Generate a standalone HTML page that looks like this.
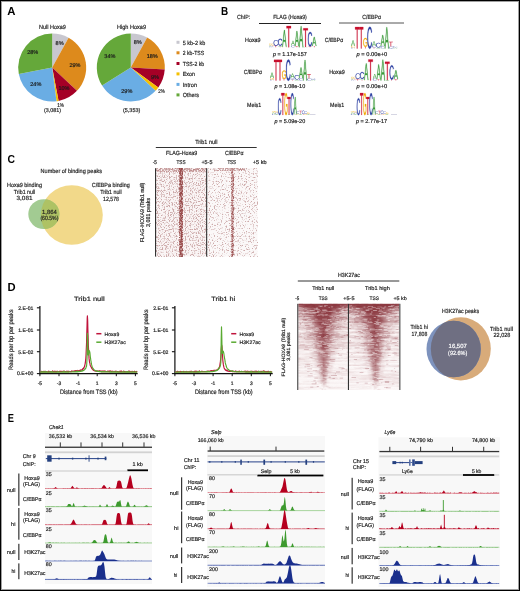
<!DOCTYPE html>
<html><head><meta charset="utf-8"><style>
html,body{margin:0;padding:0;background:#fff;}
#f{position:relative;width:520px;height:591px;overflow:hidden;background:#fff;}
#f svg{position:absolute;left:0;top:0;opacity:0.999;}
#bd{position:absolute;left:0;top:0;width:518px;height:589px;border:1px solid #000;box-shadow:inset 0 0 0 1px #a0a0a0;}
text{font-family:"Liberation Sans", sans-serif;text-rendering:geometricPrecision;}
</style></head><body><div id="f">
<svg width="520" height="591" viewBox="0 0 520 591" font-family="Liberation Sans, sans-serif" fill="#222">
<text x="7.20" y="14.60" font-size="11.6" font-weight="bold" fill="#000" textLength="8.20" lengthAdjust="spacingAndGlyphs">A</text>
<text x="221.00" y="15.00" font-size="11.6" font-weight="bold" fill="#000" textLength="7.20" lengthAdjust="spacingAndGlyphs">B</text>
<text x="7.40" y="162.80" font-size="11.6" font-weight="bold" fill="#000" textLength="7.50" lengthAdjust="spacingAndGlyphs">C</text>
<text x="7.40" y="291.40" font-size="11.6" font-weight="bold" fill="#000" textLength="8.10" lengthAdjust="spacingAndGlyphs">D</text>
<text x="7.70" y="422.00" font-size="11.6" font-weight="bold" fill="#000" textLength="6.20" lengthAdjust="spacingAndGlyphs">E</text>
<path d="M52.20,67.60 L52.20,33.60 A34,34 0 0 1 68.58,37.81 Z" fill="#c8c7cf"/>
<path d="M52.20,67.60 L68.58,37.81 A34,34 0 0 1 76.98,90.87 Z" fill="#dd8a1c"/>
<path d="M52.20,67.60 L76.98,90.87 A34,34 0 0 1 58.57,101.00 Z" fill="#a50026"/>
<path d="M52.20,67.60 L58.57,101.00 A34,34 0 0 1 56.46,101.33 Z" fill="#f5c000"/>
<path d="M52.20,67.60 L56.46,101.33 A34,34 0 0 1 18.80,73.97 Z" fill="#6aade4"/>
<path d="M52.20,67.60 L18.80,73.97 A34,34 0 0 1 52.20,33.60 Z" fill="#65a83a"/>
<path d="M130.80,67.40 L130.80,33.40 A34,34 0 0 1 147.18,37.61 Z" fill="#c8c7cf"/>
<path d="M130.80,67.40 L147.18,37.61 A34,34 0 0 1 164.73,69.53 Z" fill="#dd8a1c"/>
<path d="M130.80,67.40 L164.73,69.53 A34,34 0 0 1 158.31,87.38 Z" fill="#a50026"/>
<path d="M130.80,67.40 L158.31,87.38 A34,34 0 0 1 155.58,90.67 Z" fill="#f5c000"/>
<path d="M130.80,67.40 L155.58,90.67 A34,34 0 0 1 102.09,85.62 Z" fill="#6aade4"/>
<path d="M130.80,67.40 L102.09,85.62 A34,34 0 0 1 130.80,33.40 Z" fill="#65a83a"/>
<text x="39.00" y="29.00" font-size="5.94" textLength="26.80" lengthAdjust="spacingAndGlyphs" stroke="#222" stroke-width="0.18">Null Hoxa9</text>
<text x="117.00" y="29.00" font-size="5.94" textLength="29.00" lengthAdjust="spacingAndGlyphs" stroke="#222" stroke-width="0.18">High Hoxa9</text>
<text x="44.00" y="112.00" font-size="5.54" textLength="17.00" lengthAdjust="spacingAndGlyphs" stroke="#222" stroke-width="0.18">(3,081)</text>
<text x="123.00" y="112.00" font-size="5.54" textLength="17.30" lengthAdjust="spacingAndGlyphs" stroke="#222" stroke-width="0.18">(5,353)</text>
<text x="57.30" y="106.50" font-size="5.54" textLength="6.70" lengthAdjust="spacingAndGlyphs" stroke="#222" stroke-width="0.18">1%</text>
<text x="158.30" y="93.20" font-size="5.54" textLength="6.50" lengthAdjust="spacingAndGlyphs" stroke="#222" stroke-width="0.18">2%</text>
<text x="59.60" y="44.60" font-size="5.54" text-anchor="middle" fill="#1a1a1a" textLength="8.01" lengthAdjust="spacingAndGlyphs" stroke="#1a1a1a" stroke-width="0.18">8%</text>
<text x="75.00" y="67.40" font-size="5.54" text-anchor="middle" fill="#1a1a1a" textLength="11.10" lengthAdjust="spacingAndGlyphs" stroke="#1a1a1a" stroke-width="0.18">29%</text>
<text x="64.00" y="90.00" font-size="5.54" text-anchor="middle" fill="#1a1a1a" textLength="11.10" lengthAdjust="spacingAndGlyphs" stroke="#1a1a1a" stroke-width="0.18">10%</text>
<text x="35.80" y="86.00" font-size="5.54" text-anchor="middle" fill="#1a1a1a" textLength="11.10" lengthAdjust="spacingAndGlyphs" stroke="#1a1a1a" stroke-width="0.18">24%</text>
<text x="32.70" y="54.30" font-size="5.54" text-anchor="middle" fill="#1a1a1a" textLength="11.10" lengthAdjust="spacingAndGlyphs" stroke="#1a1a1a" stroke-width="0.18">28%</text>
<text x="137.80" y="43.70" font-size="5.54" text-anchor="middle" fill="#1a1a1a" textLength="8.01" lengthAdjust="spacingAndGlyphs" stroke="#1a1a1a" stroke-width="0.18">8%</text>
<text x="152.20" y="58.00" font-size="5.54" text-anchor="middle" fill="#1a1a1a" textLength="11.10" lengthAdjust="spacingAndGlyphs" stroke="#1a1a1a" stroke-width="0.18">18%</text>
<text x="155.00" y="78.80" font-size="5.54" text-anchor="middle" fill="#1a1a1a" textLength="8.01" lengthAdjust="spacingAndGlyphs" stroke="#1a1a1a" stroke-width="0.18">9%</text>
<text x="126.80" y="93.00" font-size="5.54" text-anchor="middle" fill="#1a1a1a" textLength="11.10" lengthAdjust="spacingAndGlyphs" stroke="#1a1a1a" stroke-width="0.18">29%</text>
<text x="109.90" y="58.00" font-size="5.54" text-anchor="middle" fill="#1a1a1a" textLength="11.10" lengthAdjust="spacingAndGlyphs" stroke="#1a1a1a" stroke-width="0.18">34%</text>
<rect x="176.50" y="40.80" width="3.00" height="3.00" fill="#c8c7cf"/>
<text x="182.80" y="44.50" font-size="5.94" textLength="22.40" lengthAdjust="spacingAndGlyphs" stroke="#222" stroke-width="0.18">5 kb-2 kb</text>
<rect x="176.50" y="51.30" width="3.00" height="3.00" fill="#dd8a1c"/>
<text x="182.80" y="55.00" font-size="5.94" textLength="21.30" lengthAdjust="spacingAndGlyphs" stroke="#222" stroke-width="0.18">2 kb-TSS</text>
<rect x="176.50" y="62.00" width="3.00" height="3.00" fill="#a50026"/>
<text x="182.80" y="65.70" font-size="5.94" textLength="21.30" lengthAdjust="spacingAndGlyphs" stroke="#222" stroke-width="0.18">TSS-2 kb</text>
<rect x="176.50" y="72.40" width="3.00" height="3.00" fill="#f5c000"/>
<text x="182.80" y="76.10" font-size="5.94" textLength="12.10" lengthAdjust="spacingAndGlyphs" stroke="#222" stroke-width="0.18">Exon</text>
<rect x="176.50" y="82.90" width="3.00" height="3.00" fill="#6aade4"/>
<text x="182.80" y="86.60" font-size="5.94" textLength="14.20" lengthAdjust="spacingAndGlyphs" stroke="#222" stroke-width="0.18">Intron</text>
<rect x="176.50" y="93.40" width="3.00" height="3.00" fill="#65a83a"/>
<text x="182.80" y="97.10" font-size="5.94" textLength="16.20" lengthAdjust="spacingAndGlyphs" stroke="#222" stroke-width="0.18">Others</text>
<text x="237.00" y="18.70" font-size="5.94" textLength="13.30" lengthAdjust="spacingAndGlyphs" stroke="#222" stroke-width="0.18">ChIP:</text>
<text x="273.20" y="18.70" font-size="5.94" textLength="33.60" lengthAdjust="spacingAndGlyphs" stroke="#222" stroke-width="0.18">FLAG (Hoxa9)</text>
<text x="362.30" y="18.70" font-size="5.94" textLength="18.70" lengthAdjust="spacingAndGlyphs" stroke="#222" stroke-width="0.18">C/EBPα</text>
<line x1="259.00" y1="23.50" x2="321.00" y2="23.50" stroke="#222" stroke-width="1"/>
<line x1="339.00" y1="23.00" x2="404.00" y2="23.00" stroke="#555" stroke-width="1"/>
<text x="245.00" y="41.80" font-size="5.94" textLength="15.60" lengthAdjust="spacingAndGlyphs" stroke="#222" stroke-width="0.18">Hoxa9</text>
<text x="243.70" y="74.40" font-size="5.94" textLength="18.30" lengthAdjust="spacingAndGlyphs" stroke="#222" stroke-width="0.18">C/EBPα</text>
<text x="247.00" y="106.90" font-size="5.94" textLength="14.20" lengthAdjust="spacingAndGlyphs" stroke="#222" stroke-width="0.18">Meis1</text>
<text x="324.80" y="41.50" font-size="5.94" textLength="18.40" lengthAdjust="spacingAndGlyphs" stroke="#222" stroke-width="0.18">C/EBPα</text>
<text x="329.20" y="74.10" font-size="5.94" textLength="15.60" lengthAdjust="spacingAndGlyphs" stroke="#222" stroke-width="0.18">Hoxa9</text>
<text x="330.00" y="106.90" font-size="5.94" textLength="14.20" lengthAdjust="spacingAndGlyphs" stroke="#222" stroke-width="0.18">Meis1</text>
<text x="273.00" y="55.90" font-size="5.54" textLength="33.70" lengthAdjust="spacingAndGlyphs" stroke="#222" stroke-width="0.18"><tspan font-style="italic">p</tspan> = 1.17e-157</text>
<text x="274.40" y="88.00" font-size="5.54" textLength="30.80" lengthAdjust="spacingAndGlyphs" stroke="#222" stroke-width="0.18"><tspan font-style="italic">p</tspan> = 1.08e-10</text>
<text x="274.40" y="122.90" font-size="5.54" textLength="30.80" lengthAdjust="spacingAndGlyphs" stroke="#222" stroke-width="0.18"><tspan font-style="italic">p</tspan> = 5.09e-20</text>
<text x="356.50" y="55.90" font-size="5.54" textLength="30.80" lengthAdjust="spacingAndGlyphs" stroke="#222" stroke-width="0.18"><tspan font-style="italic">p</tspan> = 0.00e+0</text>
<text x="356.50" y="88.00" font-size="5.54" textLength="30.80" lengthAdjust="spacingAndGlyphs" stroke="#222" stroke-width="0.18"><tspan font-style="italic">p</tspan> = 0.00e+0</text>
<text x="356.00" y="122.90" font-size="5.54" textLength="31.00" lengthAdjust="spacingAndGlyphs" stroke="#222" stroke-width="0.18"><tspan font-style="italic">p</tspan> = 2.77e-17</text>
<defs><path id="gA" d="M1167 0 1006 -412H364L202 0H4L579 -1409H796L1362 0ZM685 -1265 676 -1237Q651 -1154 602 -1024L422 -561H949L768 -1026Q740 -1095 712 -1182Z" vector-effect="non-scaling-stroke"/><path id="gC" d="M792 -1274Q558 -1274 428 -1124Q298 -973 298 -711Q298 -452 434 -294Q569 -137 800 -137Q1096 -137 1245 -430L1401 -352Q1314 -170 1156 -75Q999 20 791 20Q578 20 422 -68Q267 -157 186 -322Q104 -486 104 -711Q104 -1048 286 -1239Q468 -1430 790 -1430Q1015 -1430 1166 -1342Q1317 -1254 1388 -1081L1207 -1021Q1158 -1144 1050 -1209Q941 -1274 792 -1274Z" vector-effect="non-scaling-stroke"/><path id="gG" d="M103 -711Q103 -1054 287 -1242Q471 -1430 804 -1430Q1038 -1430 1184 -1351Q1330 -1272 1409 -1098L1227 -1044Q1167 -1164 1062 -1219Q956 -1274 799 -1274Q555 -1274 426 -1126Q297 -979 297 -711Q297 -444 434 -290Q571 -135 813 -135Q951 -135 1070 -177Q1190 -219 1264 -291V-545H843V-705H1440V-219Q1328 -105 1166 -42Q1003 20 813 20Q592 20 432 -68Q272 -156 188 -322Q103 -487 103 -711Z" vector-effect="non-scaling-stroke"/><path id="gT" d="M720 -1253V0H530V-1253H46V-1409H1204V-1253Z" vector-effect="non-scaling-stroke"/></defs>
<use href="#gC" transform="translate(268.82,47.30) scale(0.00173,0.00071)" fill="#2a3ea0" opacity="0.8"/>
<use href="#gA" transform="translate(268.99,46.30) scale(0.00166,0.00071)" fill="#3b9b3b" opacity="0.8"/>
<use href="#gG" transform="translate(268.83,45.30) scale(0.00168,0.00121)" fill="#f0a800" opacity="0.8"/>
<use href="#gC" transform="translate(271.07,47.30) scale(0.00173,0.00071)" fill="#2a3ea0" opacity="0.8"/>
<use href="#gT" transform="translate(271.16,46.30) scale(0.00194,0.00057)" fill="#c8102e" opacity="0.8"/>
<use href="#gG" transform="translate(271.08,45.50) scale(0.00168,0.00135)" fill="#f0a800" opacity="0.8"/>
<use href="#gT" transform="translate(273.32,47.30) scale(0.00389,0.00106)" fill="#c8102e" opacity="0.8"/>
<use href="#gC" transform="translate(273.14,45.80) scale(0.00347,0.00412)" fill="#2a3ea0"/>
<use href="#gT" transform="translate(277.83,47.30) scale(0.00367,0.00043)" fill="#c8102e" opacity="0.8"/>
<use href="#gA" transform="translate(277.99,46.70) scale(0.00313,0.00071)" fill="#3b9b3b" opacity="0.8"/>
<use href="#gC" transform="translate(277.66,45.70) scale(0.00328,0.00490)" fill="#2a3ea0" stroke="#2a3ea0" stroke-width="0.22"/>
<use href="#gG" transform="translate(281.92,47.30) scale(0.00318,0.00043)" fill="#f0a800" opacity="0.8"/>
<use href="#gA" transform="translate(282.24,46.70) scale(0.00313,0.01185)" fill="#3b9b3b" stroke="#3b9b3b" stroke-width="0.22"/>
<use href="#gT" transform="translate(286.32,47.30) scale(0.00389,0.01512)" fill="#c8102e" stroke="#c8102e" stroke-width="0.22"/>
<use href="#gC" transform="translate(290.69,47.30) scale(0.00297,0.00135)" fill="#2a3ea0" opacity="0.8"/>
<use href="#gA" transform="translate(290.99,45.40) scale(0.00284,0.00334)" fill="#3b9b3b"/>
<use href="#gT" transform="translate(294.69,47.30) scale(0.00350,0.00085)" fill="#c8102e" opacity="0.8"/>
<use href="#gA" transform="translate(294.84,46.10) scale(0.00298,0.01072)" fill="#3b9b3b" stroke="#3b9b3b" stroke-width="0.22"/>
<use href="#gA" transform="translate(298.89,47.30) scale(0.00324,0.01498)" fill="#3b9b3b" stroke="#3b9b3b" stroke-width="0.22"/>
<use href="#gA" transform="translate(303.29,47.30) scale(0.00339,0.00028)" fill="#3b9b3b" opacity="0.8"/>
<use href="#gT" transform="translate(303.12,46.90) scale(0.00397,0.01320)" fill="#c8102e" stroke="#c8102e" stroke-width="0.22"/>
<use href="#gT" transform="translate(307.73,47.30) scale(0.00363,0.00071)" fill="#c8102e" opacity="0.8"/>
<use href="#gC" transform="translate(307.56,46.30) scale(0.00324,0.01008)" fill="#2a3ea0" stroke="#2a3ea0" stroke-width="0.22"/>
<use href="#gT" transform="translate(311.93,47.30) scale(0.00371,0.00099)" fill="#c8102e" opacity="0.8"/>
<use href="#gA" transform="translate(312.09,45.90) scale(0.00317,0.00639)" fill="#3b9b3b" stroke="#3b9b3b" stroke-width="0.22"/>
<use href="#gC" transform="translate(269.68,80.50) scale(0.00308,0.00071)" fill="#2a3ea0" opacity="0.8"/>
<use href="#gG" transform="translate(269.69,79.50) scale(0.00299,0.00106)" fill="#f0a800" opacity="0.8"/>
<use href="#gA" transform="translate(269.99,78.00) scale(0.00295,0.00390)" fill="#3b9b3b"/>
<use href="#gT" transform="translate(273.84,80.50) scale(0.00345,0.01469)" fill="#c8102e" stroke="#c8102e" stroke-width="0.22"/>
<use href="#gT" transform="translate(277.84,80.50) scale(0.00345,0.01469)" fill="#c8102e" stroke="#c8102e" stroke-width="0.22"/>
<use href="#gT" transform="translate(281.84,80.50) scale(0.00345,0.00128)" fill="#c8102e" opacity="0.8"/>
<use href="#gG" transform="translate(281.69,78.70) scale(0.00299,0.00582)" fill="#f0a800" stroke="#f0a800" stroke-width="0.22"/>
<use href="#gC" transform="translate(285.64,80.50) scale(0.00347,0.01469)" fill="#2a3ea0" stroke="#2a3ea0" stroke-width="0.22"/>
<use href="#gT" transform="translate(290.34,80.50) scale(0.00345,0.00071)" fill="#c8102e" opacity="0.8"/>
<use href="#gC" transform="translate(290.18,79.50) scale(0.00308,0.00106)" fill="#2a3ea0" opacity="0.8"/>
<use href="#gA" transform="translate(290.49,78.00) scale(0.00295,0.00319)" fill="#3b9b3b"/>
<use href="#gA" transform="translate(294.49,80.50) scale(0.00331,0.00071)" fill="#3b9b3b" opacity="0.8"/>
<use href="#gC" transform="translate(294.14,79.50) scale(0.00347,0.00319)" fill="#2a3ea0"/>
<use href="#gC" transform="translate(298.68,80.50) scale(0.00308,0.00177)" fill="#2a3ea0" opacity="0.8"/>
<use href="#gA" transform="translate(298.99,78.00) scale(0.00295,0.00745)" fill="#3b9b3b" stroke="#3b9b3b" stroke-width="0.22"/>
<use href="#gA" transform="translate(302.99,80.50) scale(0.00295,0.01455)" fill="#3b9b3b" stroke="#3b9b3b" stroke-width="0.22"/>
<use href="#gC" transform="translate(306.68,80.50) scale(0.00308,0.00142)" fill="#2a3ea0" opacity="0.8"/>
<use href="#gT" transform="translate(306.84,78.50) scale(0.00345,0.00319)" fill="#c8102e"/>
<use href="#gA" transform="translate(310.99,80.50) scale(0.00331,0.00057)" fill="#3b9b3b" opacity="0.8"/>
<use href="#gC" transform="translate(310.64,79.70) scale(0.00347,0.00085)" fill="#2a3ea0" opacity="0.8"/>
<use href="#gC" transform="translate(271.76,115.00) scale(0.00231,0.00071)" fill="#2a3ea0" opacity="0.8"/>
<use href="#gA" transform="translate(271.99,114.00) scale(0.00221,0.00099)" fill="#3b9b3b" opacity="0.8"/>
<use href="#gG" transform="translate(271.77,112.60) scale(0.00224,0.00114)" fill="#f0a800" opacity="0.8"/>
<use href="#gA" transform="translate(274.99,115.00) scale(0.00221,0.00071)" fill="#3b9b3b" opacity="0.8"/>
<use href="#gC" transform="translate(274.76,114.00) scale(0.00231,0.00085)" fill="#2a3ea0" opacity="0.8"/>
<use href="#gG" transform="translate(274.77,112.80) scale(0.00224,0.00128)" fill="#f0a800" opacity="0.8"/>
<use href="#gC" transform="translate(277.74,115.00) scale(0.00251,0.01178)" fill="#2a3ea0" stroke="#2a3ea0" stroke-width="0.22"/>
<use href="#gT" transform="translate(281.12,115.00) scale(0.00281,0.01561)" fill="#c8102e" stroke="#c8102e" stroke-width="0.22"/>
<use href="#gG" transform="translate(284.28,115.00) scale(0.00217,0.01547)" fill="#f0a800" stroke="#f0a800" stroke-width="0.22"/>
<use href="#gA" transform="translate(287.39,115.00) scale(0.00239,0.00028)" fill="#3b9b3b" opacity="0.8"/>
<use href="#gT" transform="translate(287.27,114.60) scale(0.00281,0.01249)" fill="#c8102e" stroke="#c8102e" stroke-width="0.22"/>
<use href="#gC" transform="translate(290.40,115.00) scale(0.00239,0.01540)" fill="#2a3ea0" stroke="#2a3ea0" stroke-width="0.22"/>
<use href="#gT" transform="translate(293.63,115.00) scale(0.00250,0.00043)" fill="#c8102e" opacity="0.8"/>
<use href="#gA" transform="translate(293.74,114.40) scale(0.00214,0.01235)" fill="#3b9b3b" stroke="#3b9b3b" stroke-width="0.22"/>
<use href="#gG" transform="translate(296.45,115.00) scale(0.00194,0.00085)" fill="#f0a800" opacity="0.8"/>
<use href="#gC" transform="translate(296.44,113.80) scale(0.00200,0.00199)" fill="#2a3ea0" opacity="0.8"/>
<use href="#gA" transform="translate(299.24,115.00) scale(0.00191,0.00085)" fill="#3b9b3b" opacity="0.8"/>
<use href="#gT" transform="translate(299.15,113.80) scale(0.00225,0.00213)" fill="#c8102e" opacity="0.8"/>
<use href="#gT" transform="translate(301.75,115.00) scale(0.00225,0.00071)" fill="#c8102e" opacity="0.8"/>
<use href="#gC" transform="translate(301.64,114.00) scale(0.00200,0.00241)" fill="#2a3ea0"/>
<use href="#gG" transform="translate(304.25,115.00) scale(0.00194,0.00071)" fill="#f0a800" opacity="0.8"/>
<use href="#gC" transform="translate(304.24,114.00) scale(0.00200,0.00213)" fill="#2a3ea0" opacity="0.8"/>
<use href="#gA" transform="translate(307.04,115.00) scale(0.00191,0.00071)" fill="#3b9b3b" opacity="0.8"/>
<use href="#gG" transform="translate(306.85,114.00) scale(0.00194,0.00114)" fill="#f0a800" opacity="0.8"/>
<rect x="309.5" y="114" width="6" height="0.8" fill="#ccd"/>
<use href="#gC" transform="translate(350.67,48.50) scale(0.00315,0.00074)" fill="#2a3ea0" opacity="0.8"/>
<use href="#gG" transform="translate(350.68,47.46) scale(0.00306,0.00111)" fill="#f0a800" opacity="0.8"/>
<use href="#gA" transform="translate(350.99,45.90) scale(0.00301,0.00405)" fill="#3b9b3b"/>
<use href="#gT" transform="translate(354.93,48.50) scale(0.00353,0.01526)" fill="#c8102e" stroke="#c8102e" stroke-width="0.22"/>
<use href="#gT" transform="translate(359.02,48.50) scale(0.00353,0.01526)" fill="#c8102e" stroke="#c8102e" stroke-width="0.22"/>
<use href="#gT" transform="translate(363.10,48.50) scale(0.00353,0.00133)" fill="#c8102e" opacity="0.8"/>
<use href="#gG" transform="translate(362.95,46.63) scale(0.00306,0.00604)" fill="#f0a800" stroke="#f0a800" stroke-width="0.22"/>
<use href="#gC" transform="translate(366.99,48.50) scale(0.00355,0.01526)" fill="#2a3ea0" stroke="#2a3ea0" stroke-width="0.22"/>
<use href="#gT" transform="translate(371.79,48.50) scale(0.00353,0.00074)" fill="#c8102e" opacity="0.8"/>
<use href="#gC" transform="translate(371.63,47.46) scale(0.00315,0.00111)" fill="#2a3ea0" opacity="0.8"/>
<use href="#gA" transform="translate(371.94,45.90) scale(0.00301,0.00332)" fill="#3b9b3b"/>
<use href="#gA" transform="translate(376.03,48.50) scale(0.00339,0.00074)" fill="#3b9b3b" opacity="0.8"/>
<use href="#gC" transform="translate(375.68,47.46) scale(0.00355,0.00332)" fill="#2a3ea0"/>
<use href="#gC" transform="translate(380.32,48.50) scale(0.00315,0.00184)" fill="#2a3ea0" opacity="0.8"/>
<use href="#gA" transform="translate(380.63,45.90) scale(0.00301,0.00774)" fill="#3b9b3b" stroke="#3b9b3b" stroke-width="0.22"/>
<use href="#gA" transform="translate(384.72,48.50) scale(0.00301,0.01511)" fill="#3b9b3b" stroke="#3b9b3b" stroke-width="0.22"/>
<use href="#gC" transform="translate(388.49,48.50) scale(0.00315,0.00147)" fill="#2a3ea0" opacity="0.8"/>
<use href="#gT" transform="translate(388.66,46.42) scale(0.00353,0.00332)" fill="#c8102e"/>
<use href="#gA" transform="translate(392.90,48.50) scale(0.00339,0.00059)" fill="#3b9b3b" opacity="0.8"/>
<use href="#gC" transform="translate(392.54,47.67) scale(0.00355,0.00088)" fill="#2a3ea0" opacity="0.8"/>
<use href="#gC" transform="translate(350.82,80.50) scale(0.00172,0.00070)" fill="#2a3ea0" opacity="0.8"/>
<use href="#gA" transform="translate(350.99,79.51) scale(0.00164,0.00070)" fill="#3b9b3b" opacity="0.8"/>
<use href="#gG" transform="translate(350.83,78.53) scale(0.00167,0.00119)" fill="#f0a800" opacity="0.8"/>
<use href="#gC" transform="translate(353.05,80.50) scale(0.00172,0.00070)" fill="#2a3ea0" opacity="0.8"/>
<use href="#gT" transform="translate(353.14,79.51) scale(0.00193,0.00056)" fill="#c8102e" opacity="0.8"/>
<use href="#gG" transform="translate(353.06,78.73) scale(0.00167,0.00133)" fill="#f0a800" opacity="0.8"/>
<use href="#gT" transform="translate(355.28,80.50) scale(0.00385,0.00105)" fill="#c8102e" opacity="0.8"/>
<use href="#gC" transform="translate(355.10,79.02) scale(0.00344,0.00406)" fill="#2a3ea0"/>
<use href="#gT" transform="translate(359.76,80.50) scale(0.00364,0.00042)" fill="#c8102e" opacity="0.8"/>
<use href="#gA" transform="translate(359.91,79.91) scale(0.00310,0.00070)" fill="#3b9b3b" opacity="0.8"/>
<use href="#gC" transform="translate(359.59,78.92) scale(0.00325,0.00483)" fill="#2a3ea0" stroke="#2a3ea0" stroke-width="0.22"/>
<use href="#gG" transform="translate(363.81,80.50) scale(0.00315,0.00042)" fill="#f0a800" opacity="0.8"/>
<use href="#gA" transform="translate(364.13,79.91) scale(0.00310,0.01169)" fill="#3b9b3b" stroke="#3b9b3b" stroke-width="0.22"/>
<use href="#gT" transform="translate(368.18,80.50) scale(0.00385,0.01490)" fill="#c8102e" stroke="#c8102e" stroke-width="0.22"/>
<use href="#gC" transform="translate(372.51,80.50) scale(0.00294,0.00133)" fill="#2a3ea0" opacity="0.8"/>
<use href="#gA" transform="translate(372.80,78.63) scale(0.00281,0.00329)" fill="#3b9b3b"/>
<use href="#gT" transform="translate(376.47,80.50) scale(0.00347,0.00084)" fill="#c8102e" opacity="0.8"/>
<use href="#gA" transform="translate(376.62,79.32) scale(0.00296,0.01057)" fill="#3b9b3b" stroke="#3b9b3b" stroke-width="0.22"/>
<use href="#gA" transform="translate(380.63,80.50) scale(0.00321,0.01476)" fill="#3b9b3b" stroke="#3b9b3b" stroke-width="0.22"/>
<use href="#gA" transform="translate(385.00,80.50) scale(0.00336,0.00028)" fill="#3b9b3b" opacity="0.8"/>
<use href="#gT" transform="translate(384.83,80.11) scale(0.00394,0.01301)" fill="#c8102e" stroke="#c8102e" stroke-width="0.22"/>
<use href="#gT" transform="translate(389.41,80.50) scale(0.00360,0.00070)" fill="#c8102e" opacity="0.8"/>
<use href="#gC" transform="translate(389.24,79.51) scale(0.00321,0.00994)" fill="#2a3ea0" stroke="#2a3ea0" stroke-width="0.22"/>
<use href="#gT" transform="translate(393.57,80.50) scale(0.00368,0.00098)" fill="#c8102e" opacity="0.8"/>
<use href="#gA" transform="translate(393.72,79.12) scale(0.00314,0.00630)" fill="#3b9b3b" stroke="#3b9b3b" stroke-width="0.22"/>
<use href="#gC" transform="translate(350.56,115.00) scale(0.00231,0.00071)" fill="#2a3ea0" opacity="0.8"/>
<use href="#gA" transform="translate(350.79,114.00) scale(0.00221,0.00099)" fill="#3b9b3b" opacity="0.8"/>
<use href="#gG" transform="translate(350.57,112.60) scale(0.00224,0.00114)" fill="#f0a800" opacity="0.8"/>
<use href="#gA" transform="translate(353.79,115.00) scale(0.00221,0.00071)" fill="#3b9b3b" opacity="0.8"/>
<use href="#gC" transform="translate(353.56,114.00) scale(0.00231,0.00085)" fill="#2a3ea0" opacity="0.8"/>
<use href="#gG" transform="translate(353.57,112.80) scale(0.00224,0.00128)" fill="#f0a800" opacity="0.8"/>
<use href="#gC" transform="translate(356.54,115.00) scale(0.00251,0.01178)" fill="#2a3ea0" stroke="#2a3ea0" stroke-width="0.22"/>
<use href="#gT" transform="translate(359.92,115.00) scale(0.00281,0.01561)" fill="#c8102e" stroke="#c8102e" stroke-width="0.22"/>
<use href="#gG" transform="translate(363.08,115.00) scale(0.00217,0.01547)" fill="#f0a800" stroke="#f0a800" stroke-width="0.22"/>
<use href="#gA" transform="translate(366.19,115.00) scale(0.00239,0.00028)" fill="#3b9b3b" opacity="0.8"/>
<use href="#gT" transform="translate(366.07,114.60) scale(0.00281,0.01249)" fill="#c8102e" stroke="#c8102e" stroke-width="0.22"/>
<use href="#gC" transform="translate(369.20,115.00) scale(0.00239,0.01540)" fill="#2a3ea0" stroke="#2a3ea0" stroke-width="0.22"/>
<use href="#gT" transform="translate(372.43,115.00) scale(0.00250,0.00043)" fill="#c8102e" opacity="0.8"/>
<use href="#gA" transform="translate(372.54,114.40) scale(0.00214,0.01235)" fill="#3b9b3b" stroke="#3b9b3b" stroke-width="0.22"/>
<use href="#gG" transform="translate(375.25,115.00) scale(0.00194,0.00085)" fill="#f0a800" opacity="0.8"/>
<use href="#gC" transform="translate(375.24,113.80) scale(0.00200,0.00199)" fill="#2a3ea0" opacity="0.8"/>
<use href="#gA" transform="translate(378.04,115.00) scale(0.00191,0.00085)" fill="#3b9b3b" opacity="0.8"/>
<use href="#gT" transform="translate(377.95,113.80) scale(0.00225,0.00213)" fill="#c8102e" opacity="0.8"/>
<use href="#gT" transform="translate(380.55,115.00) scale(0.00225,0.00071)" fill="#c8102e" opacity="0.8"/>
<use href="#gC" transform="translate(380.44,114.00) scale(0.00200,0.00241)" fill="#2a3ea0"/>
<use href="#gG" transform="translate(383.05,115.00) scale(0.00194,0.00071)" fill="#f0a800" opacity="0.8"/>
<use href="#gC" transform="translate(383.04,114.00) scale(0.00200,0.00213)" fill="#2a3ea0" opacity="0.8"/>
<use href="#gA" transform="translate(385.84,115.00) scale(0.00191,0.00071)" fill="#3b9b3b" opacity="0.8"/>
<use href="#gG" transform="translate(385.65,114.00) scale(0.00194,0.00114)" fill="#f0a800" opacity="0.8"/>
<rect x="391" y="114" width="6" height="0.8" fill="#ccd"/>
<text x="40.60" y="173.00" font-size="5.94" textLength="61.40" lengthAdjust="spacingAndGlyphs" stroke="#222" stroke-width="0.18">Number of binding peaks</text>
<text x="24.50" y="187.20" font-size="5.94" text-anchor="middle" textLength="34.90" lengthAdjust="spacingAndGlyphs" stroke="#222" stroke-width="0.18">Hoxa9 binding</text>
<text x="24.50" y="194.00" font-size="5.94" text-anchor="middle" textLength="21.50" lengthAdjust="spacingAndGlyphs" stroke="#222" stroke-width="0.18">Trib1 null</text>
<text x="24.50" y="200.40" font-size="5.94" text-anchor="middle" textLength="16.00" lengthAdjust="spacingAndGlyphs" stroke="#222" stroke-width="0.18">3,081</text>
<text x="110.80" y="187.20" font-size="5.94" text-anchor="middle" textLength="38.00" lengthAdjust="spacingAndGlyphs" stroke="#222" stroke-width="0.18">C/EBPa binding</text>
<text x="110.95" y="194.00" font-size="5.94" text-anchor="middle" textLength="21.50" lengthAdjust="spacingAndGlyphs" stroke="#222" stroke-width="0.18">Trib1 null</text>
<text x="111.00" y="200.70" font-size="5.94" text-anchor="middle" textLength="16.00" lengthAdjust="spacingAndGlyphs" stroke="#222" stroke-width="0.18">12,578</text>
<ellipse cx="71.8" cy="215" rx="31" ry="29.7" fill="#f2d98a"/>
<ellipse cx="43.85" cy="214.1" rx="15.55" ry="14.95" fill="#a2cb92"/>
<clipPath id="cv"><ellipse cx="71.8" cy="215" rx="31" ry="29.7"/></clipPath>
<ellipse cx="43.85" cy="214.1" rx="15.55" ry="14.95" fill="#aec264" clip-path="url(#cv)"/>
<text x="49.40" y="214.40" font-size="5.94" text-anchor="middle" textLength="14.86" lengthAdjust="spacingAndGlyphs" stroke="#222" stroke-width="0.18">1,864</text>
<text x="49.40" y="220.30" font-size="5.94" text-anchor="middle" textLength="18.00" lengthAdjust="spacingAndGlyphs" stroke="#222" stroke-width="0.18">(60.5%)</text>
<text x="195.20" y="143.50" font-size="5.94" textLength="22.20" lengthAdjust="spacingAndGlyphs" stroke="#222" stroke-width="0.18">Trib1 null</text>
<line x1="155.80" y1="147.50" x2="256.70" y2="147.50" stroke="#333" stroke-width="1"/>
<text x="166.00" y="155.30" font-size="5.94" textLength="31.20" lengthAdjust="spacingAndGlyphs" stroke="#222" stroke-width="0.18">FLAG-Hoxa9</text>
<text x="224.90" y="155.30" font-size="5.94" textLength="18.60" lengthAdjust="spacingAndGlyphs" stroke="#222" stroke-width="0.18">C/EBPα</text>
<text x="152.80" y="164.30" font-size="5.54" textLength="4.20" lengthAdjust="spacingAndGlyphs" stroke="#222" stroke-width="0.18">-5</text>
<text x="176.50" y="164.30" font-size="5.54" textLength="9.00" lengthAdjust="spacingAndGlyphs" stroke="#222" stroke-width="0.18">TSS</text>
<text x="201.40" y="164.30" font-size="5.54" textLength="11.10" lengthAdjust="spacingAndGlyphs" stroke="#222" stroke-width="0.18">+5-5</text>
<text x="227.40" y="164.30" font-size="5.54" textLength="8.70" lengthAdjust="spacingAndGlyphs" stroke="#222" stroke-width="0.18">TSS</text>
<text x="252.80" y="164.30" font-size="5.54" textLength="13.80" lengthAdjust="spacingAndGlyphs" stroke="#222" stroke-width="0.18">+5 kb</text>
<text transform="translate(144.10,212.50) rotate(-90)" font-size="5.6" text-anchor="middle" textLength="59.70" lengthAdjust="spacingAndGlyphs" stroke="#222" stroke-width="0.18">FLAG-HOXA9 (Trib1 null)</text>
<text transform="translate(149.60,212.40) rotate(-90)" font-size="5.6" text-anchor="middle" textLength="29.20" lengthAdjust="spacingAndGlyphs" stroke="#222" stroke-width="0.18">3,081 peaks</text>
<line x1="39.90" y1="306.00" x2="39.90" y2="374.20" stroke="#111" stroke-width="1.2"/>
<line x1="39.30" y1="373.60" x2="137.70" y2="373.60" stroke="#111" stroke-width="1.2"/>
<line x1="36.90" y1="307.80" x2="39.90" y2="307.80" stroke="#111" stroke-width="1.1"/>
<text x="33.40" y="309.60" font-size="5.15" text-anchor="end" textLength="15.17" lengthAdjust="spacingAndGlyphs" stroke="#222" stroke-width="0.18">2.E-01</text>
<line x1="36.90" y1="330.00" x2="39.90" y2="330.00" stroke="#111" stroke-width="1.1"/>
<text x="33.40" y="331.80" font-size="5.15" text-anchor="end" textLength="15.17" lengthAdjust="spacingAndGlyphs" stroke="#222" stroke-width="0.18">1.E-01</text>
<line x1="36.90" y1="351.70" x2="39.90" y2="351.70" stroke="#111" stroke-width="1.1"/>
<text x="33.40" y="353.50" font-size="5.15" text-anchor="end" textLength="15.17" lengthAdjust="spacingAndGlyphs" stroke="#222" stroke-width="0.18">5.E-02</text>
<line x1="36.90" y1="373.60" x2="39.90" y2="373.60" stroke="#111" stroke-width="1.1"/>
<text x="33.40" y="375.40" font-size="5.15" text-anchor="end" textLength="16.46" lengthAdjust="spacingAndGlyphs" stroke="#222" stroke-width="0.18">0.E+00</text>
<line x1="39.90" y1="373.60" x2="39.90" y2="376.20" stroke="#111" stroke-width="1.0"/>
<text x="39.90" y="385.00" font-size="4.95" text-anchor="middle" textLength="4.40" lengthAdjust="spacingAndGlyphs" stroke="#222" stroke-width="0.18">-5</text>
<line x1="59.00" y1="373.60" x2="59.00" y2="376.20" stroke="#111" stroke-width="1.0"/>
<text x="59.00" y="385.00" font-size="4.95" text-anchor="middle" textLength="4.40" lengthAdjust="spacingAndGlyphs" stroke="#222" stroke-width="0.18">-3</text>
<line x1="78.10" y1="373.60" x2="78.10" y2="376.20" stroke="#111" stroke-width="1.0"/>
<text x="78.10" y="385.00" font-size="4.95" text-anchor="middle" textLength="4.40" lengthAdjust="spacingAndGlyphs" stroke="#222" stroke-width="0.18">-1</text>
<line x1="97.20" y1="373.60" x2="97.20" y2="376.20" stroke="#111" stroke-width="1.0"/>
<text x="97.20" y="385.00" font-size="4.95" text-anchor="middle" textLength="2.75" lengthAdjust="spacingAndGlyphs" stroke="#222" stroke-width="0.18">1</text>
<line x1="116.30" y1="373.60" x2="116.30" y2="376.20" stroke="#111" stroke-width="1.0"/>
<text x="116.30" y="385.00" font-size="4.95" text-anchor="middle" textLength="2.75" lengthAdjust="spacingAndGlyphs" stroke="#222" stroke-width="0.18">3</text>
<line x1="135.40" y1="373.60" x2="135.40" y2="376.20" stroke="#111" stroke-width="1.0"/>
<text x="135.40" y="385.00" font-size="4.95" text-anchor="middle" textLength="2.75" lengthAdjust="spacingAndGlyphs" stroke="#222" stroke-width="0.18">5</text>
<text x="74.00" y="300.90" font-size="6.34" textLength="30.60" lengthAdjust="spacingAndGlyphs" stroke="#222" stroke-width="0.18">Trib1 null</text>
<text x="60.00" y="394.30" font-size="6.43" textLength="57.70" lengthAdjust="spacingAndGlyphs" stroke="#222" stroke-width="0.18">Distance from TSS (kb)</text>
<text transform="translate(12.50,339.60) rotate(-90)" font-size="6.3" text-anchor="middle" textLength="60.60" lengthAdjust="spacingAndGlyphs" stroke="#222" stroke-width="0.18">Reads per bp per peaks</text>
<line x1="96.30" y1="333.70" x2="101.40" y2="333.70" stroke="#c0143c" stroke-width="1.5"/>
<line x1="96.30" y1="342.20" x2="101.40" y2="342.20" stroke="#5aaa32" stroke-width="1.5"/>
<text x="104.60" y="335.60" font-size="4.95" textLength="14.60" lengthAdjust="spacingAndGlyphs" stroke="#222" stroke-width="0.18">Hoxa9</text>
<text x="104.60" y="344.10" font-size="4.95" textLength="21.20" lengthAdjust="spacingAndGlyphs" stroke="#222" stroke-width="0.18">H3K27ac</text>
<path d="M40.4,371.6 40.6,371.8 40.9,371.8 41.1,371.8 41.4,371.8 41.6,371.3 41.8,371.8 42.1,371.8 42.3,371.8 42.6,371.8 42.8,371.5 43.1,371.8 43.3,371.8 43.5,371.8 43.8,371.8 44.0,371.2 44.3,371.8 44.5,371.8 44.7,371.8 45.0,371.8 45.2,371.2 45.5,371.8 45.7,371.8 45.9,371.8 46.2,371.8 46.4,371.7 46.7,371.8 46.9,371.8 47.2,371.8 47.4,371.8 47.6,371.8 47.9,371.8 48.1,371.8 48.4,371.8 48.6,371.8 48.8,371.0 49.1,371.8 49.3,371.8 49.6,371.8 49.8,371.8 50.0,371.5 50.3,371.8 50.5,371.8 50.8,371.8 51.0,371.8 51.3,371.6 51.5,371.8 51.7,371.8 52.0,371.8 52.2,371.8 52.5,370.9 52.7,371.8 52.9,371.8 53.2,371.8 53.4,371.8 53.7,371.3 53.9,371.8 54.2,371.8 54.4,371.8 54.6,371.8 54.9,371.0 55.1,371.8 55.4,371.8 55.6,371.8 55.8,371.8 56.1,371.3 56.3,371.8 56.6,371.8 56.8,371.8 57.0,371.8 57.3,371.2 57.5,371.7 57.8,371.7 58.0,371.7 58.3,371.7 58.5,371.6 58.7,371.7 59.0,371.7 59.2,371.7 59.5,371.7 59.7,371.2 59.9,371.7 60.2,371.7 60.4,371.7 60.7,371.7 60.9,371.0 61.1,371.7 61.4,371.7 61.6,371.7 61.9,371.7 62.1,371.3 62.4,371.7 62.6,371.7 62.8,371.7 63.1,371.7 63.3,371.1 63.6,371.7 63.8,371.7 64.0,371.7 64.3,371.7 64.5,371.1 64.8,371.7 65.0,371.7 65.2,371.7 65.5,371.7 65.7,371.6 66.0,371.7 66.2,371.7 66.5,371.7 66.7,371.7 66.9,371.0 67.2,371.7 67.4,371.7 67.7,371.7 67.9,371.7 68.1,371.1 68.4,371.7 68.6,371.7 68.9,371.6 69.1,371.6 69.3,371.4 69.6,371.6 69.8,371.6 70.1,371.6 70.3,371.6 70.6,371.6 70.8,371.6 71.0,371.6 71.3,371.6 71.5,371.6 71.8,370.8 72.0,371.5 72.2,371.5 72.5,371.5 72.7,371.5 73.0,371.1 73.2,371.5 73.5,371.5 73.7,371.5 73.9,371.4 74.2,370.8 74.4,371.4 74.7,371.4 74.9,371.4 75.1,371.3 75.4,370.6 75.6,371.3 75.9,371.3 76.1,371.3 76.3,371.2 76.6,370.6 76.8,371.2 77.1,371.2 77.3,371.1 77.6,371.1 77.8,370.3 78.0,371.0 78.3,371.0 78.5,370.9 78.8,370.9 79.0,370.5 79.2,370.8 79.5,370.8 79.7,370.7 80.0,370.7 80.2,369.9 80.4,370.5 80.7,370.5 80.9,370.4 81.2,370.3 81.4,369.8 81.7,370.1 81.9,370.0 82.1,369.8 82.4,369.7 82.6,368.7 82.9,369.3 83.1,369.1 83.3,368.8 83.6,368.5 83.8,367.3 84.1,367.6 84.3,367.1 84.5,366.4 84.8,365.5 85.0,364.3 85.3,363.0 85.5,361.1 85.8,358.6 86.0,355.3 86.2,350.5 86.5,344.3 86.7,336.1 87.0,326.6 87.2,318.4 87.4,315.8 87.7,320.9 87.9,329.9 88.2,339.0 88.4,346.5 88.7,351.2 88.9,356.0 89.1,358.9 89.4,361.1 89.6,362.6 89.9,363.4 90.1,364.7 90.3,365.5 90.6,366.1 90.8,366.6 91.1,366.6 91.3,367.5 91.5,367.9 91.8,368.3 92.0,368.7 92.3,368.8 92.5,369.3 92.8,369.6 93.0,369.9 93.2,370.1 93.5,369.8 93.7,370.4 94.0,370.6 94.2,370.7 94.4,370.8 94.7,370.5 94.9,370.9 95.2,371.0 95.4,371.0 95.6,371.1 95.9,370.8 96.1,371.2 96.4,371.2 96.6,371.2 96.9,371.3 97.1,370.8 97.3,371.3 97.6,371.3 97.8,371.4 98.1,371.4 98.3,370.9 98.5,371.4 98.8,371.4 99.0,371.5 99.3,371.5 99.5,370.7 99.7,371.5 100.0,371.5 100.2,371.5 100.5,371.5 100.7,370.9 101.0,371.6 101.2,371.6 101.4,371.6 101.7,371.6 101.9,370.8 102.2,371.6 102.4,371.6 102.6,371.6 102.9,371.6 103.1,370.9 103.4,371.6 103.6,371.6 103.8,371.6 104.1,371.6 104.3,370.8 104.6,371.6 104.8,371.7 105.1,371.7 105.3,371.7 105.5,371.1 105.8,371.7 106.0,371.7 106.3,371.7 106.5,371.7 106.7,371.5 107.0,371.7 107.2,371.7 107.5,371.7 107.7,371.7 107.9,370.9 108.2,371.7 108.4,371.7 108.7,371.7 108.9,371.7 109.2,370.9 109.4,371.7 109.6,371.7 109.9,371.7 110.1,371.7 110.4,370.9 110.6,371.7 110.8,371.7 111.1,371.7 111.3,371.7 111.6,371.2 111.8,371.7 112.1,371.7 112.3,371.7 112.5,371.7 112.8,371.1 113.0,371.7 113.3,371.7 113.5,371.7 113.7,371.7 114.0,371.6 114.2,371.7 114.5,371.7 114.7,371.7 114.9,371.7 115.2,371.0 115.4,371.7 115.7,371.7 115.9,371.7 116.2,371.7 116.4,371.2 116.6,371.7 116.9,371.7 117.1,371.7 117.4,371.7 117.6,371.5 117.8,371.8 118.1,371.8 118.3,371.8 118.6,371.8 118.8,371.7 119.0,371.8 119.3,371.8 119.5,371.8 119.8,371.8 120.0,371.0 120.3,371.8 120.5,371.8 120.7,371.8 121.0,371.8 121.2,370.9 121.5,371.8 121.7,371.8 121.9,371.8 122.2,371.8 122.4,371.7 122.7,371.8 122.9,371.8 123.1,371.8 123.4,371.8 123.6,371.1 123.9,371.8 124.1,371.8 124.4,371.8 124.6,371.8 124.8,371.4 125.1,371.8 125.3,371.8 125.6,371.8 125.8,371.8 126.0,371.6 126.3,371.8 126.5,371.8 126.8,371.8 127.0,371.8 127.2,371.5 127.5,371.8 127.7,371.8 128.0,371.8 128.2,371.8 128.5,371.1 128.7,371.8 128.9,371.8 129.2,371.8 129.4,371.8 129.7,371.0 129.9,371.8 130.1,371.8 130.4,371.8 130.6,371.8 130.9,371.7 131.1,371.8 131.4,371.8 131.6,371.8 131.8,371.8 132.1,371.2 132.3,371.8 132.6,371.8 132.8,371.8 133.0,371.8 133.3,371.7 133.5,371.8 133.8,371.8 134.0,371.8 134.2,371.8 134.5,371.2 134.7,371.8 135.0,371.8 135.2,371.8 135.5,371.8 135.7,371.5 135.9,371.8 136.2,371.8 136.4,371.8 136.7,371.8 136.9,371.0" fill="none" stroke="#c0143c" stroke-width="1.15" stroke-linejoin="round"/>
<path d="M40.4,371.7 40.6,372.2 40.9,372.2 41.1,372.2 41.4,372.2 41.6,371.6 41.8,372.2 42.1,372.2 42.3,372.2 42.6,372.2 42.8,371.6 43.1,372.2 43.3,372.2 43.5,372.2 43.8,372.2 44.0,371.5 44.3,372.2 44.5,372.2 44.7,372.2 45.0,372.2 45.2,371.6 45.5,372.2 45.7,372.2 45.9,372.2 46.2,372.2 46.4,371.5 46.7,372.2 46.9,372.2 47.2,372.2 47.4,372.2 47.6,372.1 47.9,372.2 48.1,372.2 48.4,372.2 48.6,372.2 48.8,371.8 49.1,372.2 49.3,372.2 49.6,372.2 49.8,372.2 50.0,371.5 50.3,372.2 50.5,372.2 50.8,372.2 51.0,372.2 51.3,371.7 51.5,372.2 51.7,372.2 52.0,372.2 52.2,372.2 52.5,371.5 52.7,372.2 52.9,372.2 53.2,372.2 53.4,372.2 53.7,372.1 53.9,372.2 54.2,372.1 54.4,372.1 54.6,372.1 54.9,371.8 55.1,372.1 55.4,372.1 55.6,372.1 55.8,372.1 56.1,372.0 56.3,372.1 56.6,372.1 56.8,372.1 57.0,372.1 57.3,371.7 57.5,372.1 57.8,372.1 58.0,372.1 58.3,372.1 58.5,371.7 58.7,372.1 59.0,372.1 59.2,372.1 59.5,372.1 59.7,372.1 59.9,372.1 60.2,372.1 60.4,372.1 60.7,372.1 60.9,372.0 61.1,372.1 61.4,372.1 61.6,372.1 61.9,372.1 62.1,371.9 62.4,372.1 62.6,372.1 62.8,372.1 63.1,372.1 63.3,371.4 63.6,372.1 63.8,372.1 64.0,372.1 64.3,372.1 64.5,371.5 64.8,372.1 65.0,372.1 65.2,372.1 65.5,372.1 65.7,372.0 66.0,372.1 66.2,372.1 66.5,372.1 66.7,372.1 66.9,371.5 67.2,372.1 67.4,372.1 67.7,372.1 67.9,372.1 68.1,372.0 68.4,372.1 68.6,372.1 68.9,372.1 69.1,372.0 69.3,371.6 69.6,372.0 69.8,372.0 70.1,372.0 70.3,372.0 70.6,371.9 70.8,372.0 71.0,372.0 71.3,372.0 71.5,372.0 71.8,372.0 72.0,372.0 72.2,372.0 72.5,372.0 72.7,372.0 73.0,371.3 73.2,372.0 73.5,372.0 73.7,371.9 73.9,371.9 74.2,371.8 74.4,371.9 74.7,371.9 74.9,371.9 75.1,371.9 75.4,371.7 75.6,371.9 75.9,371.9 76.1,371.8 76.3,371.8 76.6,371.1 76.8,371.8 77.1,371.8 77.3,371.8 77.6,371.8 77.8,371.1 78.0,371.7 78.3,371.7 78.5,371.7 78.8,371.7 79.0,371.4 79.2,371.6 79.5,371.6 79.7,371.5 80.0,371.5 80.2,370.8 80.4,371.4 80.7,371.4 80.9,371.3 81.2,371.3 81.4,370.8 81.7,371.2 81.9,371.1 82.1,371.1 82.4,371.0 82.6,370.4 82.9,370.8 83.1,370.7 83.3,370.6 83.6,370.5 83.8,370.2 84.1,370.1 84.3,370.0 84.5,369.8 84.8,369.5 85.0,368.6 85.3,368.9 85.5,368.6 85.8,368.2 86.0,367.7 86.2,366.6 86.5,366.4 86.7,364.7 87.0,359.0 87.2,345.9 87.4,333.2 87.7,336.9 87.9,348.6 88.2,354.9 88.4,355.0 88.7,352.8 88.9,351.9 89.1,350.9 89.4,350.7 89.6,351.4 89.9,352.6 90.1,354.6 90.3,356.5 90.6,358.5 90.8,360.3 91.1,361.6 91.3,363.2 91.5,364.4 91.8,365.4 92.0,366.2 92.3,366.8 92.5,367.5 92.8,368.0 93.0,368.4 93.2,368.8 93.5,369.0 93.7,369.4 94.0,369.7 94.2,369.9 94.4,370.1 94.7,370.2 94.9,370.4 95.2,370.5 95.4,370.7 95.6,370.8 95.9,370.6 96.1,370.9 96.4,371.0 96.6,371.1 96.9,371.2 97.1,370.8 97.3,371.3 97.6,371.3 97.8,371.4 98.1,371.4 98.3,371.5 98.5,371.5 98.8,371.5 99.0,371.6 99.3,371.6 99.5,371.1 99.7,371.6 100.0,371.7 100.2,371.7 100.5,371.7 100.7,371.5 101.0,371.8 101.2,371.8 101.4,371.8 101.7,371.8 101.9,371.6 102.2,371.8 102.4,371.8 102.6,371.9 102.9,371.9 103.1,371.3 103.4,371.9 103.6,371.9 103.8,371.9 104.1,371.9 104.3,371.6 104.6,371.9 104.8,371.9 105.1,372.0 105.3,372.0 105.5,371.7 105.8,372.0 106.0,372.0 106.3,372.0 106.5,372.0 106.7,371.6 107.0,372.0 107.2,372.0 107.5,372.0 107.7,372.0 107.9,371.5 108.2,372.0 108.4,372.0 108.7,372.0 108.9,372.0 109.2,372.0 109.4,372.0 109.6,372.1 109.9,372.1 110.1,372.1 110.4,371.3 110.6,372.1 110.8,372.1 111.1,372.1 111.3,372.1 111.6,372.1 111.8,372.1 112.1,372.1 112.3,372.1 112.5,372.1 112.8,371.5 113.0,372.1 113.3,372.1 113.5,372.1 113.7,372.1 114.0,371.5 114.2,372.1 114.5,372.1 114.7,372.1 114.9,372.1 115.2,372.1 115.4,372.1 115.7,372.1 115.9,372.1 116.2,372.1 116.4,371.5 116.6,372.1 116.9,372.1 117.1,372.1 117.4,372.1 117.6,371.8 117.8,372.1 118.1,372.1 118.3,372.1 118.6,372.1 118.8,371.7 119.0,372.1 119.3,372.1 119.5,372.1 119.8,372.1 120.0,372.1 120.3,372.1 120.5,372.1 120.7,372.1 121.0,372.1 121.2,372.1 121.5,372.1 121.7,372.1 121.9,372.1 122.2,372.1 122.4,372.0 122.7,372.1 122.9,372.1 123.1,372.1 123.4,372.1 123.6,371.4 123.9,372.1 124.1,372.1 124.4,372.1 124.6,372.2 124.8,372.0 125.1,372.2 125.3,372.2 125.6,372.2 125.8,372.2 126.0,371.6 126.3,372.2 126.5,372.2 126.8,372.2 127.0,372.2 127.2,371.5 127.5,372.2 127.7,372.2 128.0,372.2 128.2,372.2 128.5,371.5 128.7,372.2 128.9,372.2 129.2,372.2 129.4,372.2 129.7,371.9 129.9,372.2 130.1,372.2 130.4,372.2 130.6,372.2 130.9,371.9 131.1,372.2 131.4,372.2 131.6,372.2 131.8,372.2 132.1,371.8 132.3,372.2 132.6,372.2 132.8,372.2 133.0,372.2 133.3,371.6 133.5,372.2 133.8,372.2 134.0,372.2 134.2,372.2 134.5,372.1 134.7,372.2 135.0,372.2 135.2,372.2 135.5,372.2 135.7,371.6 135.9,372.2 136.2,372.2 136.4,372.2 136.7,372.2 136.9,371.6" fill="none" stroke="#5aaa32" stroke-width="1.15" stroke-linejoin="round"/>
<line x1="174.90" y1="306.00" x2="174.90" y2="374.20" stroke="#111" stroke-width="1.2"/>
<line x1="174.30" y1="373.60" x2="272.70" y2="373.60" stroke="#111" stroke-width="1.2"/>
<line x1="171.90" y1="307.80" x2="174.90" y2="307.80" stroke="#111" stroke-width="1.1"/>
<text x="168.40" y="309.60" font-size="5.15" text-anchor="end" textLength="15.17" lengthAdjust="spacingAndGlyphs" stroke="#222" stroke-width="0.18">2.E-01</text>
<line x1="171.90" y1="330.00" x2="174.90" y2="330.00" stroke="#111" stroke-width="1.1"/>
<text x="168.40" y="331.80" font-size="5.15" text-anchor="end" textLength="15.17" lengthAdjust="spacingAndGlyphs" stroke="#222" stroke-width="0.18">1.E-01</text>
<line x1="171.90" y1="351.70" x2="174.90" y2="351.70" stroke="#111" stroke-width="1.1"/>
<text x="168.40" y="353.50" font-size="5.15" text-anchor="end" textLength="15.17" lengthAdjust="spacingAndGlyphs" stroke="#222" stroke-width="0.18">5.E-02</text>
<line x1="171.90" y1="373.60" x2="174.90" y2="373.60" stroke="#111" stroke-width="1.1"/>
<text x="168.40" y="375.40" font-size="5.15" text-anchor="end" textLength="16.46" lengthAdjust="spacingAndGlyphs" stroke="#222" stroke-width="0.18">0.E+00</text>
<line x1="174.90" y1="373.60" x2="174.90" y2="376.20" stroke="#111" stroke-width="1.0"/>
<text x="174.90" y="385.00" font-size="4.95" text-anchor="middle" textLength="4.40" lengthAdjust="spacingAndGlyphs" stroke="#222" stroke-width="0.18">-5</text>
<line x1="194.00" y1="373.60" x2="194.00" y2="376.20" stroke="#111" stroke-width="1.0"/>
<text x="194.00" y="385.00" font-size="4.95" text-anchor="middle" textLength="4.40" lengthAdjust="spacingAndGlyphs" stroke="#222" stroke-width="0.18">-3</text>
<line x1="213.10" y1="373.60" x2="213.10" y2="376.20" stroke="#111" stroke-width="1.0"/>
<text x="213.10" y="385.00" font-size="4.95" text-anchor="middle" textLength="4.40" lengthAdjust="spacingAndGlyphs" stroke="#222" stroke-width="0.18">-1</text>
<line x1="232.20" y1="373.60" x2="232.20" y2="376.20" stroke="#111" stroke-width="1.0"/>
<text x="232.20" y="385.00" font-size="4.95" text-anchor="middle" textLength="2.75" lengthAdjust="spacingAndGlyphs" stroke="#222" stroke-width="0.18">1</text>
<line x1="251.30" y1="373.60" x2="251.30" y2="376.20" stroke="#111" stroke-width="1.0"/>
<text x="251.30" y="385.00" font-size="4.95" text-anchor="middle" textLength="2.75" lengthAdjust="spacingAndGlyphs" stroke="#222" stroke-width="0.18">3</text>
<line x1="270.40" y1="373.60" x2="270.40" y2="376.20" stroke="#111" stroke-width="1.0"/>
<text x="270.40" y="385.00" font-size="4.95" text-anchor="middle" textLength="2.75" lengthAdjust="spacingAndGlyphs" stroke="#222" stroke-width="0.18">5</text>
<text x="211.30" y="300.90" font-size="6.34" textLength="24.00" lengthAdjust="spacingAndGlyphs" stroke="#222" stroke-width="0.18">Trib1 hi</text>
<text x="195.00" y="394.30" font-size="6.43" textLength="57.70" lengthAdjust="spacingAndGlyphs" stroke="#222" stroke-width="0.18">Distance from TSS (kb)</text>
<text transform="translate(147.50,339.60) rotate(-90)" font-size="6.3" text-anchor="middle" textLength="60.60" lengthAdjust="spacingAndGlyphs" stroke="#222" stroke-width="0.18">Reads per bp per peaks</text>
<line x1="231.20" y1="333.70" x2="236.30" y2="333.70" stroke="#c0143c" stroke-width="1.5"/>
<line x1="231.20" y1="342.20" x2="236.30" y2="342.20" stroke="#5aaa32" stroke-width="1.5"/>
<text x="239.50" y="335.60" font-size="4.95" textLength="14.60" lengthAdjust="spacingAndGlyphs" stroke="#222" stroke-width="0.18">Hoxa9</text>
<text x="239.50" y="344.10" font-size="4.95" textLength="21.20" lengthAdjust="spacingAndGlyphs" stroke="#222" stroke-width="0.18">H3K27ac</text>
<path d="M175.4,371.5 175.6,371.8 175.9,371.8 176.1,371.8 176.4,371.8 176.6,371.7 176.8,371.8 177.1,371.8 177.3,371.8 177.6,371.8 177.8,371.2 178.1,371.8 178.3,371.8 178.5,371.8 178.8,371.8 179.0,371.7 179.3,371.8 179.5,371.8 179.7,371.8 180.0,371.8 180.2,371.3 180.5,371.8 180.7,371.8 180.9,371.8 181.2,371.8 181.4,371.5 181.7,371.8 181.9,371.8 182.2,371.8 182.4,371.8 182.6,371.7 182.9,371.8 183.1,371.8 183.4,371.8 183.6,371.8 183.8,371.3 184.1,371.8 184.3,371.8 184.6,371.8 184.8,371.8 185.1,371.7 185.3,371.8 185.5,371.8 185.8,371.8 186.0,371.8 186.3,371.4 186.5,371.8 186.7,371.8 187.0,371.8 187.2,371.8 187.5,371.7 187.7,371.8 187.9,371.8 188.2,371.8 188.4,371.8 188.7,371.7 188.9,371.8 189.2,371.8 189.4,371.8 189.6,371.8 189.9,371.4 190.1,371.8 190.4,371.8 190.6,371.8 190.8,371.8 191.1,371.0 191.3,371.8 191.6,371.8 191.8,371.8 192.0,371.8 192.3,371.7 192.5,371.8 192.8,371.8 193.0,371.8 193.3,371.8 193.5,371.6 193.7,371.8 194.0,371.8 194.2,371.8 194.5,371.8 194.7,371.2 194.9,371.8 195.2,371.8 195.4,371.8 195.7,371.8 195.9,370.9 196.1,371.8 196.4,371.8 196.6,371.8 196.9,371.8 197.1,371.3 197.4,371.8 197.6,371.8 197.8,371.8 198.1,371.8 198.3,371.4 198.6,371.8 198.8,371.7 199.0,371.7 199.3,371.7 199.5,370.9 199.8,371.7 200.0,371.7 200.2,371.7 200.5,371.7 200.7,371.7 201.0,371.7 201.2,371.7 201.5,371.7 201.7,371.7 201.9,371.0 202.2,371.7 202.4,371.7 202.7,371.7 202.9,371.7 203.1,371.5 203.4,371.7 203.6,371.7 203.9,371.7 204.1,371.7 204.3,371.6 204.6,371.7 204.8,371.7 205.1,371.7 205.3,371.7 205.6,371.6 205.8,371.7 206.0,371.6 206.3,371.6 206.5,371.6 206.8,371.3 207.0,371.6 207.2,371.6 207.5,371.6 207.7,371.5 208.0,370.8 208.2,371.5 208.5,371.5 208.7,371.5 208.9,371.4 209.2,371.2 209.4,371.4 209.7,371.3 209.9,371.3 210.1,371.3 210.4,370.7 210.6,371.2 210.9,371.2 211.1,371.1 211.3,371.1 211.6,370.5 211.8,371.0 212.1,371.0 212.3,370.9 212.6,370.9 212.8,370.5 213.0,370.8 213.3,370.7 213.5,370.7 213.8,370.7 214.0,370.1 214.2,370.6 214.5,370.5 214.7,370.5 215.0,370.4 215.2,370.3 215.4,370.3 215.7,370.3 215.9,370.2 216.2,370.2 216.4,370.1 216.7,370.0 216.9,369.9 217.1,369.9 217.4,369.7 217.6,369.4 217.9,369.4 218.1,369.3 218.3,369.0 218.6,368.7 218.8,367.8 219.1,367.9 219.3,367.4 219.5,366.6 219.8,365.6 220.0,364.0 220.3,362.7 220.5,360.4 220.8,357.5 221.0,353.8 221.2,349.4 221.5,346.3 221.7,345.1 222.0,346.8 222.2,350.4 222.4,354.0 222.7,358.2 222.9,361.1 223.2,363.3 223.4,364.9 223.6,365.8 223.9,367.1 224.1,367.9 224.4,368.5 224.6,369.0 224.9,369.1 225.1,369.6 225.3,369.9 225.6,370.1 225.8,370.3 226.1,369.8 226.3,370.6 226.5,370.7 226.8,370.8 227.0,370.9 227.3,370.3 227.5,371.0 227.8,371.1 228.0,371.1 228.2,371.2 228.5,371.0 228.7,371.3 229.0,371.3 229.2,371.3 229.4,371.4 229.7,370.9 229.9,371.4 230.2,371.4 230.4,371.5 230.6,371.5 230.9,371.0 231.1,371.5 231.4,371.5 231.6,371.5 231.9,371.5 232.1,370.8 232.3,371.6 232.6,371.6 232.8,371.6 233.1,371.6 233.3,371.0 233.5,371.6 233.8,371.6 234.0,371.6 234.3,371.6 234.5,371.4 234.7,371.6 235.0,371.7 235.2,371.7 235.5,371.7 235.7,370.8 236.0,371.7 236.2,371.7 236.4,371.7 236.7,371.7 236.9,371.6 237.2,371.7 237.4,371.7 237.6,371.7 237.9,371.7 238.1,371.3 238.4,371.7 238.6,371.7 238.8,371.7 239.1,371.7 239.3,371.1 239.6,371.7 239.8,371.7 240.1,371.7 240.3,371.7 240.5,371.6 240.8,371.7 241.0,371.7 241.3,371.7 241.5,371.7 241.7,371.3 242.0,371.7 242.2,371.7 242.5,371.7 242.7,371.7 242.9,371.7 243.2,371.7 243.4,371.7 243.7,371.7 243.9,371.7 244.2,371.2 244.4,371.7 244.6,371.7 244.9,371.8 245.1,371.8 245.4,371.1 245.6,371.8 245.8,371.8 246.1,371.8 246.3,371.8 246.6,371.3 246.8,371.8 247.1,371.8 247.3,371.8 247.5,371.8 247.8,371.0 248.0,371.8 248.3,371.8 248.5,371.8 248.7,371.8 249.0,371.5 249.2,371.8 249.5,371.8 249.7,371.8 249.9,371.8 250.2,371.2 250.4,371.8 250.7,371.8 250.9,371.8 251.2,371.8 251.4,371.2 251.6,371.8 251.9,371.8 252.1,371.8 252.4,371.8 252.6,371.3 252.8,371.8 253.1,371.8 253.3,371.8 253.6,371.8 253.8,371.4 254.0,371.8 254.3,371.8 254.5,371.8 254.8,371.8 255.0,371.0 255.3,371.8 255.5,371.8 255.7,371.8 256.0,371.8 256.2,371.0 256.5,371.8 256.7,371.8 256.9,371.8 257.2,371.8 257.4,371.4 257.7,371.8 257.9,371.8 258.1,371.8 258.4,371.8 258.6,371.2 258.9,371.8 259.1,371.8 259.4,371.8 259.6,371.8 259.8,371.7 260.1,371.8 260.3,371.8 260.6,371.8 260.8,371.8 261.0,371.2 261.3,371.8 261.5,371.8 261.8,371.8 262.0,371.8 262.2,371.2 262.5,371.8 262.7,371.8 263.0,371.8 263.2,371.8 263.5,370.9 263.7,371.8 263.9,371.8 264.2,371.8 264.4,371.8 264.7,371.1 264.9,371.8 265.1,371.8 265.4,371.8 265.6,371.8 265.9,371.5 266.1,371.8 266.4,371.8 266.6,371.8 266.8,371.8 267.1,371.4 267.3,371.8 267.6,371.8 267.8,371.8 268.0,371.8 268.3,371.2 268.5,371.8 268.8,371.8 269.0,371.8 269.2,371.8 269.5,371.8 269.7,371.8 270.0,371.8 270.2,371.8 270.5,371.8 270.7,371.4 270.9,371.8 271.2,371.8 271.4,371.8 271.7,371.8 271.9,371.6" fill="none" stroke="#c0143c" stroke-width="1.15" stroke-linejoin="round"/>
<path d="M175.4,371.8 175.6,372.2 175.9,372.2 176.1,372.2 176.4,372.2 176.6,371.9 176.8,372.2 177.1,372.2 177.3,372.2 177.6,372.2 177.8,372.1 178.1,372.2 178.3,372.2 178.5,372.2 178.8,372.2 179.0,371.5 179.3,372.2 179.5,372.2 179.7,372.2 180.0,372.2 180.2,372.2 180.5,372.2 180.7,372.2 180.9,372.2 181.2,372.2 181.4,371.8 181.7,372.2 181.9,372.2 182.2,372.2 182.4,372.2 182.6,371.5 182.9,372.2 183.1,372.2 183.4,372.2 183.6,372.2 183.8,372.1 184.1,372.2 184.3,372.1 184.6,372.1 184.8,372.1 185.1,371.7 185.3,372.1 185.5,372.1 185.8,372.1 186.0,372.1 186.3,371.7 186.5,372.1 186.7,372.1 187.0,372.1 187.2,372.1 187.5,372.1 187.7,372.1 187.9,372.1 188.2,372.1 188.4,372.1 188.7,371.9 188.9,372.1 189.2,372.1 189.4,372.1 189.6,372.1 189.9,371.6 190.1,372.1 190.4,372.1 190.6,372.1 190.8,372.1 191.1,371.8 191.3,372.1 191.6,372.1 191.8,372.1 192.0,372.1 192.3,371.6 192.5,372.1 192.8,372.1 193.0,372.1 193.3,372.1 193.5,372.0 193.7,372.1 194.0,372.1 194.2,372.1 194.5,372.1 194.7,371.9 194.9,372.1 195.2,372.1 195.4,372.1 195.7,372.1 195.9,372.0 196.1,372.1 196.4,372.1 196.6,372.1 196.9,372.1 197.1,371.7 197.4,372.1 197.6,372.1 197.8,372.1 198.1,372.1 198.3,371.4 198.6,372.1 198.8,372.1 199.0,372.1 199.3,372.1 199.5,371.6 199.8,372.1 200.0,372.1 200.2,372.1 200.5,372.1 200.7,371.5 201.0,372.0 201.2,372.0 201.5,372.0 201.7,372.0 201.9,371.7 202.2,372.0 202.4,372.0 202.7,372.0 202.9,372.0 203.1,371.5 203.4,372.0 203.6,372.0 203.9,372.0 204.1,372.0 204.3,371.9 204.6,372.0 204.8,372.0 205.1,372.0 205.3,372.0 205.6,371.7 205.8,372.0 206.0,371.9 206.3,371.9 206.5,371.9 206.8,371.4 207.0,371.9 207.2,371.9 207.5,371.9 207.7,371.9 208.0,371.3 208.2,371.9 208.5,371.9 208.7,371.8 208.9,371.8 209.2,371.5 209.4,371.8 209.7,371.8 209.9,371.8 210.1,371.8 210.4,371.7 210.6,371.7 210.9,371.7 211.1,371.7 211.3,371.7 211.6,371.5 211.8,371.6 212.1,371.6 212.3,371.6 212.6,371.6 212.8,371.4 213.0,371.5 213.3,371.5 213.5,371.4 213.8,371.4 214.0,371.1 214.2,371.3 214.5,371.2 214.7,371.2 215.0,371.1 215.2,370.5 215.4,371.0 215.7,370.9 215.9,370.9 216.2,370.8 216.4,370.5 216.7,370.6 216.9,370.5 217.1,370.3 217.4,370.2 217.6,369.4 217.9,369.8 218.1,369.6 218.3,369.4 218.6,369.2 218.8,368.2 219.1,368.5 219.3,368.2 219.5,367.7 219.8,367.2 220.0,366.6 220.3,366.0 220.5,365.0 220.8,362.7 221.0,354.9 221.2,338.6 221.5,326.8 221.7,333.1 222.0,347.0 222.2,353.5 222.4,353.5 222.7,352.6 222.9,351.6 223.2,351.2 223.4,351.5 223.6,352.3 223.9,353.7 224.1,355.3 224.4,357.0 224.6,358.7 224.9,359.9 225.1,361.7 225.3,362.9 225.6,364.0 225.8,365.0 226.1,365.1 226.3,366.5 226.5,367.1 226.8,367.6 227.0,368.0 227.3,368.4 227.5,368.8 227.8,369.1 228.0,369.3 228.2,369.6 228.5,369.3 228.7,370.0 229.0,370.1 229.2,370.3 229.4,370.4 229.7,370.4 229.9,370.6 230.2,370.7 230.4,370.8 230.6,370.9 230.9,370.6 231.1,371.1 231.4,371.1 231.6,371.2 231.9,371.2 232.1,370.6 232.3,371.3 232.6,371.4 232.8,371.4 233.1,371.4 233.3,371.3 233.5,371.5 233.8,371.5 234.0,371.6 234.3,371.6 234.5,371.6 234.7,371.6 235.0,371.7 235.2,371.7 235.5,371.7 235.7,371.7 236.0,371.7 236.2,371.8 236.4,371.8 236.7,371.8 236.9,371.4 237.2,371.8 237.4,371.8 237.6,371.8 237.9,371.9 238.1,371.9 238.4,371.9 238.6,371.9 238.8,371.9 239.1,371.9 239.3,371.8 239.6,371.9 239.8,371.9 240.1,371.9 240.3,371.9 240.5,371.6 240.8,372.0 241.0,372.0 241.3,372.0 241.5,372.0 241.7,371.3 242.0,372.0 242.2,372.0 242.5,372.0 242.7,372.0 242.9,371.7 243.2,372.0 243.4,372.0 243.7,372.0 243.9,372.0 244.2,371.7 244.4,372.0 244.6,372.0 244.9,372.0 245.1,372.0 245.4,371.6 245.6,372.1 245.8,372.1 246.1,372.1 246.3,372.1 246.6,372.0 246.8,372.1 247.1,372.1 247.3,372.1 247.5,372.1 247.8,371.6 248.0,372.1 248.3,372.1 248.5,372.1 248.7,372.1 249.0,372.0 249.2,372.1 249.5,372.1 249.7,372.1 249.9,372.1 250.2,371.6 250.4,372.1 250.7,372.1 250.9,372.1 251.2,372.1 251.4,371.4 251.6,372.1 251.9,372.1 252.1,372.1 252.4,372.1 252.6,372.1 252.8,372.1 253.1,372.1 253.3,372.1 253.6,372.1 253.8,371.7 254.0,372.1 254.3,372.1 254.5,372.1 254.8,372.1 255.0,371.7 255.3,372.1 255.5,372.1 255.7,372.1 256.0,372.1 256.2,372.0 256.5,372.1 256.7,372.1 256.9,372.1 257.2,372.1 257.4,371.9 257.7,372.1 257.9,372.1 258.1,372.1 258.4,372.1 258.6,371.4 258.9,372.1 259.1,372.1 259.4,372.1 259.6,372.1 259.8,371.4 260.1,372.1 260.3,372.1 260.6,372.1 260.8,372.1 261.0,372.1 261.3,372.1 261.5,372.1 261.8,372.1 262.0,372.1 262.2,371.6 262.5,372.2 262.7,372.2 263.0,372.2 263.2,372.2 263.5,371.4 263.7,372.2 263.9,372.2 264.2,372.2 264.4,372.2 264.7,372.0 264.9,372.2 265.1,372.2 265.4,372.2 265.6,372.2 265.9,371.7 266.1,372.2 266.4,372.2 266.6,372.2 266.8,372.2 267.1,372.1 267.3,372.2 267.6,372.2 267.8,372.2 268.0,372.2 268.3,371.9 268.5,372.2 268.8,372.2 269.0,372.2 269.2,372.2 269.5,371.7 269.7,372.2 270.0,372.2 270.2,372.2 270.5,372.2 270.7,371.7 270.9,372.2 271.2,372.2 271.4,372.2 271.7,372.2 271.9,371.6" fill="none" stroke="#5aaa32" stroke-width="1.15" stroke-linejoin="round"/>
<text x="338.00" y="276.70" font-size="5.94" textLength="22.00" lengthAdjust="spacingAndGlyphs" stroke="#222" stroke-width="0.18">H3K27ac</text>
<line x1="297.80" y1="281.00" x2="399.30" y2="281.00" stroke="#333" stroke-width="1"/>
<text x="312.20" y="289.50" font-size="5.54" textLength="22.10" lengthAdjust="spacingAndGlyphs" stroke="#222" stroke-width="0.18">Trib1 null</text>
<text x="365.00" y="289.50" font-size="5.54" textLength="24.80" lengthAdjust="spacingAndGlyphs" stroke="#222" stroke-width="0.18">Trib1 high</text>
<text x="295.30" y="300.00" font-size="4.95" textLength="4.00" lengthAdjust="spacingAndGlyphs" stroke="#222" stroke-width="0.18">-5</text>
<text x="318.70" y="300.00" font-size="4.95" textLength="9.00" lengthAdjust="spacingAndGlyphs" stroke="#222" stroke-width="0.18">TSS</text>
<text x="343.20" y="300.00" font-size="4.95" textLength="11.30" lengthAdjust="spacingAndGlyphs" stroke="#222" stroke-width="0.18">+5-5</text>
<text x="369.50" y="300.00" font-size="4.95" textLength="9.50" lengthAdjust="spacingAndGlyphs" stroke="#222" stroke-width="0.18">TSS</text>
<text x="393.40" y="300.00" font-size="4.95" textLength="13.40" lengthAdjust="spacingAndGlyphs" stroke="#222" stroke-width="0.18">+5 kb</text>
<text transform="translate(285.30,347.20) rotate(-90)" font-size="4.8" text-anchor="middle" textLength="58.60" lengthAdjust="spacingAndGlyphs" stroke="#222" stroke-width="0.18">FLAG-HOXA9 (Trib1 null)</text>
<text transform="translate(290.40,346.50) rotate(-90)" font-size="4.8" text-anchor="middle" textLength="28.40" lengthAdjust="spacingAndGlyphs" stroke="#222" stroke-width="0.18">3,081 peaks</text>
<text x="442.00" y="312.70" font-size="5.94" textLength="37.00" lengthAdjust="spacingAndGlyphs" stroke="#222" stroke-width="0.18">H3K27ac peaks</text>
<ellipse cx="460.8" cy="348.85" rx="30" ry="31.55" fill="#d8ab7a"/>
<ellipse cx="453.65" cy="349.05" rx="27.15" ry="28.25" fill="#7d92bd"/>
<clipPath id="cv2"><ellipse cx="460.8" cy="348.85" rx="30" ry="31.55"/></clipPath>
<ellipse cx="453.65" cy="349.05" rx="27.15" ry="28.25" fill="#6f6f82" clip-path="url(#cv2)"/>
<text x="457.70" y="347.90" font-size="5.94" text-anchor="middle" fill="#fff" textLength="18.17" lengthAdjust="spacingAndGlyphs" stroke="#fff" stroke-width="0.18">16,507</text>
<text x="457.70" y="354.60" font-size="5.94" text-anchor="middle" fill="#fff" textLength="19.20" lengthAdjust="spacingAndGlyphs" stroke="#fff" stroke-width="0.18">(92.6%)</text>
<text x="410.50" y="328.90" font-size="5.94" textLength="17.40" lengthAdjust="spacingAndGlyphs" stroke="#222" stroke-width="0.18">Trib1 hi</text>
<text x="411.50" y="335.80" font-size="5.94" textLength="15.80" lengthAdjust="spacingAndGlyphs" stroke="#222" stroke-width="0.18">17,808</text>
<text x="490.00" y="331.20" font-size="5.94" textLength="23.00" lengthAdjust="spacingAndGlyphs" stroke="#222" stroke-width="0.18">Trib1 null</text>
<text x="493.50" y="337.40" font-size="5.94" textLength="16.90" lengthAdjust="spacingAndGlyphs" stroke="#222" stroke-width="0.18">22,028</text>
<defs><filter id="nzC1" x="0" y="0" width="1" height="1" color-interpolation-filters="sRGB"><feTurbulence type="fractalNoise" baseFrequency="0.75" numOctaves="2" seed="4" result="t"/><feColorMatrix in="t" type="matrix" values="0 0 0 0 0.690  0 0 0 0 0.478  0 0 0 0 0.478  5 0 0 0 -2.450"/><feComponentTransfer><feFuncA type="linear" slope="0.62"/></feComponentTransfer><feGaussianBlur stdDeviation="0.4"/></filter><filter id="nzC2" x="0" y="0" width="1" height="1" color-interpolation-filters="sRGB"><feTurbulence type="fractalNoise" baseFrequency="0.75" numOctaves="2" seed="9" result="t"/><feColorMatrix in="t" type="matrix" values="0 0 0 0 0.690  0 0 0 0 0.478  0 0 0 0 0.478  5 0 0 0 -2.700"/><feComponentTransfer><feFuncA type="linear" slope="0.62"/></feComponentTransfer><feGaussianBlur stdDeviation="0.4"/></filter><filter id="nzC3" x="0" y="0" width="1" height="1" color-interpolation-filters="sRGB"><feTurbulence type="fractalNoise" baseFrequency="0.75" numOctaves="2" seed="13" result="t"/><feColorMatrix in="t" type="matrix" values="0 0 0 0 0.541  0 0 0 0 0.204  0 0 0 0 0.204  4 0 0 0 -1.280"/><feComponentTransfer><feFuncA type="linear" slope="0.8"/></feComponentTransfer><feGaussianBlur stdDeviation="0.3"/></filter><filter id="nzC4" x="0" y="0" width="1" height="1" color-interpolation-filters="sRGB"><feTurbulence type="fractalNoise" baseFrequency="0.75" numOctaves="2" seed="17" result="t"/><feColorMatrix in="t" type="matrix" values="0 0 0 0 0.557  0 0 0 0 0.227  0 0 0 0 0.227  4 0 0 0 -1.520"/><feComponentTransfer><feFuncA type="linear" slope="0.75"/></feComponentTransfer><feGaussianBlur stdDeviation="0.3"/></filter><filter id="nzC5" x="0" y="0" width="1" height="1" color-interpolation-filters="sRGB"><feTurbulence type="fractalNoise" baseFrequency="0.75" numOctaves="2" seed="21" result="t"/><feColorMatrix in="t" type="matrix" values="0 0 0 0 0.690  0 0 0 0 0.455  0 0 0 0 0.455  5 0 0 0 -2.000"/><feComponentTransfer><feFuncA type="linear" slope="0.7"/></feComponentTransfer><feGaussianBlur stdDeviation="0.3"/></filter></defs>
<rect x="156" y="168.2" width="50.5" height="88.3" fill="#faf5f5"/>
<rect x="207" y="168.2" width="50.5" height="88.3" fill="#fbf8f8"/>
<rect x="156" y="168.2" width="50.5" height="88.3" filter="url(#nzC1)"/>
<rect x="207" y="168.2" width="50.5" height="88.3" filter="url(#nzC2)"/>
<rect x="156" y="168.2" width="50.5" height="3" filter="url(#nzC5)"/>
<rect x="213" y="168.2" width="32" height="2" filter="url(#nzC5)"/>
<rect x="180.3" y="168.2" width="1.9" height="88.3" fill="#a04848" opacity="0.45"/>
<rect x="179.7" y="168.2" width="3.1" height="88.3" filter="url(#nzC3)"/>
<rect x="231.9" y="168.2" width="1.3" height="88.3" fill="#a04848" opacity="0.35"/>
<rect x="231.4" y="168.2" width="2.3" height="88.3" filter="url(#nzC4)"/>
<rect x="155" y="168.2" width="1.1" height="88.4" fill="#333"/>
<rect x="206.1" y="168.2" width="1.1" height="88.4" fill="#333"/>
<defs><linearGradient id="r0"><stop offset="0.000" stop-color="#80262e"/><stop offset="0.162" stop-color="#80262e"/><stop offset="0.364" stop-color="#80262e"/><stop offset="0.508" stop-color="#80262e"/><stop offset="0.652" stop-color="#80262e"/><stop offset="0.854" stop-color="#80262e"/><stop offset="1.000" stop-color="#8b3840"/></linearGradient><linearGradient id="r1"><stop offset="0.000" stop-color="#9b545a"/><stop offset="0.166" stop-color="#80262e"/><stop offset="0.366" stop-color="#80262e"/><stop offset="0.508" stop-color="#80262e"/><stop offset="0.651" stop-color="#80262e"/><stop offset="0.850" stop-color="#852f37"/><stop offset="1.000" stop-color="#a05c62"/></linearGradient><linearGradient id="r2"><stop offset="0.000" stop-color="#9e585e"/><stop offset="0.170" stop-color="#80262e"/><stop offset="0.367" stop-color="#80262e"/><stop offset="0.508" stop-color="#80262e"/><stop offset="0.649" stop-color="#80262e"/><stop offset="0.847" stop-color="#842d35"/><stop offset="1.000" stop-color="#9e585e"/></linearGradient><linearGradient id="r3"><stop offset="0.000" stop-color="#ad7277"/><stop offset="0.174" stop-color="#914249"/><stop offset="0.369" stop-color="#80262e"/><stop offset="0.508" stop-color="#80262e"/><stop offset="0.648" stop-color="#80262e"/><stop offset="0.843" stop-color="#8a383f"/><stop offset="1.000" stop-color="#9e595f"/></linearGradient><linearGradient id="r4"><stop offset="0.000" stop-color="#ba888c"/><stop offset="0.178" stop-color="#ae7479"/><stop offset="0.371" stop-color="#80262e"/><stop offset="0.508" stop-color="#80262e"/><stop offset="0.646" stop-color="#80262e"/><stop offset="0.839" stop-color="#a46369"/><stop offset="1.000" stop-color="#c19498"/></linearGradient><linearGradient id="r5"><stop offset="0.000" stop-color="#be8f93"/><stop offset="0.182" stop-color="#91434a"/><stop offset="0.373" stop-color="#80262e"/><stop offset="0.508" stop-color="#80262e"/><stop offset="0.644" stop-color="#80262e"/><stop offset="0.835" stop-color="#af767b"/><stop offset="1.000" stop-color="#be8f93"/></linearGradient><linearGradient id="r6"><stop offset="0.000" stop-color="#ac7176"/><stop offset="0.186" stop-color="#9b545a"/><stop offset="0.374" stop-color="#80262e"/><stop offset="0.509" stop-color="#80262e"/><stop offset="0.643" stop-color="#80262e"/><stop offset="0.831" stop-color="#a5646a"/><stop offset="1.000" stop-color="#ae7479"/></linearGradient><linearGradient id="r7"><stop offset="0.000" stop-color="#c59a9e"/><stop offset="0.190" stop-color="#aa6c72"/><stop offset="0.376" stop-color="#80262e"/><stop offset="0.509" stop-color="#80262e"/><stop offset="0.641" stop-color="#80262e"/><stop offset="0.827" stop-color="#b78488"/><stop offset="1.000" stop-color="#e1cacc"/></linearGradient><linearGradient id="r8"><stop offset="0.000" stop-color="#d2b1b4"/><stop offset="0.194" stop-color="#cba4a8"/><stop offset="0.378" stop-color="#8b3940"/><stop offset="0.509" stop-color="#80262e"/><stop offset="0.640" stop-color="#80262e"/><stop offset="0.823" stop-color="#c8a1a4"/><stop offset="1.000" stop-color="#d6b8ba"/></linearGradient><linearGradient id="r9"><stop offset="0.000" stop-color="#c59b9f"/><stop offset="0.198" stop-color="#c09296"/><stop offset="0.379" stop-color="#80262e"/><stop offset="0.509" stop-color="#80262e"/><stop offset="0.638" stop-color="#80262e"/><stop offset="0.819" stop-color="#b68186"/><stop offset="1.000" stop-color="#c69c9f"/></linearGradient><linearGradient id="r10"><stop offset="0.000" stop-color="#b58085"/><stop offset="0.202" stop-color="#a46469"/><stop offset="0.381" stop-color="#80262e"/><stop offset="0.509" stop-color="#80262e"/><stop offset="0.636" stop-color="#80262e"/><stop offset="0.815" stop-color="#94484f"/><stop offset="1.000" stop-color="#c8a0a3"/></linearGradient><linearGradient id="r11"><stop offset="0.000" stop-color="#d5b6b8"/><stop offset="0.206" stop-color="#c2969a"/><stop offset="0.383" stop-color="#9b5359"/><stop offset="0.509" stop-color="#80262e"/><stop offset="0.635" stop-color="#9f5a60"/><stop offset="0.811" stop-color="#d2b1b4"/><stop offset="1.000" stop-color="#dec5c7"/></linearGradient><linearGradient id="r12"><stop offset="0.000" stop-color="#d8babc"/><stop offset="0.210" stop-color="#b0777c"/><stop offset="0.385" stop-color="#822931"/><stop offset="0.509" stop-color="#80262e"/><stop offset="0.633" stop-color="#92454c"/><stop offset="0.807" stop-color="#bd8c90"/><stop offset="1.000" stop-color="#d6b7ba"/></linearGradient><linearGradient id="r13"><stop offset="0.000" stop-color="#cfabae"/><stop offset="0.214" stop-color="#c4999d"/><stop offset="0.386" stop-color="#88333b"/><stop offset="0.509" stop-color="#80262e"/><stop offset="0.632" stop-color="#873239"/><stop offset="0.804" stop-color="#ac7075"/><stop offset="1.000" stop-color="#e4cfd0"/></linearGradient><linearGradient id="r14"><stop offset="0.000" stop-color="#e1cbcc"/><stop offset="0.218" stop-color="#c29599"/><stop offset="0.388" stop-color="#80262e"/><stop offset="0.509" stop-color="#842e35"/><stop offset="0.630" stop-color="#8f3f46"/><stop offset="0.800" stop-color="#bc8b8f"/><stop offset="1.000" stop-color="#d6b8ba"/></linearGradient><linearGradient id="r15"><stop offset="0.000" stop-color="#ddc4c6"/><stop offset="0.222" stop-color="#b27a7f"/><stop offset="0.390" stop-color="#8d3c44"/><stop offset="0.509" stop-color="#80262e"/><stop offset="0.629" stop-color="#80262e"/><stop offset="0.796" stop-color="#b68186"/><stop offset="1.000" stop-color="#d6b7ba"/></linearGradient><linearGradient id="r16"><stop offset="0.000" stop-color="#e1cbcc"/><stop offset="0.226" stop-color="#caa2a6"/><stop offset="0.391" stop-color="#964c52"/><stop offset="0.509" stop-color="#88333b"/><stop offset="0.627" stop-color="#a96b70"/><stop offset="0.792" stop-color="#be8f93"/><stop offset="1.000" stop-color="#dec5c6"/></linearGradient><linearGradient id="r17"><stop offset="0.000" stop-color="#f7efef"/><stop offset="0.230" stop-color="#d9bdbf"/><stop offset="0.393" stop-color="#a26066"/><stop offset="0.509" stop-color="#9b545b"/><stop offset="0.626" stop-color="#93464c"/><stop offset="0.788" stop-color="#cfacaf"/><stop offset="1.000" stop-color="#ecdcdd"/></linearGradient><linearGradient id="r18"><stop offset="0.000" stop-color="#dcc2c4"/><stop offset="0.005" stop-color="#d5b6b9"/><stop offset="0.234" stop-color="#c79ea1"/><stop offset="0.395" stop-color="#89363d"/><stop offset="0.509" stop-color="#80262e"/><stop offset="0.624" stop-color="#974c53"/><stop offset="0.785" stop-color="#cca7aa"/><stop offset="1.000" stop-color="#e6d2d3"/></linearGradient><linearGradient id="r19"><stop offset="0.000" stop-color="#e8d6d7"/><stop offset="0.012" stop-color="#e1cbcc"/><stop offset="0.238" stop-color="#c9a1a4"/><stop offset="0.396" stop-color="#93464d"/><stop offset="0.509" stop-color="#8c3a42"/><stop offset="0.622" stop-color="#8e3e45"/><stop offset="0.781" stop-color="#ceaaad"/><stop offset="1.000" stop-color="#e2ccce"/></linearGradient><linearGradient id="r20"><stop offset="0.000" stop-color="#f7eff0"/><stop offset="0.019" stop-color="#e3ced0"/><stop offset="0.242" stop-color="#dfc7c8"/><stop offset="0.398" stop-color="#93454c"/><stop offset="0.510" stop-color="#863139"/><stop offset="0.621" stop-color="#8f3f46"/><stop offset="0.777" stop-color="#caa4a7"/><stop offset="1.000" stop-color="#e0c8ca"/><stop offset="1.000" stop-color="#dabec0"/></linearGradient><linearGradient id="r21"><stop offset="0.000" stop-color="#d7b8bb"/><stop offset="0.026" stop-color="#e5d0d2"/><stop offset="0.246" stop-color="#cba6a9"/><stop offset="0.400" stop-color="#a05c62"/><stop offset="0.510" stop-color="#80272f"/><stop offset="0.619" stop-color="#94484f"/><stop offset="0.773" stop-color="#d2b1b3"/><stop offset="0.993" stop-color="#eee1e2"/><stop offset="1.000" stop-color="#e4cfd0"/></linearGradient><linearGradient id="r22"><stop offset="0.000" stop-color="#e1cacc"/><stop offset="0.033" stop-color="#e8d6d7"/><stop offset="0.250" stop-color="#d0adb0"/><stop offset="0.401" stop-color="#995056"/><stop offset="0.510" stop-color="#984e55"/><stop offset="0.618" stop-color="#9b545b"/><stop offset="0.769" stop-color="#bd8e92"/><stop offset="0.986" stop-color="#eadadb"/><stop offset="1.000" stop-color="#e2cbcd"/></linearGradient><linearGradient id="r23"><stop offset="0.000" stop-color="#ceaaad"/><stop offset="0.040" stop-color="#cca7aa"/><stop offset="0.254" stop-color="#c09295"/><stop offset="0.403" stop-color="#974c53"/><stop offset="0.510" stop-color="#80262e"/><stop offset="0.616" stop-color="#89353c"/><stop offset="0.766" stop-color="#bc8c90"/><stop offset="0.979" stop-color="#c69ca0"/><stop offset="1.000" stop-color="#cda9ac"/></linearGradient><linearGradient id="r24"><stop offset="0.000" stop-color="#e9d8d9"/><stop offset="0.047" stop-color="#e1c9cb"/><stop offset="0.258" stop-color="#cba5a8"/><stop offset="0.405" stop-color="#9d575d"/><stop offset="0.510" stop-color="#8a363e"/><stop offset="0.615" stop-color="#a05b61"/><stop offset="0.762" stop-color="#cba5a8"/><stop offset="0.972" stop-color="#e4d0d1"/><stop offset="1.000" stop-color="#dcc2c4"/></linearGradient><linearGradient id="r25"><stop offset="0.000" stop-color="#d9bcbf"/><stop offset="0.054" stop-color="#dbc0c2"/><stop offset="0.261" stop-color="#b8858a"/><stop offset="0.406" stop-color="#8e3d44"/><stop offset="0.510" stop-color="#8b3940"/><stop offset="0.613" stop-color="#995157"/><stop offset="0.758" stop-color="#c4999d"/><stop offset="0.965" stop-color="#e3cdce"/><stop offset="1.000" stop-color="#d5b6b8"/></linearGradient><linearGradient id="r26"><stop offset="0.000" stop-color="#fbf6f6"/><stop offset="0.061" stop-color="#e9d8d9"/><stop offset="0.265" stop-color="#d8babc"/><stop offset="0.408" stop-color="#b88489"/><stop offset="0.510" stop-color="#954950"/><stop offset="0.612" stop-color="#9f5a60"/><stop offset="0.755" stop-color="#e6d3d4"/><stop offset="0.958" stop-color="#fbf6f6"/><stop offset="1.000" stop-color="#fbf6f6"/></linearGradient><linearGradient id="r27"><stop offset="0.000" stop-color="#fbf6f6"/><stop offset="0.068" stop-color="#f7efef"/><stop offset="0.269" stop-color="#ead9da"/><stop offset="0.410" stop-color="#ab6e73"/><stop offset="0.510" stop-color="#832c34"/><stop offset="0.610" stop-color="#b47e83"/><stop offset="0.751" stop-color="#d5b7b9"/><stop offset="0.952" stop-color="#e8d7d8"/><stop offset="1.000" stop-color="#fbf6f6"/></linearGradient><linearGradient id="r28"><stop offset="0.000" stop-color="#ebdbdc"/><stop offset="0.075" stop-color="#eddedf"/><stop offset="0.273" stop-color="#ceaaad"/><stop offset="0.411" stop-color="#a7686d"/><stop offset="0.510" stop-color="#8c3a41"/><stop offset="0.609" stop-color="#a6676c"/><stop offset="0.747" stop-color="#d6b8ba"/><stop offset="0.945" stop-color="#f1e5e5"/><stop offset="1.000" stop-color="#d7b9bc"/></linearGradient><linearGradient id="r29"><stop offset="0.000" stop-color="#f4eaea"/><stop offset="0.082" stop-color="#d9bcbe"/><stop offset="0.277" stop-color="#c79ea1"/><stop offset="0.413" stop-color="#a46469"/><stop offset="0.510" stop-color="#94484f"/><stop offset="0.607" stop-color="#a96b71"/><stop offset="0.744" stop-color="#caa3a6"/><stop offset="0.938" stop-color="#ecddde"/><stop offset="1.000" stop-color="#f0e4e4"/></linearGradient><linearGradient id="r30"><stop offset="0.000" stop-color="#e5d1d3"/><stop offset="0.089" stop-color="#e3cdcf"/><stop offset="0.280" stop-color="#bd8d91"/><stop offset="0.414" stop-color="#954950"/><stop offset="0.510" stop-color="#80262e"/><stop offset="0.606" stop-color="#994f56"/><stop offset="0.740" stop-color="#c3969a"/><stop offset="0.931" stop-color="#e4cfd0"/><stop offset="1.000" stop-color="#dbbfc2"/></linearGradient><linearGradient id="r31"><stop offset="0.000" stop-color="#e3ced0"/><stop offset="0.096" stop-color="#eadadb"/><stop offset="0.284" stop-color="#c69ca0"/><stop offset="0.416" stop-color="#9a5259"/><stop offset="0.510" stop-color="#80262e"/><stop offset="0.604" stop-color="#9e595f"/><stop offset="0.736" stop-color="#c69ca0"/><stop offset="0.925" stop-color="#d7b9bb"/><stop offset="1.000" stop-color="#cca6a9"/></linearGradient><linearGradient id="r32"><stop offset="0.000" stop-color="#d6b8ba"/><stop offset="0.103" stop-color="#cda8ab"/><stop offset="0.288" stop-color="#caa3a6"/><stop offset="0.418" stop-color="#89363d"/><stop offset="0.510" stop-color="#80262e"/><stop offset="0.603" stop-color="#88343b"/><stop offset="0.733" stop-color="#c19598"/><stop offset="0.918" stop-color="#dbc0c2"/><stop offset="1.000" stop-color="#e0c8ca"/></linearGradient><linearGradient id="r33"><stop offset="0.000" stop-color="#dcc2c4"/><stop offset="0.110" stop-color="#d6b7b9"/><stop offset="0.292" stop-color="#c3979b"/><stop offset="0.419" stop-color="#a86a6f"/><stop offset="0.510" stop-color="#80262e"/><stop offset="0.602" stop-color="#9a5258"/><stop offset="0.729" stop-color="#c4999c"/><stop offset="0.911" stop-color="#d8babd"/><stop offset="1.000" stop-color="#ecdcdd"/></linearGradient><linearGradient id="r34"><stop offset="0.000" stop-color="#eadadb"/><stop offset="0.116" stop-color="#e6d2d3"/><stop offset="0.296" stop-color="#cca7aa"/><stop offset="0.421" stop-color="#aa6d72"/><stop offset="0.510" stop-color="#92454c"/><stop offset="0.600" stop-color="#9f5a60"/><stop offset="0.725" stop-color="#e4cfd1"/><stop offset="0.905" stop-color="#d9bdbf"/><stop offset="1.000" stop-color="#f2e6e7"/></linearGradient><linearGradient id="r35"><stop offset="0.000" stop-color="#e0c9cb"/><stop offset="0.123" stop-color="#d1afb1"/><stop offset="0.299" stop-color="#c4999c"/><stop offset="0.423" stop-color="#9d575d"/><stop offset="0.511" stop-color="#974e54"/><stop offset="0.599" stop-color="#9b545b"/><stop offset="0.722" stop-color="#caa3a6"/><stop offset="0.898" stop-color="#dcc2c4"/><stop offset="1.000" stop-color="#ecddde"/></linearGradient><linearGradient id="r36"><stop offset="0.000" stop-color="#f6eeee"/><stop offset="0.130" stop-color="#ecddde"/><stop offset="0.303" stop-color="#e2cccd"/><stop offset="0.424" stop-color="#ac7075"/><stop offset="0.511" stop-color="#8f4047"/><stop offset="0.597" stop-color="#ae7479"/><stop offset="0.718" stop-color="#cfacaf"/><stop offset="0.891" stop-color="#ecddde"/><stop offset="1.000" stop-color="#f2e6e7"/></linearGradient><linearGradient id="r37"><stop offset="0.000" stop-color="#e2cbcd"/><stop offset="0.137" stop-color="#e8d5d7"/><stop offset="0.307" stop-color="#d6b8ba"/><stop offset="0.426" stop-color="#a25f65"/><stop offset="0.511" stop-color="#8b3940"/><stop offset="0.596" stop-color="#984e55"/><stop offset="0.715" stop-color="#cfabae"/><stop offset="0.885" stop-color="#ebdadb"/><stop offset="1.000" stop-color="#f1e6e6"/></linearGradient><linearGradient id="r38"><stop offset="0.000" stop-color="#e6d3d4"/><stop offset="0.143" stop-color="#dfc7c9"/><stop offset="0.310" stop-color="#d9bdbf"/><stop offset="0.427" stop-color="#b1787d"/><stop offset="0.511" stop-color="#8b3940"/><stop offset="0.594" stop-color="#a7686d"/><stop offset="0.711" stop-color="#dfc7c9"/><stop offset="0.878" stop-color="#dbbfc1"/><stop offset="1.000" stop-color="#e2cbcd"/></linearGradient><linearGradient id="r39"><stop offset="0.000" stop-color="#ead9da"/><stop offset="0.150" stop-color="#f2e7e7"/><stop offset="0.314" stop-color="#cfacaf"/><stop offset="0.429" stop-color="#ac7176"/><stop offset="0.511" stop-color="#995157"/><stop offset="0.593" stop-color="#ab6f74"/><stop offset="0.708" stop-color="#e1cbcc"/><stop offset="0.872" stop-color="#e3cdce"/><stop offset="1.000" stop-color="#dec5c7"/></linearGradient><linearGradient id="r40"><stop offset="0.000" stop-color="#faf4f4"/><stop offset="0.157" stop-color="#eadadb"/><stop offset="0.318" stop-color="#d9bdbf"/><stop offset="0.430" stop-color="#a26065"/><stop offset="0.511" stop-color="#a56469"/><stop offset="0.591" stop-color="#b88489"/><stop offset="0.704" stop-color="#d8bbbd"/><stop offset="0.865" stop-color="#dfc7c9"/><stop offset="1.000" stop-color="#ead9da"/></linearGradient><linearGradient id="r41"><stop offset="0.000" stop-color="#e5d1d2"/><stop offset="0.163" stop-color="#ddc3c5"/><stop offset="0.321" stop-color="#cba4a7"/><stop offset="0.432" stop-color="#a26066"/><stop offset="0.511" stop-color="#80262e"/><stop offset="0.590" stop-color="#a6676c"/><stop offset="0.701" stop-color="#d2b1b4"/><stop offset="0.859" stop-color="#e0c9ca"/><stop offset="1.000" stop-color="#e2cbcd"/></linearGradient><linearGradient id="r42"><stop offset="0.000" stop-color="#e7d4d5"/><stop offset="0.170" stop-color="#ddc4c6"/><stop offset="0.325" stop-color="#d2b1b4"/><stop offset="0.433" stop-color="#954a50"/><stop offset="0.511" stop-color="#8d3d44"/><stop offset="0.589" stop-color="#9e585e"/><stop offset="0.697" stop-color="#dcc2c4"/><stop offset="0.852" stop-color="#dcc1c3"/><stop offset="1.000" stop-color="#e8d6d7"/></linearGradient><linearGradient id="r43"><stop offset="0.000" stop-color="#e1cbcc"/><stop offset="0.176" stop-color="#e0c9cb"/><stop offset="0.328" stop-color="#c8a0a3"/><stop offset="0.435" stop-color="#a15d63"/><stop offset="0.511" stop-color="#995056"/><stop offset="0.587" stop-color="#a26066"/><stop offset="0.694" stop-color="#d0aeb0"/><stop offset="0.846" stop-color="#efe2e3"/><stop offset="1.000" stop-color="#e0c9cb"/></linearGradient><linearGradient id="r44"><stop offset="0.000" stop-color="#e1cacc"/><stop offset="0.183" stop-color="#e2cbcd"/><stop offset="0.332" stop-color="#cba5a8"/><stop offset="0.437" stop-color="#984f56"/><stop offset="0.511" stop-color="#94474e"/><stop offset="0.586" stop-color="#9a5158"/><stop offset="0.690" stop-color="#d6b7b9"/><stop offset="0.840" stop-color="#dec5c7"/><stop offset="1.000" stop-color="#dfc6c8"/></linearGradient><linearGradient id="r45"><stop offset="0.000" stop-color="#efe1e2"/><stop offset="0.189" stop-color="#f2e7e7"/><stop offset="0.336" stop-color="#efe2e2"/><stop offset="0.438" stop-color="#b78488"/><stop offset="0.511" stop-color="#a6676c"/><stop offset="0.584" stop-color="#bb8a8e"/><stop offset="0.687" stop-color="#ddc3c5"/><stop offset="0.833" stop-color="#fbf5f5"/><stop offset="1.000" stop-color="#f4eaeb"/></linearGradient><linearGradient id="r46"><stop offset="0.000" stop-color="#fbf5f5"/><stop offset="0.196" stop-color="#e8d6d7"/><stop offset="0.339" stop-color="#e1cacc"/><stop offset="0.440" stop-color="#c59b9e"/><stop offset="0.511" stop-color="#ae7378"/><stop offset="0.583" stop-color="#b9878b"/><stop offset="0.684" stop-color="#f3e8e8"/><stop offset="0.827" stop-color="#efe2e3"/><stop offset="1.000" stop-color="#f9f2f2"/></linearGradient><linearGradient id="r47"><stop offset="0.000" stop-color="#f3e8e9"/><stop offset="0.202" stop-color="#f9f2f2"/><stop offset="0.343" stop-color="#ead9da"/><stop offset="0.441" stop-color="#ceaaad"/><stop offset="0.511" stop-color="#af757a"/><stop offset="0.582" stop-color="#b1797e"/><stop offset="0.680" stop-color="#dabec0"/><stop offset="0.821" stop-color="#f4ebeb"/><stop offset="1.000" stop-color="#fbf6f6"/></linearGradient><linearGradient id="r48"><stop offset="0.000" stop-color="#f3e9ea"/><stop offset="0.208" stop-color="#fbf6f6"/><stop offset="0.346" stop-color="#d5b5b8"/><stop offset="0.443" stop-color="#be8e92"/><stop offset="0.511" stop-color="#a26065"/><stop offset="0.580" stop-color="#bd8e92"/><stop offset="0.677" stop-color="#d9bcbe"/><stop offset="0.815" stop-color="#fbf6f6"/><stop offset="1.000" stop-color="#fbf6f6"/></linearGradient><linearGradient id="r49"><stop offset="0.000" stop-color="#f6eeee"/><stop offset="0.215" stop-color="#efe2e3"/><stop offset="0.350" stop-color="#d3b3b6"/><stop offset="0.444" stop-color="#a96c71"/><stop offset="0.512" stop-color="#a96c71"/><stop offset="0.579" stop-color="#a7686d"/><stop offset="0.673" stop-color="#dbbfc1"/><stop offset="0.808" stop-color="#e0c9ca"/><stop offset="1.000" stop-color="#faf4f5"/></linearGradient><linearGradient id="r50"><stop offset="0.000" stop-color="#e8d5d7"/><stop offset="0.221" stop-color="#eee0e0"/><stop offset="0.353" stop-color="#dcc1c3"/><stop offset="0.446" stop-color="#a96c71"/><stop offset="0.512" stop-color="#a15d63"/><stop offset="0.578" stop-color="#b0767b"/><stop offset="0.670" stop-color="#dfc6c8"/><stop offset="0.802" stop-color="#e9d8d9"/><stop offset="1.000" stop-color="#e5d2d3"/></linearGradient><linearGradient id="r51"><stop offset="0.000" stop-color="#f9f2f2"/><stop offset="0.227" stop-color="#f6edee"/><stop offset="0.357" stop-color="#d9bdbf"/><stop offset="0.447" stop-color="#c19498"/><stop offset="0.512" stop-color="#9f5a60"/><stop offset="0.576" stop-color="#bf9094"/><stop offset="0.667" stop-color="#e2cccd"/><stop offset="0.796" stop-color="#f7eeef"/><stop offset="1.000" stop-color="#f7efef"/></linearGradient><linearGradient id="r52"><stop offset="0.000" stop-color="#fbf6f6"/><stop offset="0.234" stop-color="#e9d7d8"/><stop offset="0.360" stop-color="#d7b9bb"/><stop offset="0.449" stop-color="#b9878b"/><stop offset="0.512" stop-color="#a86a70"/><stop offset="0.575" stop-color="#ba898d"/><stop offset="0.663" stop-color="#efe1e2"/><stop offset="0.790" stop-color="#fbf6f6"/><stop offset="1.000" stop-color="#f3e8e8"/></linearGradient><linearGradient id="r53"><stop offset="0.000" stop-color="#f0e3e4"/><stop offset="0.240" stop-color="#f5eded"/><stop offset="0.363" stop-color="#e5d0d2"/><stop offset="0.450" stop-color="#b68286"/><stop offset="0.512" stop-color="#9a5258"/><stop offset="0.574" stop-color="#b1787d"/><stop offset="0.660" stop-color="#e8d5d7"/><stop offset="0.784" stop-color="#f7f0f0"/><stop offset="1.000" stop-color="#ebdbdd"/></linearGradient><linearGradient id="r54"><stop offset="0.000" stop-color="#e1c9cb"/><stop offset="0.246" stop-color="#e3cdcf"/><stop offset="0.367" stop-color="#dcc1c3"/><stop offset="0.451" stop-color="#b9868b"/><stop offset="0.512" stop-color="#a05c62"/><stop offset="0.572" stop-color="#bd8d91"/><stop offset="0.657" stop-color="#e3cecf"/><stop offset="0.778" stop-color="#e6d3d5"/><stop offset="1.000" stop-color="#eadadb"/></linearGradient><linearGradient id="r55"><stop offset="0.000" stop-color="#e0c8c9"/><stop offset="0.252" stop-color="#f0e3e4"/><stop offset="0.370" stop-color="#d4b4b6"/><stop offset="0.453" stop-color="#b0787d"/><stop offset="0.512" stop-color="#9d575e"/><stop offset="0.571" stop-color="#af757a"/><stop offset="0.654" stop-color="#d6b8ba"/><stop offset="0.772" stop-color="#f8f1f1"/><stop offset="1.000" stop-color="#f9f2f2"/></linearGradient><linearGradient id="r56"><stop offset="0.000" stop-color="#eddedf"/><stop offset="0.258" stop-color="#f4ebeb"/><stop offset="0.374" stop-color="#e0c8c9"/><stop offset="0.454" stop-color="#c19498"/><stop offset="0.512" stop-color="#9c565c"/><stop offset="0.570" stop-color="#b17a7e"/><stop offset="0.651" stop-color="#d2b0b3"/><stop offset="0.766" stop-color="#f4eaea"/><stop offset="1.000" stop-color="#f2e6e7"/></linearGradient><linearGradient id="r57"><stop offset="0.000" stop-color="#e6d3d5"/><stop offset="0.264" stop-color="#eddedf"/><stop offset="0.377" stop-color="#ddc3c5"/><stop offset="0.456" stop-color="#c59b9f"/><stop offset="0.512" stop-color="#ae7479"/><stop offset="0.568" stop-color="#c4999c"/><stop offset="0.647" stop-color="#e2cbcd"/><stop offset="0.760" stop-color="#eadadb"/><stop offset="1.000" stop-color="#f2e6e7"/></linearGradient><linearGradient id="r58"><stop offset="0.000" stop-color="#e6d3d4"/><stop offset="0.270" stop-color="#fbf6f6"/><stop offset="0.380" stop-color="#dabfc1"/><stop offset="0.457" stop-color="#b47d82"/><stop offset="0.512" stop-color="#ab6e73"/><stop offset="0.567" stop-color="#b27a7f"/><stop offset="0.644" stop-color="#efe2e3"/><stop offset="0.754" stop-color="#fbf6f6"/><stop offset="1.000" stop-color="#faf5f5"/></linearGradient><linearGradient id="r59"><stop offset="0.000" stop-color="#f5ebeb"/><stop offset="0.276" stop-color="#e4cfd0"/><stop offset="0.383" stop-color="#e5d0d2"/><stop offset="0.459" stop-color="#bb8a8e"/><stop offset="0.512" stop-color="#b37d81"/><stop offset="0.566" stop-color="#b58085"/><stop offset="0.641" stop-color="#dbbfc1"/><stop offset="0.748" stop-color="#f9f2f2"/><stop offset="1.000" stop-color="#fbf6f6"/></linearGradient><linearGradient id="r60"><stop offset="0.000" stop-color="#f0e4e5"/><stop offset="0.282" stop-color="#f3e8e9"/><stop offset="0.387" stop-color="#e7d3d5"/><stop offset="0.460" stop-color="#bb898e"/><stop offset="0.512" stop-color="#ad7277"/><stop offset="0.565" stop-color="#bd8e92"/><stop offset="0.638" stop-color="#f7efef"/><stop offset="0.743" stop-color="#f5eced"/><stop offset="1.000" stop-color="#f4ebeb"/></linearGradient><linearGradient id="r61"><stop offset="0.000" stop-color="#e8d6d7"/><stop offset="0.288" stop-color="#f6eded"/><stop offset="0.390" stop-color="#ddc3c5"/><stop offset="0.461" stop-color="#c4999d"/><stop offset="0.512" stop-color="#9c555b"/><stop offset="0.563" stop-color="#c4999c"/><stop offset="0.635" stop-color="#d9bdbf"/><stop offset="0.737" stop-color="#f7efef"/><stop offset="1.000" stop-color="#f7f0f0"/></linearGradient><linearGradient id="r62"><stop offset="0.000" stop-color="#faf4f4"/><stop offset="0.294" stop-color="#f3e9ea"/><stop offset="0.393" stop-color="#ddc3c5"/><stop offset="0.463" stop-color="#c29699"/><stop offset="0.512" stop-color="#a86a70"/><stop offset="0.562" stop-color="#b88589"/><stop offset="0.632" stop-color="#d5b5b8"/><stop offset="0.731" stop-color="#fbf6f6"/><stop offset="1.000" stop-color="#f5ebec"/></linearGradient><linearGradient id="r63"><stop offset="0.000" stop-color="#f1e5e5"/><stop offset="0.300" stop-color="#ecddde"/><stop offset="0.396" stop-color="#e7d4d5"/><stop offset="0.464" stop-color="#be8f93"/><stop offset="0.513" stop-color="#b1787d"/><stop offset="0.561" stop-color="#c09397"/><stop offset="0.629" stop-color="#e9d7d9"/><stop offset="0.725" stop-color="#f2e7e8"/><stop offset="1.000" stop-color="#fbf6f6"/></linearGradient><linearGradient id="r64"><stop offset="0.000" stop-color="#f1e6e6"/><stop offset="0.305" stop-color="#fbf6f6"/><stop offset="0.400" stop-color="#efe1e2"/><stop offset="0.465" stop-color="#c3989c"/><stop offset="0.513" stop-color="#ba888c"/><stop offset="0.560" stop-color="#c9a1a4"/><stop offset="0.626" stop-color="#d6b7b9"/><stop offset="0.720" stop-color="#f3e8e9"/><stop offset="1.000" stop-color="#faf5f5"/></linearGradient><linearGradient id="r65"><stop offset="0.000" stop-color="#fbf6f6"/><stop offset="0.311" stop-color="#fbf6f6"/><stop offset="0.403" stop-color="#fbf6f6"/><stop offset="0.467" stop-color="#be8f93"/><stop offset="0.513" stop-color="#b88489"/><stop offset="0.559" stop-color="#bb8a8e"/><stop offset="0.623" stop-color="#e8d6d7"/><stop offset="0.714" stop-color="#fbf6f6"/><stop offset="1.000" stop-color="#e8d6d7"/></linearGradient><linearGradient id="r66"><stop offset="0.000" stop-color="#ecddde"/><stop offset="0.317" stop-color="#f8f1f1"/><stop offset="0.406" stop-color="#e8d7d8"/><stop offset="0.468" stop-color="#c09397"/><stop offset="0.513" stop-color="#a05d63"/><stop offset="0.557" stop-color="#caa2a6"/><stop offset="0.620" stop-color="#eddedf"/><stop offset="0.709" stop-color="#efe1e2"/><stop offset="1.000" stop-color="#fbf6f6"/></linearGradient><linearGradient id="r67"><stop offset="0.000" stop-color="#f8f2f2"/><stop offset="0.322" stop-color="#e4cfd0"/><stop offset="0.409" stop-color="#e0c8ca"/><stop offset="0.469" stop-color="#bd8e92"/><stop offset="0.513" stop-color="#b58085"/><stop offset="0.556" stop-color="#ae7479"/><stop offset="0.617" stop-color="#e1cacc"/><stop offset="0.703" stop-color="#f9f3f3"/><stop offset="1.000" stop-color="#e9d8d9"/></linearGradient><linearGradient id="r68"><stop offset="0.000" stop-color="#efe2e3"/><stop offset="0.328" stop-color="#f7efef"/><stop offset="0.412" stop-color="#e1cacc"/><stop offset="0.471" stop-color="#bd8c90"/><stop offset="0.513" stop-color="#b27a7f"/><stop offset="0.555" stop-color="#ceaaad"/><stop offset="0.614" stop-color="#e0c8ca"/><stop offset="0.698" stop-color="#e7d5d6"/><stop offset="1.000" stop-color="#f0e3e4"/></linearGradient><linearGradient id="r69"><stop offset="0.000" stop-color="#eadadb"/><stop offset="0.333" stop-color="#f3e9e9"/><stop offset="0.415" stop-color="#d9bcbe"/><stop offset="0.472" stop-color="#c19397"/><stop offset="0.513" stop-color="#b9868a"/><stop offset="0.554" stop-color="#c9a2a5"/><stop offset="0.611" stop-color="#d9bcbf"/><stop offset="0.693" stop-color="#ebdadb"/><stop offset="1.000" stop-color="#ecdcdd"/></linearGradient><linearGradient id="r70"><stop offset="0.000" stop-color="#fbf6f6"/><stop offset="0.338" stop-color="#efe2e3"/><stop offset="0.418" stop-color="#e8d6d7"/><stop offset="0.473" stop-color="#caa3a6"/><stop offset="0.513" stop-color="#bc8b8f"/><stop offset="0.553" stop-color="#caa2a6"/><stop offset="0.608" stop-color="#f7eff0"/><stop offset="0.688" stop-color="#f0e4e5"/><stop offset="1.000" stop-color="#f0e4e5"/></linearGradient><linearGradient id="r71"><stop offset="0.000" stop-color="#f6eded"/><stop offset="0.344" stop-color="#fbf6f6"/><stop offset="0.421" stop-color="#efe2e3"/><stop offset="0.475" stop-color="#c49a9d"/><stop offset="0.513" stop-color="#a5656a"/><stop offset="0.552" stop-color="#ba888c"/><stop offset="0.605" stop-color="#e3ced0"/><stop offset="0.682" stop-color="#eee0e1"/><stop offset="1.000" stop-color="#ecdcdd"/></linearGradient><linearGradient id="r72"><stop offset="0.000" stop-color="#f2e8e8"/><stop offset="0.349" stop-color="#f2e7e8"/><stop offset="0.424" stop-color="#ebdbdc"/><stop offset="0.476" stop-color="#ceabad"/><stop offset="0.513" stop-color="#bc8b8f"/><stop offset="0.550" stop-color="#bb898e"/><stop offset="0.603" stop-color="#f3e9ea"/><stop offset="0.677" stop-color="#f8f0f1"/><stop offset="1.000" stop-color="#f8f1f1"/></linearGradient><linearGradient id="r73"><stop offset="0.000" stop-color="#f9f3f3"/><stop offset="0.354" stop-color="#eee0e1"/><stop offset="0.426" stop-color="#ead9da"/><stop offset="0.477" stop-color="#c69da0"/><stop offset="0.513" stop-color="#b37c81"/><stop offset="0.549" stop-color="#d2b1b4"/><stop offset="0.600" stop-color="#dec4c6"/><stop offset="0.672" stop-color="#ecdcdd"/><stop offset="1.000" stop-color="#fbf6f6"/></linearGradient><linearGradient id="r74"><stop offset="0.000" stop-color="#fbf6f6"/><stop offset="0.359" stop-color="#f9f2f2"/><stop offset="0.429" stop-color="#e1cbcc"/><stop offset="0.478" stop-color="#d8bbbd"/><stop offset="0.513" stop-color="#b47e82"/><stop offset="0.548" stop-color="#c49a9d"/><stop offset="0.597" stop-color="#e8d6d7"/><stop offset="0.667" stop-color="#e3cdce"/><stop offset="1.000" stop-color="#faf4f4"/></linearGradient><linearGradient id="r75"><stop offset="0.000" stop-color="#f7f0f0"/><stop offset="0.364" stop-color="#f9f3f3"/><stop offset="0.432" stop-color="#f3e8e8"/><stop offset="0.479" stop-color="#e0c9cb"/><stop offset="0.513" stop-color="#d2b0b3"/><stop offset="0.547" stop-color="#c09396"/><stop offset="0.595" stop-color="#faf4f5"/><stop offset="0.662" stop-color="#efe1e2"/><stop offset="1.000" stop-color="#f4eaea"/></linearGradient><linearGradient id="r76"><stop offset="0.000" stop-color="#fbf6f6"/><stop offset="0.369" stop-color="#f8f2f2"/><stop offset="0.435" stop-color="#e9d7d8"/><stop offset="0.481" stop-color="#cba5a8"/><stop offset="0.513" stop-color="#c09396"/><stop offset="0.546" stop-color="#d7b9bb"/><stop offset="0.592" stop-color="#f4ebeb"/><stop offset="0.658" stop-color="#fbf6f6"/><stop offset="1.000" stop-color="#faf4f4"/></linearGradient><linearGradient id="r77"><stop offset="0.000" stop-color="#fbf6f6"/><stop offset="0.374" stop-color="#e7d5d6"/><stop offset="0.437" stop-color="#e9d7d8"/><stop offset="0.482" stop-color="#cfacaf"/><stop offset="0.514" stop-color="#d1aeb1"/><stop offset="0.545" stop-color="#e0c8ca"/><stop offset="0.590" stop-color="#f4ebeb"/><stop offset="0.653" stop-color="#fbf6f6"/><stop offset="1.000" stop-color="#fbf6f6"/></linearGradient><linearGradient id="r78"><stop offset="0.000" stop-color="#f7efef"/><stop offset="0.379" stop-color="#f9f3f3"/><stop offset="0.440" stop-color="#ecddde"/><stop offset="0.483" stop-color="#dec5c7"/><stop offset="0.514" stop-color="#dcc2c4"/><stop offset="0.544" stop-color="#cda9ac"/><stop offset="0.587" stop-color="#ebdbdc"/><stop offset="0.649" stop-color="#f7eff0"/><stop offset="1.000" stop-color="#f5ebec"/></linearGradient><linearGradient id="r79"><stop offset="0.000" stop-color="#f2e8e8"/><stop offset="0.383" stop-color="#fbf6f6"/><stop offset="0.443" stop-color="#e9d7d8"/><stop offset="0.484" stop-color="#d8bbbd"/><stop offset="0.514" stop-color="#d2b0b3"/><stop offset="0.543" stop-color="#ddc3c5"/><stop offset="0.585" stop-color="#f0e3e4"/><stop offset="0.644" stop-color="#f6eeef"/><stop offset="1.000" stop-color="#f3e8e8"/></linearGradient><linearGradient id="r80"><stop offset="0.000" stop-color="#f2e7e7"/><stop offset="0.388" stop-color="#f1e6e6"/><stop offset="0.445" stop-color="#fbf6f6"/><stop offset="0.485" stop-color="#f3e8e8"/><stop offset="0.514" stop-color="#dcc1c3"/><stop offset="0.542" stop-color="#e7d4d5"/><stop offset="0.583" stop-color="#f9f2f2"/><stop offset="0.640" stop-color="#fbf6f6"/><stop offset="1.000" stop-color="#fbf6f6"/></linearGradient><linearGradient id="r81"><stop offset="0.000" stop-color="#fbf6f6"/><stop offset="0.392" stop-color="#fbf6f6"/><stop offset="0.447" stop-color="#fbf6f6"/><stop offset="0.486" stop-color="#eddedf"/><stop offset="0.514" stop-color="#dabfc1"/><stop offset="0.541" stop-color="#e1cacc"/><stop offset="0.580" stop-color="#f8f1f1"/><stop offset="0.636" stop-color="#f8f0f1"/><stop offset="1.000" stop-color="#fbf6f6"/></linearGradient><linearGradient id="r82"><stop offset="0.000" stop-color="#fbf6f6"/><stop offset="0.396" stop-color="#f8f0f1"/><stop offset="0.450" stop-color="#fbf6f6"/><stop offset="0.487" stop-color="#f3e8e9"/><stop offset="0.514" stop-color="#ebdbdc"/><stop offset="0.541" stop-color="#eddfe0"/><stop offset="0.578" stop-color="#e3cecf"/><stop offset="0.632" stop-color="#fbf6f6"/><stop offset="1.000" stop-color="#fbf6f6"/></linearGradient><linearGradient id="r83"><stop offset="0.000" stop-color="#f0e4e5"/><stop offset="0.400" stop-color="#efe2e3"/><stop offset="0.452" stop-color="#f4eaeb"/><stop offset="0.488" stop-color="#fbf5f5"/><stop offset="0.514" stop-color="#efe1e2"/><stop offset="0.540" stop-color="#f9f2f2"/><stop offset="0.576" stop-color="#f3e9ea"/><stop offset="0.628" stop-color="#e6d3d4"/><stop offset="1.000" stop-color="#f8f1f1"/></linearGradient><linearGradient id="r84"><stop offset="0.000" stop-color="#ecddde"/><stop offset="0.403" stop-color="#fbf6f6"/><stop offset="0.454" stop-color="#eee0e1"/><stop offset="0.489" stop-color="#f5ebec"/><stop offset="0.514" stop-color="#f7efef"/><stop offset="0.539" stop-color="#f5ecec"/><stop offset="0.574" stop-color="#fbf6f6"/><stop offset="0.625" stop-color="#eee1e2"/><stop offset="1.000" stop-color="#f5ecec"/></linearGradient><linearGradient id="r85"><stop offset="0.000" stop-color="#f3e9e9"/><stop offset="0.407" stop-color="#fbf6f6"/><stop offset="0.455" stop-color="#fbf6f6"/><stop offset="0.490" stop-color="#ebdbdc"/><stop offset="0.514" stop-color="#fbf6f6"/><stop offset="0.539" stop-color="#f0e3e4"/><stop offset="0.573" stop-color="#fbf6f6"/><stop offset="0.622" stop-color="#fbf6f6"/><stop offset="1.000" stop-color="#fbf6f6"/></linearGradient><linearGradient id="r86"><stop offset="0.000" stop-color="#80262e"/><stop offset="0.156" stop-color="#80262e"/><stop offset="0.355" stop-color="#80262e"/><stop offset="0.497" stop-color="#80262e"/><stop offset="0.640" stop-color="#80262e"/><stop offset="0.839" stop-color="#80262e"/><stop offset="1.000" stop-color="#954950"/></linearGradient><linearGradient id="r87"><stop offset="0.000" stop-color="#8c3b42"/><stop offset="0.160" stop-color="#863037"/><stop offset="0.357" stop-color="#80262e"/><stop offset="0.498" stop-color="#80262e"/><stop offset="0.638" stop-color="#80262e"/><stop offset="0.835" stop-color="#80262e"/><stop offset="1.000" stop-color="#88333b"/></linearGradient><linearGradient id="r88"><stop offset="0.000" stop-color="#ad7378"/><stop offset="0.165" stop-color="#80262e"/><stop offset="0.359" stop-color="#80262e"/><stop offset="0.498" stop-color="#80262e"/><stop offset="0.637" stop-color="#80262e"/><stop offset="0.832" stop-color="#852f36"/><stop offset="1.000" stop-color="#aa6d72"/></linearGradient><linearGradient id="r89"><stop offset="0.000" stop-color="#9b535a"/><stop offset="0.169" stop-color="#8a373e"/><stop offset="0.361" stop-color="#80262e"/><stop offset="0.499" stop-color="#80262e"/><stop offset="0.636" stop-color="#80262e"/><stop offset="0.828" stop-color="#89363d"/><stop offset="1.000" stop-color="#984e55"/></linearGradient><linearGradient id="r90"><stop offset="0.000" stop-color="#bc8b8f"/><stop offset="0.173" stop-color="#b27a7f"/><stop offset="0.363" stop-color="#80262e"/><stop offset="0.499" stop-color="#80262e"/><stop offset="0.635" stop-color="#80262e"/><stop offset="0.825" stop-color="#9d575d"/><stop offset="1.000" stop-color="#aa6e73"/></linearGradient><linearGradient id="r91"><stop offset="0.000" stop-color="#b1787d"/><stop offset="0.178" stop-color="#a25f65"/><stop offset="0.366" stop-color="#80262e"/><stop offset="0.500" stop-color="#80262e"/><stop offset="0.634" stop-color="#80262e"/><stop offset="0.821" stop-color="#ae7479"/><stop offset="1.000" stop-color="#b9878b"/></linearGradient><linearGradient id="r92"><stop offset="0.000" stop-color="#be9094"/><stop offset="0.182" stop-color="#ab6f74"/><stop offset="0.368" stop-color="#80262e"/><stop offset="0.500" stop-color="#80262e"/><stop offset="0.632" stop-color="#8b383f"/><stop offset="0.818" stop-color="#b0787d"/><stop offset="1.000" stop-color="#c09296"/></linearGradient><linearGradient id="r93"><stop offset="0.000" stop-color="#c19498"/><stop offset="0.187" stop-color="#b58084"/><stop offset="0.370" stop-color="#80262e"/><stop offset="0.500" stop-color="#80262e"/><stop offset="0.631" stop-color="#80262e"/><stop offset="0.814" stop-color="#ae7378"/><stop offset="1.000" stop-color="#d6b8ba"/></linearGradient><linearGradient id="r94"><stop offset="0.000" stop-color="#c4989c"/><stop offset="0.191" stop-color="#ae7479"/><stop offset="0.372" stop-color="#80262e"/><stop offset="0.501" stop-color="#80262e"/><stop offset="0.630" stop-color="#80262e"/><stop offset="0.811" stop-color="#a6656b"/><stop offset="1.000" stop-color="#c09296"/></linearGradient><linearGradient id="r95"><stop offset="0.000" stop-color="#cca6a9"/><stop offset="0.195" stop-color="#b58084"/><stop offset="0.374" stop-color="#8a373e"/><stop offset="0.501" stop-color="#80262e"/><stop offset="0.629" stop-color="#95494f"/><stop offset="0.807" stop-color="#b68186"/><stop offset="1.000" stop-color="#d5b6b9"/></linearGradient><linearGradient id="r96"><stop offset="0.000" stop-color="#c9a2a5"/><stop offset="0.200" stop-color="#c09397"/><stop offset="0.376" stop-color="#92454c"/><stop offset="0.502" stop-color="#832b33"/><stop offset="0.628" stop-color="#842c34"/><stop offset="0.804" stop-color="#c59a9e"/><stop offset="1.000" stop-color="#e2cbcd"/></linearGradient><linearGradient id="r97"><stop offset="0.000" stop-color="#e4d0d1"/><stop offset="0.204" stop-color="#d0adb0"/><stop offset="0.378" stop-color="#9c565c"/><stop offset="0.502" stop-color="#94484e"/><stop offset="0.627" stop-color="#b0787d"/><stop offset="0.801" stop-color="#cda8ab"/><stop offset="1.000" stop-color="#efe1e2"/></linearGradient><linearGradient id="r98"><stop offset="0.000" stop-color="#eadadb"/><stop offset="0.208" stop-color="#c19498"/><stop offset="0.380" stop-color="#832b33"/><stop offset="0.503" stop-color="#80262e"/><stop offset="0.625" stop-color="#80262e"/><stop offset="0.797" stop-color="#b78388"/><stop offset="1.000" stop-color="#cca6a9"/></linearGradient><linearGradient id="r99"><stop offset="0.000" stop-color="#d2b0b3"/><stop offset="0.213" stop-color="#c19397"/><stop offset="0.382" stop-color="#8c3a41"/><stop offset="0.503" stop-color="#80262e"/><stop offset="0.624" stop-color="#863038"/><stop offset="0.794" stop-color="#cca6a9"/><stop offset="1.000" stop-color="#ceaaad"/></linearGradient><linearGradient id="r100"><stop offset="0.000" stop-color="#dabfc1"/><stop offset="0.217" stop-color="#bc8c90"/><stop offset="0.384" stop-color="#92454c"/><stop offset="0.504" stop-color="#80262e"/><stop offset="0.623" stop-color="#8f3f46"/><stop offset="0.790" stop-color="#c8a0a3"/><stop offset="1.000" stop-color="#d5b5b8"/></linearGradient><linearGradient id="r101"><stop offset="0.000" stop-color="#d1aeb1"/><stop offset="0.221" stop-color="#c09296"/><stop offset="0.386" stop-color="#87333a"/><stop offset="0.504" stop-color="#80262e"/><stop offset="0.622" stop-color="#8f4047"/><stop offset="0.787" stop-color="#cba5a8"/><stop offset="1.000" stop-color="#dec5c7"/></linearGradient><linearGradient id="r102"><stop offset="0.000" stop-color="#e7d4d5"/><stop offset="0.226" stop-color="#bf9195"/><stop offset="0.388" stop-color="#94484e"/><stop offset="0.505" stop-color="#80262e"/><stop offset="0.621" stop-color="#8b383f"/><stop offset="0.784" stop-color="#c9a1a4"/><stop offset="1.000" stop-color="#c29699"/></linearGradient><linearGradient id="r103"><stop offset="0.000" stop-color="#d7b8bb"/><stop offset="0.001" stop-color="#cda8ab"/><stop offset="0.230" stop-color="#c09296"/><stop offset="0.390" stop-color="#8e3e45"/><stop offset="0.505" stop-color="#80262e"/><stop offset="0.620" stop-color="#8a383f"/><stop offset="0.780" stop-color="#b37d81"/><stop offset="1.000" stop-color="#ddc3c5"/></linearGradient><linearGradient id="r104"><stop offset="0.000" stop-color="#ceaaad"/><stop offset="0.008" stop-color="#d7b9bb"/><stop offset="0.234" stop-color="#b37c81"/><stop offset="0.393" stop-color="#80262e"/><stop offset="0.506" stop-color="#842c34"/><stop offset="0.619" stop-color="#92444b"/><stop offset="0.777" stop-color="#c8a0a3"/><stop offset="1.000" stop-color="#cca7aa"/></linearGradient><linearGradient id="r105"><stop offset="0.000" stop-color="#f5eced"/><stop offset="0.016" stop-color="#e9d7d8"/><stop offset="0.239" stop-color="#d0aeb0"/><stop offset="0.395" stop-color="#9b5359"/><stop offset="0.506" stop-color="#862f37"/><stop offset="0.618" stop-color="#995057"/><stop offset="0.774" stop-color="#d4b4b7"/><stop offset="0.997" stop-color="#e4cfd0"/><stop offset="1.000" stop-color="#e7d5d6"/></linearGradient><linearGradient id="r106"><stop offset="0.000" stop-color="#ead8da"/><stop offset="0.023" stop-color="#e0c8ca"/><stop offset="0.243" stop-color="#cfabae"/><stop offset="0.397" stop-color="#984e54"/><stop offset="0.506" stop-color="#8e3e45"/><stop offset="0.616" stop-color="#ac7075"/><stop offset="0.770" stop-color="#d2b2b4"/><stop offset="0.990" stop-color="#e0c8c9"/><stop offset="1.000" stop-color="#e7d5d6"/></linearGradient><linearGradient id="r107"><stop offset="0.000" stop-color="#f7f0f0"/><stop offset="0.030" stop-color="#e7d4d5"/><stop offset="0.247" stop-color="#dbbfc1"/><stop offset="0.399" stop-color="#ae7479"/><stop offset="0.507" stop-color="#88333b"/><stop offset="0.615" stop-color="#a05b61"/><stop offset="0.767" stop-color="#c9a2a5"/><stop offset="0.984" stop-color="#f4eaeb"/><stop offset="1.000" stop-color="#f6eded"/></linearGradient><linearGradient id="r108"><stop offset="0.000" stop-color="#d8bbbd"/><stop offset="0.038" stop-color="#e3ced0"/><stop offset="0.251" stop-color="#caa3a6"/><stop offset="0.401" stop-color="#a8696e"/><stop offset="0.507" stop-color="#852e35"/><stop offset="0.614" stop-color="#a96b70"/><stop offset="0.764" stop-color="#dfc6c8"/><stop offset="0.977" stop-color="#dfc7c8"/><stop offset="1.000" stop-color="#dcc1c3"/></linearGradient><linearGradient id="r109"><stop offset="0.000" stop-color="#ebdadb"/><stop offset="0.045" stop-color="#e7d4d5"/><stop offset="0.255" stop-color="#d8babd"/><stop offset="0.403" stop-color="#a26066"/><stop offset="0.508" stop-color="#8b3840"/><stop offset="0.613" stop-color="#aa6d72"/><stop offset="0.760" stop-color="#dfc7c9"/><stop offset="0.971" stop-color="#e8d5d7"/><stop offset="1.000" stop-color="#d8bbbd"/></linearGradient><linearGradient id="r110"><stop offset="0.000" stop-color="#efe2e3"/><stop offset="0.052" stop-color="#dbc0c2"/><stop offset="0.260" stop-color="#dbc0c2"/><stop offset="0.405" stop-color="#a96b71"/><stop offset="0.508" stop-color="#80262e"/><stop offset="0.612" stop-color="#9d575d"/><stop offset="0.757" stop-color="#cfacaf"/><stop offset="0.964" stop-color="#fbf6f6"/><stop offset="1.000" stop-color="#e1c9cb"/></linearGradient><linearGradient id="r111"><stop offset="0.000" stop-color="#e2ccce"/><stop offset="0.060" stop-color="#e6d2d3"/><stop offset="0.264" stop-color="#c59b9e"/><stop offset="0.407" stop-color="#9b545a"/><stop offset="0.509" stop-color="#80262e"/><stop offset="0.611" stop-color="#a8696e"/><stop offset="0.754" stop-color="#cba5a8"/><stop offset="0.958" stop-color="#e5d1d2"/><stop offset="1.000" stop-color="#efe2e2"/></linearGradient><linearGradient id="r112"><stop offset="0.000" stop-color="#f6eeee"/><stop offset="0.067" stop-color="#fbf6f6"/><stop offset="0.268" stop-color="#e2ccce"/><stop offset="0.409" stop-color="#b0777c"/><stop offset="0.509" stop-color="#9d575d"/><stop offset="0.610" stop-color="#ab6f74"/><stop offset="0.751" stop-color="#ddc3c5"/><stop offset="0.952" stop-color="#fbf6f6"/><stop offset="1.000" stop-color="#fbf6f6"/></linearGradient><linearGradient id="r113"><stop offset="0.000" stop-color="#efe1e2"/><stop offset="0.074" stop-color="#eee0e0"/><stop offset="0.272" stop-color="#dcc2c4"/><stop offset="0.411" stop-color="#b27b7f"/><stop offset="0.510" stop-color="#904148"/><stop offset="0.609" stop-color="#ab6f74"/><stop offset="0.747" stop-color="#d5b6b9"/><stop offset="0.945" stop-color="#ecddde"/><stop offset="1.000" stop-color="#eee0e0"/></linearGradient><linearGradient id="r114"><stop offset="0.000" stop-color="#e9d8da"/><stop offset="0.081" stop-color="#d8bbbd"/><stop offset="0.276" stop-color="#caa3a6"/><stop offset="0.413" stop-color="#842d34"/><stop offset="0.510" stop-color="#8e3e45"/><stop offset="0.608" stop-color="#a05d63"/><stop offset="0.744" stop-color="#c9a2a5"/><stop offset="0.939" stop-color="#dbc0c2"/><stop offset="1.000" stop-color="#e5d0d2"/></linearGradient><linearGradient id="r115"><stop offset="0.000" stop-color="#e0c9ca"/><stop offset="0.089" stop-color="#eddedf"/><stop offset="0.280" stop-color="#c9a1a5"/><stop offset="0.415" stop-color="#93454c"/><stop offset="0.511" stop-color="#822a32"/><stop offset="0.607" stop-color="#9b535a"/><stop offset="0.741" stop-color="#d3b3b5"/><stop offset="0.933" stop-color="#dabfc1"/><stop offset="1.000" stop-color="#d5b5b8"/></linearGradient><linearGradient id="r116"><stop offset="0.000" stop-color="#eddfe0"/><stop offset="0.096" stop-color="#fbf6f6"/><stop offset="0.285" stop-color="#dbc1c3"/><stop offset="0.417" stop-color="#c3979b"/><stop offset="0.511" stop-color="#995157"/><stop offset="0.606" stop-color="#a6676c"/><stop offset="0.738" stop-color="#ead9da"/><stop offset="0.926" stop-color="#fbf6f6"/><stop offset="1.000" stop-color="#f2e6e7"/></linearGradient><linearGradient id="r117"><stop offset="0.000" stop-color="#eddedf"/><stop offset="0.103" stop-color="#e3cdce"/><stop offset="0.289" stop-color="#e4cfd0"/><stop offset="0.419" stop-color="#a7676d"/><stop offset="0.512" stop-color="#a5656b"/><stop offset="0.604" stop-color="#c3979b"/><stop offset="0.734" stop-color="#e2ccce"/><stop offset="0.920" stop-color="#fbf6f6"/><stop offset="1.000" stop-color="#ebdbdc"/></linearGradient><linearGradient id="r118"><stop offset="0.000" stop-color="#e1cbcc"/><stop offset="0.110" stop-color="#f3e9e9"/><stop offset="0.293" stop-color="#d7b9bb"/><stop offset="0.421" stop-color="#ae7479"/><stop offset="0.512" stop-color="#8d3c43"/><stop offset="0.603" stop-color="#a86a6f"/><stop offset="0.731" stop-color="#c79ea1"/><stop offset="0.914" stop-color="#e1cbcc"/><stop offset="1.000" stop-color="#f1e4e5"/></linearGradient><linearGradient id="r119"><stop offset="0.000" stop-color="#ddc3c5"/><stop offset="0.117" stop-color="#d6b8bb"/><stop offset="0.297" stop-color="#c9a2a5"/><stop offset="0.423" stop-color="#8e3d44"/><stop offset="0.513" stop-color="#80262e"/><stop offset="0.602" stop-color="#92444b"/><stop offset="0.728" stop-color="#bd8e92"/><stop offset="0.908" stop-color="#d8bcbe"/><stop offset="1.000" stop-color="#dcc1c3"/></linearGradient><linearGradient id="r120"><stop offset="0.000" stop-color="#fbf6f6"/><stop offset="0.124" stop-color="#e2ccce"/><stop offset="0.301" stop-color="#d3b3b6"/><stop offset="0.425" stop-color="#b27a7f"/><stop offset="0.513" stop-color="#8d3c44"/><stop offset="0.601" stop-color="#a7686d"/><stop offset="0.725" stop-color="#d8bbbd"/><stop offset="0.902" stop-color="#ddc3c5"/><stop offset="1.000" stop-color="#e5d1d2"/></linearGradient><linearGradient id="r121"><stop offset="0.000" stop-color="#f6eeee"/><stop offset="0.131" stop-color="#eedfe0"/><stop offset="0.305" stop-color="#d8bbbe"/><stop offset="0.427" stop-color="#ad7278"/><stop offset="0.513" stop-color="#a25f65"/><stop offset="0.600" stop-color="#af757a"/><stop offset="0.722" stop-color="#f2e7e8"/><stop offset="0.895" stop-color="#ebdbdc"/><stop offset="1.000" stop-color="#f8f0f0"/></linearGradient><linearGradient id="r122"><stop offset="0.000" stop-color="#faf5f5"/><stop offset="0.138" stop-color="#f2e6e7"/><stop offset="0.309" stop-color="#e6d3d4"/><stop offset="0.429" stop-color="#b88489"/><stop offset="0.514" stop-color="#a46369"/><stop offset="0.599" stop-color="#a05c62"/><stop offset="0.719" stop-color="#e0c8ca"/><stop offset="0.889" stop-color="#efe1e2"/><stop offset="1.000" stop-color="#f1e5e6"/></linearGradient><linearGradient id="r123"><stop offset="0.000" stop-color="#eddedf"/><stop offset="0.145" stop-color="#f4ebeb"/><stop offset="0.313" stop-color="#e5d2d3"/><stop offset="0.431" stop-color="#b88589"/><stop offset="0.514" stop-color="#9f5b61"/><stop offset="0.598" stop-color="#b47d82"/><stop offset="0.716" stop-color="#d3b3b6"/><stop offset="0.883" stop-color="#fbf6f6"/><stop offset="1.000" stop-color="#ead9da"/></linearGradient><linearGradient id="r124"><stop offset="0.000" stop-color="#d7babc"/><stop offset="0.152" stop-color="#eadadb"/><stop offset="0.317" stop-color="#d7babc"/><stop offset="0.432" stop-color="#964b52"/><stop offset="0.515" stop-color="#88333b"/><stop offset="0.597" stop-color="#9e595f"/><stop offset="0.712" stop-color="#d8babd"/><stop offset="0.877" stop-color="#e7d4d5"/><stop offset="1.000" stop-color="#efe2e3"/></linearGradient><linearGradient id="r125"><stop offset="0.000" stop-color="#d6b8ba"/><stop offset="0.159" stop-color="#e2cdce"/><stop offset="0.321" stop-color="#c29599"/><stop offset="0.434" stop-color="#9b5359"/><stop offset="0.515" stop-color="#9a5259"/><stop offset="0.596" stop-color="#974d53"/><stop offset="0.709" stop-color="#d1b0b2"/><stop offset="0.871" stop-color="#dcc1c3"/><stop offset="1.000" stop-color="#e3ced0"/></linearGradient><linearGradient id="r126"><stop offset="0.000" stop-color="#f4eaea"/><stop offset="0.166" stop-color="#e7d4d6"/><stop offset="0.325" stop-color="#e7d4d5"/><stop offset="0.436" stop-color="#b68286"/><stop offset="0.516" stop-color="#a86a6f"/><stop offset="0.595" stop-color="#b37d81"/><stop offset="0.706" stop-color="#d5b6b8"/><stop offset="0.865" stop-color="#ead9da"/><stop offset="1.000" stop-color="#ecddde"/></linearGradient><linearGradient id="r127"><stop offset="0.000" stop-color="#dfc6c8"/><stop offset="0.173" stop-color="#dec5c7"/><stop offset="0.329" stop-color="#caa3a6"/><stop offset="0.438" stop-color="#b1787d"/><stop offset="0.516" stop-color="#9c555b"/><stop offset="0.594" stop-color="#a26066"/><stop offset="0.703" stop-color="#d1afb2"/><stop offset="0.859" stop-color="#f0e3e4"/><stop offset="1.000" stop-color="#eee0e0"/></linearGradient><linearGradient id="r128"><stop offset="0.000" stop-color="#e9d8d9"/><stop offset="0.180" stop-color="#eedfe0"/><stop offset="0.333" stop-color="#d1afb1"/><stop offset="0.440" stop-color="#aa6e73"/><stop offset="0.517" stop-color="#8e3d44"/><stop offset="0.593" stop-color="#a36268"/><stop offset="0.700" stop-color="#d6b8ba"/><stop offset="0.853" stop-color="#efe1e2"/><stop offset="1.000" stop-color="#dfc7c9"/></linearGradient><linearGradient id="r129"><stop offset="0.000" stop-color="#f2e7e7"/><stop offset="0.187" stop-color="#f5eded"/><stop offset="0.337" stop-color="#dfc6c8"/><stop offset="0.442" stop-color="#b47f83"/><stop offset="0.517" stop-color="#964b51"/><stop offset="0.592" stop-color="#b0777c"/><stop offset="0.697" stop-color="#e8d6d7"/><stop offset="0.847" stop-color="#fbf6f6"/><stop offset="1.000" stop-color="#eddedf"/></linearGradient><linearGradient id="r130"><stop offset="0.000" stop-color="#e7d5d6"/><stop offset="0.194" stop-color="#eddfe0"/><stop offset="0.341" stop-color="#d3b2b5"/><stop offset="0.444" stop-color="#bd8d91"/><stop offset="0.518" stop-color="#a15e64"/><stop offset="0.591" stop-color="#a6666c"/><stop offset="0.694" stop-color="#e9d8d9"/><stop offset="0.841" stop-color="#ebdbdc"/><stop offset="1.000" stop-color="#f3e8e8"/></linearGradient><linearGradient id="r131"><stop offset="0.000" stop-color="#eddedf"/><stop offset="0.200" stop-color="#f0e3e4"/><stop offset="0.345" stop-color="#cfacaf"/><stop offset="0.446" stop-color="#964b52"/><stop offset="0.518" stop-color="#a15d63"/><stop offset="0.590" stop-color="#a7676d"/><stop offset="0.691" stop-color="#ddc3c5"/><stop offset="0.836" stop-color="#e5d1d2"/><stop offset="1.000" stop-color="#e6d2d4"/></linearGradient><linearGradient id="r132"><stop offset="0.000" stop-color="#fbf6f6"/><stop offset="0.207" stop-color="#f2e6e7"/><stop offset="0.349" stop-color="#dfc7c9"/><stop offset="0.448" stop-color="#ab6e74"/><stop offset="0.519" stop-color="#a15d63"/><stop offset="0.589" stop-color="#a96c71"/><stop offset="0.688" stop-color="#ddc3c5"/><stop offset="0.830" stop-color="#e6d2d3"/><stop offset="1.000" stop-color="#ead9da"/></linearGradient><linearGradient id="r133"><stop offset="0.000" stop-color="#fbf6f6"/><stop offset="0.214" stop-color="#f5eced"/><stop offset="0.353" stop-color="#e8d6d8"/><stop offset="0.450" stop-color="#b78287"/><stop offset="0.519" stop-color="#995056"/><stop offset="0.588" stop-color="#c19498"/><stop offset="0.685" stop-color="#ecddde"/><stop offset="0.824" stop-color="#fbf6f6"/><stop offset="1.000" stop-color="#f0e4e5"/></linearGradient><linearGradient id="r134"><stop offset="0.000" stop-color="#eddedf"/><stop offset="0.221" stop-color="#d0aeb0"/><stop offset="0.356" stop-color="#dec5c7"/><stop offset="0.452" stop-color="#a56469"/><stop offset="0.519" stop-color="#92454c"/><stop offset="0.587" stop-color="#a36167"/><stop offset="0.682" stop-color="#d8bbbd"/><stop offset="0.818" stop-color="#eee1e2"/><stop offset="1.000" stop-color="#e7d4d5"/></linearGradient><linearGradient id="r135"><stop offset="0.000" stop-color="#e9d7d9"/><stop offset="0.227" stop-color="#e3cdcf"/><stop offset="0.360" stop-color="#d0adb0"/><stop offset="0.453" stop-color="#9b545a"/><stop offset="0.520" stop-color="#9f5b61"/><stop offset="0.586" stop-color="#9a5258"/><stop offset="0.680" stop-color="#c3979b"/><stop offset="0.813" stop-color="#f0e4e5"/><stop offset="1.000" stop-color="#ddc4c6"/></linearGradient><linearGradient id="r136"><stop offset="0.000" stop-color="#fbf6f6"/><stop offset="0.234" stop-color="#fbf6f6"/><stop offset="0.364" stop-color="#e6d3d4"/><stop offset="0.455" stop-color="#caa4a7"/><stop offset="0.520" stop-color="#af757a"/><stop offset="0.585" stop-color="#c8a0a4"/><stop offset="0.677" stop-color="#dec4c6"/><stop offset="0.807" stop-color="#fbf6f6"/><stop offset="1.000" stop-color="#f7efef"/></linearGradient><linearGradient id="r137"><stop offset="0.000" stop-color="#f2e7e7"/><stop offset="0.240" stop-color="#fbf6f6"/><stop offset="0.368" stop-color="#e4cfd0"/><stop offset="0.457" stop-color="#c59b9e"/><stop offset="0.521" stop-color="#af757a"/><stop offset="0.585" stop-color="#b58084"/><stop offset="0.674" stop-color="#dcc2c4"/><stop offset="0.801" stop-color="#fbf6f6"/><stop offset="1.000" stop-color="#fbf6f6"/></linearGradient><linearGradient id="r138"><stop offset="0.000" stop-color="#e7d4d5"/><stop offset="0.247" stop-color="#dfc6c8"/><stop offset="0.372" stop-color="#cca6aa"/><stop offset="0.459" stop-color="#a36267"/><stop offset="0.521" stop-color="#9a5158"/><stop offset="0.584" stop-color="#ab6f74"/><stop offset="0.671" stop-color="#cda9ac"/><stop offset="0.796" stop-color="#fbf6f6"/><stop offset="1.000" stop-color="#eee0e1"/></linearGradient><linearGradient id="r139"><stop offset="0.000" stop-color="#e8d5d6"/><stop offset="0.254" stop-color="#e6d3d5"/><stop offset="0.375" stop-color="#dec5c7"/><stop offset="0.461" stop-color="#b68286"/><stop offset="0.522" stop-color="#aa6d73"/><stop offset="0.583" stop-color="#ae7378"/><stop offset="0.668" stop-color="#dabec0"/><stop offset="0.790" stop-color="#ebdbdc"/><stop offset="1.000" stop-color="#fbf6f6"/></linearGradient><linearGradient id="r140"><stop offset="0.000" stop-color="#fbf6f6"/><stop offset="0.260" stop-color="#ead9da"/><stop offset="0.379" stop-color="#dabfc1"/><stop offset="0.463" stop-color="#b0787d"/><stop offset="0.522" stop-color="#a05d63"/><stop offset="0.582" stop-color="#ac7176"/><stop offset="0.665" stop-color="#dec5c7"/><stop offset="0.784" stop-color="#f9f3f3"/><stop offset="1.000" stop-color="#f1e6e6"/></linearGradient><linearGradient id="r141"><stop offset="0.000" stop-color="#efe2e3"/><stop offset="0.266" stop-color="#eddfe0"/><stop offset="0.383" stop-color="#dfc7c9"/><stop offset="0.464" stop-color="#b47e83"/><stop offset="0.523" stop-color="#a6666b"/><stop offset="0.581" stop-color="#b8858a"/><stop offset="0.662" stop-color="#e9d8d9"/><stop offset="0.779" stop-color="#f8f1f1"/><stop offset="1.000" stop-color="#f6eeee"/></linearGradient><linearGradient id="r142"><stop offset="0.000" stop-color="#ebdbdc"/><stop offset="0.273" stop-color="#f0e4e4"/><stop offset="0.387" stop-color="#d2b1b3"/><stop offset="0.466" stop-color="#a96c71"/><stop offset="0.523" stop-color="#9f5b61"/><stop offset="0.580" stop-color="#a5656b"/><stop offset="0.660" stop-color="#e0c8ca"/><stop offset="0.773" stop-color="#f2e7e8"/><stop offset="1.000" stop-color="#eedfe0"/></linearGradient><linearGradient id="r143"><stop offset="0.000" stop-color="#f4eaeb"/><stop offset="0.279" stop-color="#f2e6e7"/><stop offset="0.390" stop-color="#d8bbbd"/><stop offset="0.468" stop-color="#b78287"/><stop offset="0.524" stop-color="#a36167"/><stop offset="0.579" stop-color="#b9878b"/><stop offset="0.657" stop-color="#e9d8d9"/><stop offset="0.768" stop-color="#f2e7e7"/><stop offset="1.000" stop-color="#fbf6f6"/></linearGradient><linearGradient id="r144"><stop offset="0.000" stop-color="#f2e6e7"/><stop offset="0.285" stop-color="#f8f1f1"/><stop offset="0.394" stop-color="#dec6c8"/><stop offset="0.470" stop-color="#b47e83"/><stop offset="0.524" stop-color="#a96b71"/><stop offset="0.578" stop-color="#be8f93"/><stop offset="0.654" stop-color="#e0c9cb"/><stop offset="0.763" stop-color="#f3e9e9"/><stop offset="1.000" stop-color="#f4eaea"/></linearGradient><linearGradient id="r145"><stop offset="0.000" stop-color="#fbf6f6"/><stop offset="0.292" stop-color="#eddfe0"/><stop offset="0.398" stop-color="#e1cacc"/><stop offset="0.472" stop-color="#bd8e92"/><stop offset="0.525" stop-color="#b88589"/><stop offset="0.577" stop-color="#be8f93"/><stop offset="0.651" stop-color="#ead9da"/><stop offset="0.757" stop-color="#fbf6f6"/><stop offset="1.000" stop-color="#fbf6f6"/></linearGradient><linearGradient id="r146"><stop offset="0.000" stop-color="#fbf6f6"/><stop offset="0.298" stop-color="#eee0e1"/><stop offset="0.401" stop-color="#dec5c7"/><stop offset="0.473" stop-color="#bc8b8f"/><stop offset="0.525" stop-color="#ab6f74"/><stop offset="0.577" stop-color="#c59b9f"/><stop offset="0.649" stop-color="#e7d4d5"/><stop offset="0.752" stop-color="#fbf6f6"/><stop offset="1.000" stop-color="#fbf6f6"/></linearGradient><linearGradient id="r147"><stop offset="0.000" stop-color="#e0c9cb"/><stop offset="0.304" stop-color="#e3ced0"/><stop offset="0.405" stop-color="#e2cbcd"/><stop offset="0.475" stop-color="#bf9094"/><stop offset="0.525" stop-color="#995057"/><stop offset="0.576" stop-color="#c3979a"/><stop offset="0.646" stop-color="#e8d6d8"/><stop offset="0.747" stop-color="#efe2e3"/><stop offset="1.000" stop-color="#e3cdcf"/></linearGradient><linearGradient id="r148"><stop offset="0.000" stop-color="#fbf6f6"/><stop offset="0.310" stop-color="#fbf6f6"/><stop offset="0.408" stop-color="#e6d2d4"/><stop offset="0.477" stop-color="#ab6e73"/><stop offset="0.526" stop-color="#ad7277"/><stop offset="0.575" stop-color="#bb8a8e"/><stop offset="0.644" stop-color="#d2b0b3"/><stop offset="0.742" stop-color="#f5ebec"/><stop offset="1.000" stop-color="#dfc7c9"/></linearGradient><linearGradient id="r149"><stop offset="0.000" stop-color="#fbf6f6"/><stop offset="0.316" stop-color="#efe2e2"/><stop offset="0.412" stop-color="#f3e8e9"/><stop offset="0.479" stop-color="#c19598"/><stop offset="0.526" stop-color="#ad7176"/><stop offset="0.574" stop-color="#bd8d91"/><stop offset="0.641" stop-color="#e6d2d4"/><stop offset="0.736" stop-color="#f6eeee"/><stop offset="1.000" stop-color="#f5ebec"/></linearGradient><linearGradient id="r150"><stop offset="0.000" stop-color="#faf4f4"/><stop offset="0.322" stop-color="#e4cfd1"/><stop offset="0.415" stop-color="#efe1e2"/><stop offset="0.480" stop-color="#be9093"/><stop offset="0.527" stop-color="#b68286"/><stop offset="0.573" stop-color="#c29599"/><stop offset="0.638" stop-color="#dcc1c3"/><stop offset="0.731" stop-color="#fbf6f6"/><stop offset="1.000" stop-color="#fbf6f6"/></linearGradient><linearGradient id="r151"><stop offset="0.000" stop-color="#f3e8e8"/><stop offset="0.328" stop-color="#f2e6e7"/><stop offset="0.419" stop-color="#e4d0d1"/><stop offset="0.482" stop-color="#b9868b"/><stop offset="0.527" stop-color="#b27a7f"/><stop offset="0.573" stop-color="#b47e82"/><stop offset="0.636" stop-color="#e4cfd1"/><stop offset="0.726" stop-color="#fbf6f6"/><stop offset="1.000" stop-color="#fbf6f6"/></linearGradient><linearGradient id="r152"><stop offset="0.000" stop-color="#faf5f5"/><stop offset="0.334" stop-color="#fbf6f6"/><stop offset="0.422" stop-color="#dec6c8"/><stop offset="0.484" stop-color="#be8e92"/><stop offset="0.528" stop-color="#a7686d"/><stop offset="0.572" stop-color="#b1797e"/><stop offset="0.633" stop-color="#efe2e3"/><stop offset="0.721" stop-color="#eee0e1"/><stop offset="1.000" stop-color="#f9f3f3"/></linearGradient><linearGradient id="r153"><stop offset="0.000" stop-color="#f2e6e7"/><stop offset="0.340" stop-color="#f3e9ea"/><stop offset="0.426" stop-color="#e8d5d7"/><stop offset="0.485" stop-color="#c09396"/><stop offset="0.528" stop-color="#b0787d"/><stop offset="0.571" stop-color="#dcc2c4"/><stop offset="0.631" stop-color="#dec5c7"/><stop offset="0.716" stop-color="#efe1e2"/><stop offset="1.000" stop-color="#f2e7e8"/></linearGradient><linearGradient id="r154"><stop offset="0.000" stop-color="#e8d7d8"/><stop offset="0.346" stop-color="#f9f2f2"/><stop offset="0.429" stop-color="#e2cccd"/><stop offset="0.487" stop-color="#c9a2a5"/><stop offset="0.529" stop-color="#c59b9e"/><stop offset="0.570" stop-color="#c19497"/><stop offset="0.628" stop-color="#e3ced0"/><stop offset="0.711" stop-color="#fbf6f6"/><stop offset="1.000" stop-color="#ebdadc"/></linearGradient><linearGradient id="r155"><stop offset="0.000" stop-color="#f2e6e7"/><stop offset="0.352" stop-color="#fbf6f6"/><stop offset="0.432" stop-color="#efe3e3"/><stop offset="0.489" stop-color="#c3989b"/><stop offset="0.529" stop-color="#b27a7f"/><stop offset="0.569" stop-color="#c59a9d"/><stop offset="0.626" stop-color="#e5d1d3"/><stop offset="0.707" stop-color="#f0e4e4"/><stop offset="1.000" stop-color="#f2e7e7"/></linearGradient><linearGradient id="r156"><stop offset="0.000" stop-color="#f5ebec"/><stop offset="0.357" stop-color="#fbf6f6"/><stop offset="0.436" stop-color="#e1cbcc"/><stop offset="0.490" stop-color="#bf9094"/><stop offset="0.530" stop-color="#ab6f74"/><stop offset="0.569" stop-color="#be8f93"/><stop offset="0.623" stop-color="#efe1e2"/><stop offset="0.702" stop-color="#efe1e2"/><stop offset="1.000" stop-color="#e9d8d9"/></linearGradient><linearGradient id="r157"><stop offset="0.000" stop-color="#eee0e1"/><stop offset="0.363" stop-color="#ebdcdd"/><stop offset="0.439" stop-color="#dfc7c9"/><stop offset="0.492" stop-color="#b37d82"/><stop offset="0.530" stop-color="#ac7075"/><stop offset="0.568" stop-color="#a7686d"/><stop offset="0.621" stop-color="#ddc4c5"/><stop offset="0.697" stop-color="#f0e4e4"/><stop offset="1.000" stop-color="#e3cecf"/></linearGradient><linearGradient id="r158"><stop offset="0.000" stop-color="#f7efef"/><stop offset="0.369" stop-color="#efe3e3"/><stop offset="0.442" stop-color="#e7d4d5"/><stop offset="0.494" stop-color="#cea9ac"/><stop offset="0.531" stop-color="#ae7479"/><stop offset="0.567" stop-color="#c69ca0"/><stop offset="0.619" stop-color="#e1cacb"/><stop offset="0.692" stop-color="#ebdbdc"/><stop offset="1.000" stop-color="#f7efef"/></linearGradient><linearGradient id="r159"><stop offset="0.000" stop-color="#f5eced"/><stop offset="0.374" stop-color="#efe2e2"/><stop offset="0.445" stop-color="#e7d4d6"/><stop offset="0.495" stop-color="#cca7aa"/><stop offset="0.531" stop-color="#c8a0a3"/><stop offset="0.567" stop-color="#c9a1a4"/><stop offset="0.617" stop-color="#ead9da"/><stop offset="0.688" stop-color="#dbbfc1"/><stop offset="1.000" stop-color="#f4eaeb"/></linearGradient><linearGradient id="r160"><stop offset="0.000" stop-color="#f9f2f2"/><stop offset="0.380" stop-color="#e9d7d8"/><stop offset="0.449" stop-color="#dfc7c9"/><stop offset="0.497" stop-color="#c4989c"/><stop offset="0.531" stop-color="#b68286"/><stop offset="0.566" stop-color="#d9bdbf"/><stop offset="0.614" stop-color="#ecddde"/><stop offset="0.683" stop-color="#f5ecec"/><stop offset="1.000" stop-color="#e4ced0"/></linearGradient><linearGradient id="r161"><stop offset="0.000" stop-color="#f2e7e8"/><stop offset="0.385" stop-color="#e9d7d8"/><stop offset="0.452" stop-color="#ddc4c6"/><stop offset="0.499" stop-color="#ab6f74"/><stop offset="0.532" stop-color="#ba888d"/><stop offset="0.565" stop-color="#be8f93"/><stop offset="0.612" stop-color="#dbc0c2"/><stop offset="0.679" stop-color="#eee0e0"/><stop offset="1.000" stop-color="#f1e5e6"/></linearGradient><linearGradient id="r162"><stop offset="0.000" stop-color="#efe1e2"/><stop offset="0.390" stop-color="#f9f2f2"/><stop offset="0.455" stop-color="#ead9da"/><stop offset="0.500" stop-color="#c79ea2"/><stop offset="0.532" stop-color="#c3979a"/><stop offset="0.565" stop-color="#be8e92"/><stop offset="0.610" stop-color="#efe1e2"/><stop offset="0.675" stop-color="#faf4f4"/><stop offset="1.000" stop-color="#e9d8da"/></linearGradient><linearGradient id="r163"><stop offset="0.000" stop-color="#f9f3f3"/><stop offset="0.395" stop-color="#eddedf"/><stop offset="0.458" stop-color="#efe1e2"/><stop offset="0.502" stop-color="#e3ced0"/><stop offset="0.533" stop-color="#caa4a7"/><stop offset="0.564" stop-color="#cca6aa"/><stop offset="0.608" stop-color="#ead9da"/><stop offset="0.670" stop-color="#e7d5d6"/><stop offset="1.000" stop-color="#f3e8e8"/></linearGradient><linearGradient id="r164"><stop offset="0.000" stop-color="#e7d5d6"/><stop offset="0.400" stop-color="#faf5f5"/><stop offset="0.461" stop-color="#fbf6f6"/><stop offset="0.503" stop-color="#d3b3b6"/><stop offset="0.533" stop-color="#c79ea1"/><stop offset="0.564" stop-color="#d5b6b8"/><stop offset="0.606" stop-color="#f5ecec"/><stop offset="0.666" stop-color="#efe1e2"/><stop offset="1.000" stop-color="#e9d8d9"/></linearGradient><linearGradient id="r165"><stop offset="0.000" stop-color="#fbf6f6"/><stop offset="0.405" stop-color="#f8f1f1"/><stop offset="0.464" stop-color="#ead9db"/><stop offset="0.505" stop-color="#ead9da"/><stop offset="0.534" stop-color="#cca6a9"/><stop offset="0.563" stop-color="#e9d8d9"/><stop offset="0.604" stop-color="#dcc2c4"/><stop offset="0.662" stop-color="#fbf5f5"/><stop offset="1.000" stop-color="#eddfdf"/></linearGradient><linearGradient id="r166"><stop offset="0.000" stop-color="#fbf6f6"/><stop offset="0.410" stop-color="#efe2e3"/><stop offset="0.466" stop-color="#f6edee"/><stop offset="0.506" stop-color="#e5d1d2"/><stop offset="0.534" stop-color="#dabdc0"/><stop offset="0.562" stop-color="#f0e3e4"/><stop offset="0.602" stop-color="#f2e7e8"/><stop offset="0.659" stop-color="#f2e6e7"/><stop offset="1.000" stop-color="#eedfe0"/></linearGradient><linearGradient id="r167"><stop offset="0.000" stop-color="#efe2e3"/><stop offset="0.415" stop-color="#fbf6f6"/><stop offset="0.469" stop-color="#ebdbdc"/><stop offset="0.507" stop-color="#eddedf"/><stop offset="0.535" stop-color="#f0e3e4"/><stop offset="0.562" stop-color="#e1c9cb"/><stop offset="0.600" stop-color="#e5d1d3"/><stop offset="0.655" stop-color="#f4eaea"/><stop offset="1.000" stop-color="#f6eeee"/></linearGradient><linearGradient id="r168"><stop offset="0.000" stop-color="#fbf6f6"/><stop offset="0.419" stop-color="#f3e8e8"/><stop offset="0.472" stop-color="#f4eaeb"/><stop offset="0.509" stop-color="#ecddde"/><stop offset="0.535" stop-color="#efe2e2"/><stop offset="0.562" stop-color="#f3e8e9"/><stop offset="0.599" stop-color="#fbf6f6"/><stop offset="0.651" stop-color="#fbf6f6"/><stop offset="1.000" stop-color="#eddfe0"/></linearGradient><linearGradient id="r169"><stop offset="0.000" stop-color="#f0e4e4"/><stop offset="0.423" stop-color="#f6eeee"/><stop offset="0.474" stop-color="#fbf6f6"/><stop offset="0.510" stop-color="#eddfe0"/><stop offset="0.536" stop-color="#eddedf"/><stop offset="0.561" stop-color="#eddedf"/><stop offset="0.597" stop-color="#faf5f5"/><stop offset="0.648" stop-color="#fbf6f6"/><stop offset="1.000" stop-color="#fbf6f6"/></linearGradient><linearGradient id="r170"><stop offset="0.000" stop-color="#fbf6f6"/><stop offset="0.427" stop-color="#efe2e2"/><stop offset="0.477" stop-color="#fbf6f6"/><stop offset="0.511" stop-color="#e8d6d7"/><stop offset="0.536" stop-color="#e9d8d9"/><stop offset="0.561" stop-color="#fbf6f6"/><stop offset="0.596" stop-color="#fbf6f6"/><stop offset="0.645" stop-color="#fbf6f6"/><stop offset="1.000" stop-color="#f9f2f2"/></linearGradient><linearGradient id="r171"><stop offset="0.000" stop-color="#f5eded"/><stop offset="0.430" stop-color="#fbf6f6"/><stop offset="0.479" stop-color="#fbf6f6"/><stop offset="0.512" stop-color="#f1e6e7"/><stop offset="0.537" stop-color="#fbf6f6"/><stop offset="0.561" stop-color="#f4e9ea"/><stop offset="0.594" stop-color="#e9d7d8"/><stop offset="0.643" stop-color="#fbf5f5"/><stop offset="1.000" stop-color="#fbf6f6"/></linearGradient></defs>
<rect x="298.3" y="303.80" width="49.6" height="1.05" fill="url(#r0)"/>
<rect x="298.3" y="304.80" width="49.6" height="1.05" fill="url(#r1)"/>
<rect x="298.3" y="305.80" width="49.6" height="1.05" fill="url(#r2)"/>
<rect x="298.3" y="306.80" width="49.6" height="1.05" fill="url(#r3)"/>
<rect x="298.3" y="307.80" width="49.6" height="1.05" fill="url(#r4)"/>
<rect x="298.3" y="308.80" width="49.6" height="1.05" fill="url(#r5)"/>
<rect x="298.3" y="309.80" width="49.6" height="1.05" fill="url(#r6)"/>
<rect x="298.3" y="310.80" width="49.6" height="1.05" fill="url(#r7)"/>
<rect x="298.3" y="311.80" width="49.6" height="1.05" fill="url(#r8)"/>
<rect x="298.3" y="312.80" width="49.6" height="1.05" fill="url(#r9)"/>
<rect x="298.3" y="313.80" width="49.6" height="1.05" fill="url(#r10)"/>
<rect x="298.3" y="314.80" width="49.6" height="1.05" fill="url(#r11)"/>
<rect x="298.3" y="315.80" width="49.6" height="1.05" fill="url(#r12)"/>
<rect x="298.3" y="316.80" width="49.6" height="1.05" fill="url(#r13)"/>
<rect x="298.3" y="317.80" width="49.6" height="1.05" fill="url(#r14)"/>
<rect x="298.3" y="318.80" width="49.6" height="1.05" fill="url(#r15)"/>
<rect x="298.3" y="319.80" width="49.6" height="1.05" fill="url(#r16)"/>
<rect x="298.3" y="320.80" width="49.6" height="1.05" fill="url(#r17)"/>
<rect x="298.3" y="321.80" width="49.6" height="1.05" fill="url(#r18)"/>
<rect x="298.3" y="322.80" width="49.6" height="1.05" fill="url(#r19)"/>
<rect x="298.3" y="323.80" width="49.6" height="1.05" fill="url(#r20)"/>
<rect x="298.3" y="324.80" width="49.6" height="1.05" fill="url(#r21)"/>
<rect x="298.3" y="325.80" width="49.6" height="1.05" fill="url(#r22)"/>
<rect x="298.3" y="326.80" width="49.6" height="1.05" fill="url(#r23)"/>
<rect x="298.3" y="327.80" width="49.6" height="1.05" fill="url(#r24)"/>
<rect x="298.3" y="328.80" width="49.6" height="1.05" fill="url(#r25)"/>
<rect x="298.3" y="329.80" width="49.6" height="1.05" fill="url(#r26)"/>
<rect x="298.3" y="330.80" width="49.6" height="1.05" fill="url(#r27)"/>
<rect x="298.3" y="331.80" width="49.6" height="1.05" fill="url(#r28)"/>
<rect x="298.3" y="332.80" width="49.6" height="1.05" fill="url(#r29)"/>
<rect x="298.3" y="333.80" width="49.6" height="1.05" fill="url(#r30)"/>
<rect x="298.3" y="334.80" width="49.6" height="1.05" fill="url(#r31)"/>
<rect x="298.3" y="335.80" width="49.6" height="1.05" fill="url(#r32)"/>
<rect x="298.3" y="336.80" width="49.6" height="1.05" fill="url(#r33)"/>
<rect x="298.3" y="337.80" width="49.6" height="1.05" fill="url(#r34)"/>
<rect x="298.3" y="338.80" width="49.6" height="1.05" fill="url(#r35)"/>
<rect x="298.3" y="339.80" width="49.6" height="1.05" fill="url(#r36)"/>
<rect x="298.3" y="340.80" width="49.6" height="1.05" fill="url(#r37)"/>
<rect x="298.3" y="341.80" width="49.6" height="1.05" fill="url(#r38)"/>
<rect x="298.3" y="342.80" width="49.6" height="1.05" fill="url(#r39)"/>
<rect x="298.3" y="343.80" width="49.6" height="1.05" fill="url(#r40)"/>
<rect x="298.3" y="344.80" width="49.6" height="1.05" fill="url(#r41)"/>
<rect x="298.3" y="345.80" width="49.6" height="1.05" fill="url(#r42)"/>
<rect x="298.3" y="346.80" width="49.6" height="1.05" fill="url(#r43)"/>
<rect x="298.3" y="347.80" width="49.6" height="1.05" fill="url(#r44)"/>
<rect x="298.3" y="348.80" width="49.6" height="1.05" fill="url(#r45)"/>
<rect x="298.3" y="349.80" width="49.6" height="1.05" fill="url(#r46)"/>
<rect x="298.3" y="350.80" width="49.6" height="1.05" fill="url(#r47)"/>
<rect x="298.3" y="351.80" width="49.6" height="1.05" fill="url(#r48)"/>
<rect x="298.3" y="352.80" width="49.6" height="1.05" fill="url(#r49)"/>
<rect x="298.3" y="353.80" width="49.6" height="1.05" fill="url(#r50)"/>
<rect x="298.3" y="354.80" width="49.6" height="1.05" fill="url(#r51)"/>
<rect x="298.3" y="355.80" width="49.6" height="1.05" fill="url(#r52)"/>
<rect x="298.3" y="356.80" width="49.6" height="1.05" fill="url(#r53)"/>
<rect x="298.3" y="357.80" width="49.6" height="1.05" fill="url(#r54)"/>
<rect x="298.3" y="358.80" width="49.6" height="1.05" fill="url(#r55)"/>
<rect x="298.3" y="359.80" width="49.6" height="1.05" fill="url(#r56)"/>
<rect x="298.3" y="360.80" width="49.6" height="1.05" fill="url(#r57)"/>
<rect x="298.3" y="361.80" width="49.6" height="1.05" fill="url(#r58)"/>
<rect x="298.3" y="362.80" width="49.6" height="1.05" fill="url(#r59)"/>
<rect x="298.3" y="363.80" width="49.6" height="1.05" fill="url(#r60)"/>
<rect x="298.3" y="364.80" width="49.6" height="1.05" fill="url(#r61)"/>
<rect x="298.3" y="365.80" width="49.6" height="1.05" fill="url(#r62)"/>
<rect x="298.3" y="366.80" width="49.6" height="1.05" fill="url(#r63)"/>
<rect x="298.3" y="367.80" width="49.6" height="1.05" fill="url(#r64)"/>
<rect x="298.3" y="368.80" width="49.6" height="1.05" fill="url(#r65)"/>
<rect x="298.3" y="369.80" width="49.6" height="1.05" fill="url(#r66)"/>
<rect x="298.3" y="370.80" width="49.6" height="1.05" fill="url(#r67)"/>
<rect x="298.3" y="371.80" width="49.6" height="1.05" fill="url(#r68)"/>
<rect x="298.3" y="372.80" width="49.6" height="1.05" fill="url(#r69)"/>
<rect x="298.3" y="373.80" width="49.6" height="1.05" fill="url(#r70)"/>
<rect x="298.3" y="374.80" width="49.6" height="1.05" fill="url(#r71)"/>
<rect x="298.3" y="375.80" width="49.6" height="1.05" fill="url(#r72)"/>
<rect x="298.3" y="376.80" width="49.6" height="1.05" fill="url(#r73)"/>
<rect x="298.3" y="377.80" width="49.6" height="1.05" fill="url(#r74)"/>
<rect x="298.3" y="378.80" width="49.6" height="1.05" fill="url(#r75)"/>
<rect x="298.3" y="379.80" width="49.6" height="1.05" fill="url(#r76)"/>
<rect x="298.3" y="380.80" width="49.6" height="1.05" fill="url(#r77)"/>
<rect x="298.3" y="381.80" width="49.6" height="1.05" fill="url(#r78)"/>
<rect x="298.3" y="382.80" width="49.6" height="1.05" fill="url(#r79)"/>
<rect x="298.3" y="383.80" width="49.6" height="1.05" fill="url(#r80)"/>
<rect x="298.3" y="384.80" width="49.6" height="1.05" fill="url(#r81)"/>
<rect x="298.3" y="385.80" width="49.6" height="1.05" fill="url(#r82)"/>
<rect x="298.3" y="386.80" width="49.6" height="1.05" fill="url(#r83)"/>
<rect x="298.3" y="387.80" width="49.6" height="1.05" fill="url(#r84)"/>
<rect x="298.3" y="388.80" width="49.6" height="1.05" fill="url(#r85)"/>
<rect x="349.0" y="303.80" width="50.3" height="1.05" fill="url(#r86)"/>
<rect x="349.0" y="304.80" width="50.3" height="1.05" fill="url(#r87)"/>
<rect x="349.0" y="305.80" width="50.3" height="1.05" fill="url(#r88)"/>
<rect x="349.0" y="306.80" width="50.3" height="1.05" fill="url(#r89)"/>
<rect x="349.0" y="307.80" width="50.3" height="1.05" fill="url(#r90)"/>
<rect x="349.0" y="308.80" width="50.3" height="1.05" fill="url(#r91)"/>
<rect x="349.0" y="309.80" width="50.3" height="1.05" fill="url(#r92)"/>
<rect x="349.0" y="310.80" width="50.3" height="1.05" fill="url(#r93)"/>
<rect x="349.0" y="311.80" width="50.3" height="1.05" fill="url(#r94)"/>
<rect x="349.0" y="312.80" width="50.3" height="1.05" fill="url(#r95)"/>
<rect x="349.0" y="313.80" width="50.3" height="1.05" fill="url(#r96)"/>
<rect x="349.0" y="314.80" width="50.3" height="1.05" fill="url(#r97)"/>
<rect x="349.0" y="315.80" width="50.3" height="1.05" fill="url(#r98)"/>
<rect x="349.0" y="316.80" width="50.3" height="1.05" fill="url(#r99)"/>
<rect x="349.0" y="317.80" width="50.3" height="1.05" fill="url(#r100)"/>
<rect x="349.0" y="318.80" width="50.3" height="1.05" fill="url(#r101)"/>
<rect x="349.0" y="319.80" width="50.3" height="1.05" fill="url(#r102)"/>
<rect x="349.0" y="320.80" width="50.3" height="1.05" fill="url(#r103)"/>
<rect x="349.0" y="321.80" width="50.3" height="1.05" fill="url(#r104)"/>
<rect x="349.0" y="322.80" width="50.3" height="1.05" fill="url(#r105)"/>
<rect x="349.0" y="323.80" width="50.3" height="1.05" fill="url(#r106)"/>
<rect x="349.0" y="324.80" width="50.3" height="1.05" fill="url(#r107)"/>
<rect x="349.0" y="325.80" width="50.3" height="1.05" fill="url(#r108)"/>
<rect x="349.0" y="326.80" width="50.3" height="1.05" fill="url(#r109)"/>
<rect x="349.0" y="327.80" width="50.3" height="1.05" fill="url(#r110)"/>
<rect x="349.0" y="328.80" width="50.3" height="1.05" fill="url(#r111)"/>
<rect x="349.0" y="329.80" width="50.3" height="1.05" fill="url(#r112)"/>
<rect x="349.0" y="330.80" width="50.3" height="1.05" fill="url(#r113)"/>
<rect x="349.0" y="331.80" width="50.3" height="1.05" fill="url(#r114)"/>
<rect x="349.0" y="332.80" width="50.3" height="1.05" fill="url(#r115)"/>
<rect x="349.0" y="333.80" width="50.3" height="1.05" fill="url(#r116)"/>
<rect x="349.0" y="334.80" width="50.3" height="1.05" fill="url(#r117)"/>
<rect x="349.0" y="335.80" width="50.3" height="1.05" fill="url(#r118)"/>
<rect x="349.0" y="336.80" width="50.3" height="1.05" fill="url(#r119)"/>
<rect x="349.0" y="337.80" width="50.3" height="1.05" fill="url(#r120)"/>
<rect x="349.0" y="338.80" width="50.3" height="1.05" fill="url(#r121)"/>
<rect x="349.0" y="339.80" width="50.3" height="1.05" fill="url(#r122)"/>
<rect x="349.0" y="340.80" width="50.3" height="1.05" fill="url(#r123)"/>
<rect x="349.0" y="341.80" width="50.3" height="1.05" fill="url(#r124)"/>
<rect x="349.0" y="342.80" width="50.3" height="1.05" fill="url(#r125)"/>
<rect x="349.0" y="343.80" width="50.3" height="1.05" fill="url(#r126)"/>
<rect x="349.0" y="344.80" width="50.3" height="1.05" fill="url(#r127)"/>
<rect x="349.0" y="345.80" width="50.3" height="1.05" fill="url(#r128)"/>
<rect x="349.0" y="346.80" width="50.3" height="1.05" fill="url(#r129)"/>
<rect x="349.0" y="347.80" width="50.3" height="1.05" fill="url(#r130)"/>
<rect x="349.0" y="348.80" width="50.3" height="1.05" fill="url(#r131)"/>
<rect x="349.0" y="349.80" width="50.3" height="1.05" fill="url(#r132)"/>
<rect x="349.0" y="350.80" width="50.3" height="1.05" fill="url(#r133)"/>
<rect x="349.0" y="351.80" width="50.3" height="1.05" fill="url(#r134)"/>
<rect x="349.0" y="352.80" width="50.3" height="1.05" fill="url(#r135)"/>
<rect x="349.0" y="353.80" width="50.3" height="1.05" fill="url(#r136)"/>
<rect x="349.0" y="354.80" width="50.3" height="1.05" fill="url(#r137)"/>
<rect x="349.0" y="355.80" width="50.3" height="1.05" fill="url(#r138)"/>
<rect x="349.0" y="356.80" width="50.3" height="1.05" fill="url(#r139)"/>
<rect x="349.0" y="357.80" width="50.3" height="1.05" fill="url(#r140)"/>
<rect x="349.0" y="358.80" width="50.3" height="1.05" fill="url(#r141)"/>
<rect x="349.0" y="359.80" width="50.3" height="1.05" fill="url(#r142)"/>
<rect x="349.0" y="360.80" width="50.3" height="1.05" fill="url(#r143)"/>
<rect x="349.0" y="361.80" width="50.3" height="1.05" fill="url(#r144)"/>
<rect x="349.0" y="362.80" width="50.3" height="1.05" fill="url(#r145)"/>
<rect x="349.0" y="363.80" width="50.3" height="1.05" fill="url(#r146)"/>
<rect x="349.0" y="364.80" width="50.3" height="1.05" fill="url(#r147)"/>
<rect x="349.0" y="365.80" width="50.3" height="1.05" fill="url(#r148)"/>
<rect x="349.0" y="366.80" width="50.3" height="1.05" fill="url(#r149)"/>
<rect x="349.0" y="367.80" width="50.3" height="1.05" fill="url(#r150)"/>
<rect x="349.0" y="368.80" width="50.3" height="1.05" fill="url(#r151)"/>
<rect x="349.0" y="369.80" width="50.3" height="1.05" fill="url(#r152)"/>
<rect x="349.0" y="370.80" width="50.3" height="1.05" fill="url(#r153)"/>
<rect x="349.0" y="371.80" width="50.3" height="1.05" fill="url(#r154)"/>
<rect x="349.0" y="372.80" width="50.3" height="1.05" fill="url(#r155)"/>
<rect x="349.0" y="373.80" width="50.3" height="1.05" fill="url(#r156)"/>
<rect x="349.0" y="374.80" width="50.3" height="1.05" fill="url(#r157)"/>
<rect x="349.0" y="375.80" width="50.3" height="1.05" fill="url(#r158)"/>
<rect x="349.0" y="376.80" width="50.3" height="1.05" fill="url(#r159)"/>
<rect x="349.0" y="377.80" width="50.3" height="1.05" fill="url(#r160)"/>
<rect x="349.0" y="378.80" width="50.3" height="1.05" fill="url(#r161)"/>
<rect x="349.0" y="379.80" width="50.3" height="1.05" fill="url(#r162)"/>
<rect x="349.0" y="380.80" width="50.3" height="1.05" fill="url(#r163)"/>
<rect x="349.0" y="381.80" width="50.3" height="1.05" fill="url(#r164)"/>
<rect x="349.0" y="382.80" width="50.3" height="1.05" fill="url(#r165)"/>
<rect x="349.0" y="383.80" width="50.3" height="1.05" fill="url(#r166)"/>
<rect x="349.0" y="384.80" width="50.3" height="1.05" fill="url(#r167)"/>
<rect x="349.0" y="385.80" width="50.3" height="1.05" fill="url(#r168)"/>
<rect x="349.0" y="386.80" width="50.3" height="1.05" fill="url(#r169)"/>
<rect x="349.0" y="387.80" width="50.3" height="1.05" fill="url(#r170)"/>
<rect x="349.0" y="388.80" width="50.3" height="1.05" fill="url(#r171)"/>
<path d="M344.5 376.5h3.5v.8h-3.5zM310.5 377.7h4.1v.8h-4.1zM318.1 363.3h4.5v.8h-4.5zM356.0 384.7h3.4v.8h-3.4zM299.5 360.4h4.4v.8h-4.4zM390.1 368.4h4.8v.8h-4.8zM378.8 344.8h1.7v.8h-1.7zM315.1 309.1h4.7v.8h-4.7zM379.2 381.1h4.2v.8h-4.2zM343.7 352.4h1.6v.8h-1.6zM314.4 338.6h1.7v.8h-1.7zM330.3 348.6h2.1v.8h-2.1zM316.1 312.2h3.1v.8h-3.1zM382.2 342.6h4.0v.8h-4.0zM370.1 372.5h4.3v.8h-4.3zM348.5 308.9h2.1v.8h-2.1zM326.2 333.3h3.6v.8h-3.6zM348.2 329.2h2.1v.8h-2.1zM372.3 388.6h4.0v.8h-4.0zM312.4 363.4h4.3v.8h-4.3zM352.2 358.2h4.5v.8h-4.5zM346.3 364.4h2.1v.8h-2.1zM382.1 353.0h2.2v.8h-2.2zM360.9 374.3h3.1v.8h-3.1zM329.6 364.7h5.0v.8h-5.0zM394.6 331.0h3.2v.8h-3.2zM336.1 316.9h3.4v.8h-3.4zM327.1 345.1h4.4v.8h-4.4zM354.0 388.1h2.2v.8h-2.2zM316.9 310.4h4.0v.8h-4.0zM327.0 323.4h3.7v.8h-3.7zM394.5 368.3h4.8v.8h-4.8zM391.7 349.3h2.3v.8h-2.3zM374.9 323.3h1.7v.8h-1.7zM335.8 367.1h3.7v.8h-3.7zM339.4 315.6h2.1v.8h-2.1zM358.5 346.5h3.4v.8h-3.4zM372.7 353.1h4.5v.8h-4.5zM390.5 348.6h2.8v.8h-2.8zM348.8 326.0h2.1v.8h-2.1zM370.5 342.1h1.6v.8h-1.6zM337.7 332.0h1.7v.8h-1.7zM300.6 356.6h4.3v.8h-4.3zM382.3 355.2h2.3v.8h-2.3zM362.2 327.6h2.3v.8h-2.3zM331.2 316.3h1.9v.8h-1.9zM394.4 312.1h4.9v.8h-4.9zM367.6 367.3h1.9v.8h-1.9zM366.5 321.8h3.3v.8h-3.3zM343.7 380.8h1.9v.8h-1.9zM299.0 354.1h3.3v.8h-3.3zM363.3 312.3h2.8v.8h-2.8zM369.8 354.7h2.6v.8h-2.6zM299.1 308.7h4.6v.8h-4.6zM325.7 311.0h2.5v.8h-2.5zM319.5 350.7h1.7v.8h-1.7zM352.4 359.3h3.4v.8h-3.4zM358.1 325.3h2.9v.8h-2.9zM373.3 329.0h4.4v.8h-4.4zM317.3 345.1h4.6v.8h-4.6zM364.8 328.2h2.8v.8h-2.8zM326.6 368.1h2.8v.8h-2.8zM382.2 363.4h4.4v.8h-4.4zM351.5 328.7h3.9v.8h-3.9zM342.0 309.3h3.1v.8h-3.1zM317.0 311.2h2.4v.8h-2.4zM394.0 361.2h3.0v.8h-3.0zM356.7 337.5h3.5v.8h-3.5zM324.4 376.8h4.3v.8h-4.3zM342.8 351.7h2.8v.8h-2.8zM375.5 375.2h4.7v.8h-4.7zM309.0 381.2h2.3v.8h-2.3zM309.4 339.7h3.8v.8h-3.8zM309.8 359.1h4.9v.8h-4.9zM376.4 374.5h2.1v.8h-2.1zM332.0 325.7h2.8v.8h-2.8zM386.9 388.7h2.4v.8h-2.4zM354.6 356.1h4.9v.8h-4.9zM343.4 314.9h1.8v.8h-1.8zM312.9 345.0h1.8v.8h-1.8zM367.7 321.3h1.6v.8h-1.6zM370.5 343.9h4.1v.8h-4.1zM356.1 337.1h1.7v.8h-1.7zM383.8 362.1h2.4v.8h-2.4zM306.5 357.9h4.8v.8h-4.8zM372.7 382.5h5.0v.8h-5.0zM311.0 320.5h3.1v.8h-3.1zM309.5 345.7h4.4v.8h-4.4zM324.4 373.7h2.4v.8h-2.4zM380.1 311.4h1.9v.8h-1.9zM302.9 353.7h1.6v.8h-1.6zM367.8 340.1h4.7v.8h-4.7zM336.9 375.1h4.1v.8h-4.1zM335.8 370.4h3.6v.8h-3.6zM357.7 340.8h2.0v.8h-2.0zM350.7 348.6h3.0v.8h-3.0zM394.6 319.4h4.7v.8h-4.7zM354.3 313.3h3.5v.8h-3.5zM317.1 346.6h3.2v.8h-3.2zM375.7 381.4h1.8v.8h-1.8zM386.2 383.7h2.0v.8h-2.0zM306.4 344.0h1.6v.8h-1.6zM310.8 347.9h2.2v.8h-2.2zM358.5 322.5h3.8v.8h-3.8zM360.8 311.4h3.9v.8h-3.9zM390.7 388.5h1.6v.8h-1.6zM367.3 331.8h3.0v.8h-3.0zM344.4 309.1h3.7v.8h-3.7zM311.3 376.9h1.9v.8h-1.9zM360.7 351.5h1.6v.8h-1.6zM309.7 346.7h2.9v.8h-2.9zM313.8 313.5h2.3v.8h-2.3zM379.8 316.5h4.1v.8h-4.1zM309.7 373.6h4.2v.8h-4.2zM386.7 337.8h4.9v.8h-4.9zM339.8 358.0h4.4v.8h-4.4zM313.5 308.8h3.9v.8h-3.9zM321.0 323.4h3.2v.8h-3.2zM315.5 327.7h2.2v.8h-2.2zM307.4 373.5h4.5v.8h-4.5zM371.6 341.9h4.7v.8h-4.7zM352.7 351.6h1.6v.8h-1.6zM333.9 323.2h3.8v.8h-3.8zM394.8 357.7h2.6v.8h-2.6zM381.7 311.7h4.3v.8h-4.3zM302.6 386.0h4.1v.8h-4.1zM395.5 345.5h3.8v.8h-3.8zM338.3 368.1h3.4v.8h-3.4zM344.0 372.5h4.8v.8h-4.8zM326.2 326.6h5.0v.8h-5.0zM332.1 335.9h3.4v.8h-3.4zM327.3 343.3h2.5v.8h-2.5zM342.6 372.0h4.2v.8h-4.2zM391.5 383.4h2.4v.8h-2.4zM376.3 363.2h3.7v.8h-3.7zM347.2 382.3h3.5v.8h-3.5zM392.3 313.9h2.8v.8h-2.8zM311.6 365.5h3.1v.8h-3.1zM330.4 333.3h3.2v.8h-3.2zM329.0 346.4h3.7v.8h-3.7zM300.3 323.5h3.3v.8h-3.3zM364.7 354.8h4.1v.8h-4.1zM341.8 381.6h4.2v.8h-4.2zM348.9 352.9h4.3v.8h-4.3zM326.4 328.7h3.2v.8h-3.2zM349.0 309.4h3.3v.8h-3.3zM390.4 377.7h3.4v.8h-3.4zM368.5 336.2h1.8v.8h-1.8zM380.7 350.3h3.6v.8h-3.6zM359.7 386.9h2.6v.8h-2.6zM355.5 366.7h3.9v.8h-3.9zM389.5 308.5h4.3v.8h-4.3zM302.1 331.7h2.7v.8h-2.7zM378.6 379.7h3.4v.8h-3.4zM354.0 360.9h1.6v.8h-1.6zM335.5 343.0h1.7v.8h-1.7zM329.2 328.5h2.0v.8h-2.0zM317.2 336.1h3.8v.8h-3.8zM383.6 331.8h4.3v.8h-4.3zM369.7 313.6h2.2v.8h-2.2zM386.2 316.8h3.7v.8h-3.7zM356.8 372.7h4.2v.8h-4.2zM380.2 316.5h4.0v.8h-4.0zM388.1 360.9h4.9v.8h-4.9zM306.6 344.1h4.9v.8h-4.9zM328.6 334.0h2.5v.8h-2.5zM335.8 341.2h3.3v.8h-3.3zM324.1 347.0h4.8v.8h-4.8zM333.3 325.9h4.7v.8h-4.7zM369.4 371.5h4.7v.8h-4.7zM396.8 330.6h1.5v.8h-1.5zM372.2 360.5h2.9v.8h-2.9zM388.9 372.5h3.5v.8h-3.5zM359.7 340.2h2.1v.8h-2.1zM327.8 366.1h3.2v.8h-3.2zM350.6 360.0h4.8v.8h-4.8zM310.2 312.8h4.2v.8h-4.2zM320.0 352.8h3.3v.8h-3.3zM365.4 358.7h2.9v.8h-2.9zM358.9 383.5h4.4v.8h-4.4zM344.0 366.4h2.5v.8h-2.5zM390.9 305.3h3.5v.8h-3.5zM375.1 381.6h3.4v.8h-3.4zM349.6 356.0h4.1v.8h-4.1zM335.6 358.5h2.4v.8h-2.4zM306.2 311.5h2.1v.8h-2.1zM339.0 316.1h4.2v.8h-4.2zM367.0 337.3h2.1v.8h-2.1zM339.9 378.3h4.4v.8h-4.4zM367.4 337.3h4.4v.8h-4.4zM349.2 333.6h4.7v.8h-4.7zM365.5 309.7h1.7v.8h-1.7zM345.8 370.2h3.0v.8h-3.0zM351.5 316.4h3.6v.8h-3.6zM339.3 335.3h2.2v.8h-2.2zM357.6 374.7h3.4v.8h-3.4zM359.0 351.8h4.0v.8h-4.0zM368.1 305.9h4.9v.8h-4.9zM347.6 309.2h4.0v.8h-4.0zM374.5 335.8h3.6v.8h-3.6zM302.3 367.0h3.9v.8h-3.9zM379.1 344.8h4.7v.8h-4.7zM339.8 305.4h1.8v.8h-1.8zM330.7 323.9h2.3v.8h-2.3zM307.4 359.5h4.6v.8h-4.6zM391.4 334.7h3.2v.8h-3.2zM351.0 355.5h4.1v.8h-4.1zM341.6 306.6h2.6v.8h-2.6zM299.5 362.3h4.9v.8h-4.9zM355.7 363.1h3.5v.8h-3.5zM395.7 319.0h3.5v.8h-3.5zM331.6 343.5h2.3v.8h-2.3zM376.6 333.0h2.4v.8h-2.4zM384.1 306.5h2.2v.8h-2.2zM391.3 361.0h2.2v.8h-2.2zM311.6 361.5h4.4v.8h-4.4zM395.2 384.1h4.1v.8h-4.1zM306.7 371.2h3.0v.8h-3.0zM351.6 307.0h1.5v.8h-1.5zM350.2 359.2h2.4v.8h-2.4zM394.7 310.7h4.6v.8h-4.6zM391.7 312.4h4.4v.8h-4.4zM359.9 341.5h3.0v.8h-3.0zM353.1 382.8h4.2v.8h-4.2zM345.7 343.6h2.1v.8h-2.1zM353.1 377.3h3.7v.8h-3.7zM358.3 343.0h4.9v.8h-4.9zM383.6 348.5h3.8v.8h-3.8zM379.1 326.6h3.7v.8h-3.7zM326.9 369.2h2.6v.8h-2.6zM394.7 363.2h3.3v.8h-3.3zM355.3 354.0h2.4v.8h-2.4zM300.7 343.0h2.5v.8h-2.5zM345.5 322.7h2.2v.8h-2.2zM395.2 336.8h4.1v.8h-4.1zM312.3 312.3h3.9v.8h-3.9zM342.0 372.2h1.6v.8h-1.6zM348.0 355.2h2.3v.8h-2.3zM370.0 321.5h1.9v.8h-1.9zM313.9 308.9h2.9v.8h-2.9zM376.8 319.6h2.5v.8h-2.5zM331.9 323.6h4.5v.8h-4.5zM381.9 315.1h3.8v.8h-3.8zM389.1 306.0h2.9v.8h-2.9zM301.0 331.6h1.9v.8h-1.9zM344.2 322.2h4.1v.8h-4.1zM336.5 312.0h3.4v.8h-3.4zM344.3 367.2h4.1v.8h-4.1zM323.1 337.3h4.0v.8h-4.0zM395.3 351.4h3.6v.8h-3.6zM331.7 341.5h2.6v.8h-2.6zM348.0 329.0h2.6v.8h-2.6zM301.2 312.3h4.5v.8h-4.5zM333.0 385.9h2.4v.8h-2.4zM334.8 380.1h3.1v.8h-3.1zM366.2 370.2h2.9v.8h-2.9zM318.5 305.8h4.5v.8h-4.5zM355.8 370.7h4.9v.8h-4.9zM385.6 354.7h1.9v.8h-1.9zM356.1 345.7h1.9v.8h-1.9zM300.2 334.0h2.8v.8h-2.8zM386.1 388.4h4.7v.8h-4.7zM330.5 376.7h2.8v.8h-2.8zM334.8 353.5h1.6v.8h-1.6zM365.8 310.2h3.6v.8h-3.6zM373.1 310.1h3.8v.8h-3.8zM349.3 334.3h4.2v.8h-4.2zM329.9 321.1h2.9v.8h-2.9zM334.9 373.9h2.2v.8h-2.2zM338.1 370.5h3.1v.8h-3.1zM332.2 317.4h2.7v.8h-2.7zM351.5 370.5h5.0v.8h-5.0zM351.8 346.9h4.2v.8h-4.2zM344.9 326.4h3.9v.8h-3.9zM381.6 323.6h4.5v.8h-4.5zM304.4 321.0h2.8v.8h-2.8zM389.0 345.4h2.7v.8h-2.7zM322.7 344.3h3.5v.8h-3.5zM358.2 380.0h1.9v.8h-1.9zM370.1 385.8h3.6v.8h-3.6zM369.4 372.7h4.6v.8h-4.6zM330.2 343.0h4.4v.8h-4.4zM314.3 342.7h4.9v.8h-4.9zM338.2 341.4h3.0v.8h-3.0zM346.4 369.6h1.9v.8h-1.9zM344.4 340.8h4.9v.8h-4.9zM383.9 329.7h2.6v.8h-2.6zM395.4 306.0h3.9v.8h-3.9zM300.0 329.5h3.8v.8h-3.8zM366.0 358.4h2.3v.8h-2.3zM338.5 376.8h2.5v.8h-2.5zM352.1 351.9h4.5v.8h-4.5zM378.9 371.4h2.7v.8h-2.7zM372.1 380.1h1.8v.8h-1.8zM371.0 343.9h2.8v.8h-2.8zM362.7 372.9h4.7v.8h-4.7zM378.2 383.3h4.5v.8h-4.5zM349.5 363.1h4.7v.8h-4.7zM357.4 310.9h2.9v.8h-2.9zM366.7 306.8h1.9v.8h-1.9zM382.8 362.5h1.6v.8h-1.6zM376.5 356.3h2.8v.8h-2.8zM363.0 312.8h2.0v.8h-2.0zM367.1 362.3h3.7v.8h-3.7zM342.0 321.5h2.0v.8h-2.0zM392.0 329.4h3.0v.8h-3.0zM349.5 305.3h2.6v.8h-2.6zM318.1 313.7h4.8v.8h-4.8zM315.8 329.7h2.4v.8h-2.4zM377.0 377.9h3.7v.8h-3.7zM361.6 355.4h1.6v.8h-1.6zM364.9 385.1h4.6v.8h-4.6zM389.8 315.7h4.0v.8h-4.0zM396.8 325.5h2.5v.8h-2.5zM396.3 325.3h2.0v.8h-2.0zM366.3 332.1h3.7v.8h-3.7zM323.7 324.3h3.6v.8h-3.6zM341.9 361.1h3.4v.8h-3.4zM322.6 322.3h1.8v.8h-1.8zM306.1 364.8h2.7v.8h-2.7zM298.6 307.6h4.5v.8h-4.5zM361.1 322.9h4.3v.8h-4.3zM387.8 309.6h2.1v.8h-2.1zM365.9 370.1h2.4v.8h-2.4zM346.6 333.1h2.8v.8h-2.8zM382.0 353.4h3.7v.8h-3.7zM389.2 381.9h3.8v.8h-3.8zM301.8 336.0h4.9v.8h-4.9zM345.9 307.6h3.8v.8h-3.8zM353.9 366.1h3.4v.8h-3.4zM326.6 336.5h2.0v.8h-2.0zM340.2 347.7h2.0v.8h-2.0zM303.4 358.1h3.7v.8h-3.7zM375.8 344.1h1.8v.8h-1.8zM350.5 329.9h4.7v.8h-4.7zM320.0 373.0h3.8v.8h-3.8zM327.9 355.1h1.7v.8h-1.7zM325.5 364.3h1.6v.8h-1.6zM354.2 381.0h4.9v.8h-4.9zM375.5 374.4h2.6v.8h-2.6zM334.3 326.9h1.7v.8h-1.7zM306.7 309.7h2.3v.8h-2.3zM331.5 336.7h3.2v.8h-3.2zM382.0 335.7h3.1v.8h-3.1zM378.8 342.7h4.0v.8h-4.0zM395.4 380.3h2.5v.8h-2.5zM382.5 382.8h2.3v.8h-2.3zM312.9 366.2h3.8v.8h-3.8zM318.9 387.4h3.1v.8h-3.1zM395.3 347.0h4.0v.8h-4.0zM312.0 373.0h3.0v.8h-3.0zM320.3 340.8h3.8v.8h-3.8zM387.3 369.0h4.7v.8h-4.7zM374.5 336.4h2.1v.8h-2.1zM389.3 341.6h4.8v.8h-4.8zM365.9 371.4h3.6v.8h-3.6zM318.4 345.9h3.8v.8h-3.8zM309.4 336.3h4.3v.8h-4.3zM319.9 306.1h2.3v.8h-2.3zM341.9 328.6h3.3v.8h-3.3zM325.4 341.4h4.7v.8h-4.7zM381.6 368.7h3.0v.8h-3.0zM353.8 372.2h2.2v.8h-2.2zM334.0 316.5h3.1v.8h-3.1zM329.3 361.5h2.8v.8h-2.8zM363.6 353.4h3.6v.8h-3.6zM341.3 340.2h1.9v.8h-1.9zM363.1 332.1h2.5v.8h-2.5zM388.2 340.1h1.9v.8h-1.9zM360.7 338.6h2.8v.8h-2.8zM358.9 347.3h4.6v.8h-4.6zM328.3 373.3h4.5v.8h-4.5zM324.1 306.3h2.0v.8h-2.0zM351.5 377.8h3.1v.8h-3.1zM322.2 354.5h4.3v.8h-4.3zM391.0 351.6h2.2v.8h-2.2zM353.9 347.0h2.2v.8h-2.2zM308.3 378.5h2.5v.8h-2.5zM385.6 352.6h1.5v.8h-1.5zM388.8 387.4h2.1v.8h-2.1zM367.8 308.6h4.6v.8h-4.6zM312.4 356.8h4.1v.8h-4.1zM357.3 379.2h2.1v.8h-2.1zM395.8 359.7h1.9v.8h-1.9zM302.1 322.7h1.9v.8h-1.9zM336.7 315.3h2.5v.8h-2.5zM383.8 363.9h2.5v.8h-2.5zM310.3 312.7h2.6v.8h-2.6zM304.8 316.7h5.0v.8h-5.0zM331.0 374.8h1.7v.8h-1.7zM313.8 309.3h3.4v.8h-3.4zM385.9 376.5h2.8v.8h-2.8zM378.2 337.8h3.3v.8h-3.3zM326.9 332.8h3.7v.8h-3.7zM337.1 321.7h2.7v.8h-2.7zM302.3 336.7h4.7v.8h-4.7zM354.3 327.6h3.2v.8h-3.2zM351.6 317.2h3.4v.8h-3.4zM325.5 314.2h2.3v.8h-2.3zM332.4 365.3h1.7v.8h-1.7zM346.7 353.6h4.5v.8h-4.5zM312.5 370.5h2.7v.8h-2.7zM311.0 361.5h4.0v.8h-4.0zM395.3 326.5h4.0v.8h-4.0zM392.5 349.6h3.9v.8h-3.9zM310.7 329.4h2.9v.8h-2.9zM317.0 314.9h2.8v.8h-2.8zM362.6 347.5h3.3v.8h-3.3zM350.0 368.0h4.1v.8h-4.1zM331.5 313.8h2.0v.8h-2.0zM334.0 340.2h3.9v.8h-3.9zM308.2 323.0h4.1v.8h-4.1zM383.5 327.2h3.4v.8h-3.4zM353.6 326.4h3.2v.8h-3.2zM304.0 383.8h2.4v.8h-2.4zM389.1 379.9h2.9v.8h-2.9zM315.0 329.2h4.7v.8h-4.7zM303.9 327.2h2.4v.8h-2.4zM334.1 387.5h3.0v.8h-3.0zM390.3 359.8h1.5v.8h-1.5zM334.1 333.0h2.2v.8h-2.2zM321.8 323.4h4.6v.8h-4.6zM354.5 342.4h2.5v.8h-2.5zM361.2 334.3h1.6v.8h-1.6zM314.7 372.9h3.9v.8h-3.9zM367.9 341.3h3.7v.8h-3.7zM300.5 358.2h4.4v.8h-4.4zM360.2 348.9h3.9v.8h-3.9zM376.7 339.5h1.9v.8h-1.9zM362.0 359.3h4.8v.8h-4.8zM300.9 353.4h4.7v.8h-4.7zM302.7 362.0h3.8v.8h-3.8zM381.0 350.4h3.9v.8h-3.9zM377.3 323.1h1.5v.8h-1.5zM369.5 318.7h1.9v.8h-1.9zM309.3 380.0h4.6v.8h-4.6zM345.9 366.3h2.5v.8h-2.5zM310.0 356.5h2.5v.8h-2.5zM303.5 365.8h1.5v.8h-1.5zM364.3 320.6h2.5v.8h-2.5zM334.4 367.4h3.7v.8h-3.7zM306.3 331.6h3.4v.8h-3.4zM394.3 341.7h4.3v.8h-4.3zM380.4 368.6h2.4v.8h-2.4zM312.8 371.5h2.3v.8h-2.3zM347.7 340.3h3.6v.8h-3.6zM393.0 323.6h1.8v.8h-1.8zM375.8 324.0h3.5v.8h-3.5zM325.2 377.5h3.7v.8h-3.7zM380.2 334.8h2.2v.8h-2.2zM365.4 320.6h1.7v.8h-1.7zM397.3 376.2h1.8v.8h-1.8zM339.8 311.8h1.7v.8h-1.7zM358.1 371.8h4.9v.8h-4.9zM388.8 338.0h1.6v.8h-1.6zM364.8 345.9h1.9v.8h-1.9zM322.2 318.8h4.8v.8h-4.8zM330.5 387.0h3.5v.8h-3.5zM370.5 370.2h2.3v.8h-2.3zM383.1 383.0h1.8v.8h-1.8zM329.8 327.2h3.6v.8h-3.6zM376.9 378.1h3.2v.8h-3.2zM395.3 359.2h4.0v.8h-4.0zM342.8 357.1h3.6v.8h-3.6zM378.5 348.2h2.6v.8h-2.6zM326.1 334.9h2.4v.8h-2.4zM354.0 387.9h5.0v.8h-5.0zM324.7 339.4h3.5v.8h-3.5zM332.3 311.0h2.2v.8h-2.2zM385.3 343.1h1.7v.8h-1.7zM358.0 325.4h4.6v.8h-4.6zM371.5 307.2h2.6v.8h-2.6zM307.5 329.8h4.3v.8h-4.3zM381.5 379.5h3.1v.8h-3.1zM355.9 353.2h2.4v.8h-2.4zM393.9 319.5h4.8v.8h-4.8zM319.4 370.5h3.2v.8h-3.2zM303.2 371.2h3.5v.8h-3.5zM309.2 388.9h4.5v.8h-4.5zM361.3 312.3h4.6v.8h-4.6zM302.5 385.3h4.2v.8h-4.2zM377.6 381.7h3.8v.8h-3.8zM336.3 341.2h2.9v.8h-2.9zM349.8 362.5h3.7v.8h-3.7zM347.2 368.8h1.6v.8h-1.6zM389.1 325.9h2.6v.8h-2.6zM371.4 346.4h2.7v.8h-2.7zM307.5 365.0h3.1v.8h-3.1zM329.6 339.1h3.5v.8h-3.5zM395.5 358.0h2.6v.8h-2.6zM310.7 328.9h2.1v.8h-2.1zM317.6 367.9h2.8v.8h-2.8zM330.3 318.7h4.1v.8h-4.1zM388.0 363.8h2.4v.8h-2.4zM343.9 314.7h2.5v.8h-2.5zM311.0 346.7h3.9v.8h-3.9zM350.7 368.5h4.5v.8h-4.5zM376.6 340.8h3.7v.8h-3.7zM358.8 363.4h4.2v.8h-4.2zM382.2 343.5h4.3v.8h-4.3zM343.5 376.1h3.1v.8h-3.1zM383.6 315.9h4.8v.8h-4.8zM303.8 388.1h4.1v.8h-4.1zM308.1 329.9h2.4v.8h-2.4zM341.7 324.3h2.1v.8h-2.1zM350.5 366.1h2.7v.8h-2.7zM304.4 309.2h1.6v.8h-1.6zM396.2 363.7h2.3v.8h-2.3zM387.9 306.1h4.8v.8h-4.8zM300.8 321.6h1.7v.8h-1.7zM375.6 323.4h2.9v.8h-2.9zM335.9 354.1h4.4v.8h-4.4zM357.3 316.2h1.7v.8h-1.7zM366.4 342.3h3.2v.8h-3.2zM309.8 325.8h4.7v.8h-4.7zM394.8 333.0h3.0v.8h-3.0zM387.8 371.6h2.6v.8h-2.6zM369.2 329.5h2.0v.8h-2.0zM389.7 336.5h4.9v.8h-4.9zM385.8 350.4h4.7v.8h-4.7zM340.1 347.1h2.1v.8h-2.1zM299.2 340.8h2.0v.8h-2.0zM335.6 345.8h2.7v.8h-2.7zM374.1 371.1h3.2v.8h-3.2zM352.3 387.8h3.3v.8h-3.3zM343.9 365.5h1.6v.8h-1.6zM325.2 321.8h3.3v.8h-3.3zM300.5 369.5h4.2v.8h-4.2zM344.6 381.8h3.2v.8h-3.2zM336.3 313.5h2.9v.8h-2.9zM333.8 365.2h4.4v.8h-4.4zM309.1 348.5h3.4v.8h-3.4zM337.6 342.8h4.9v.8h-4.9zM337.9 339.3h3.5v.8h-3.5zM388.4 356.6h4.9v.8h-4.9zM334.6 371.0h4.4v.8h-4.4zM390.1 388.6h3.4v.8h-3.4zM325.7 349.8h3.8v.8h-3.8zM308.4 364.2h4.1v.8h-4.1zM324.7 330.4h3.9v.8h-3.9zM298.8 381.3h4.1v.8h-4.1zM350.1 351.1h2.6v.8h-2.6zM379.7 325.1h3.9v.8h-3.9zM298.9 308.0h4.7v.8h-4.7zM298.8 311.8h4.1v.8h-4.1zM351.8 316.7h4.5v.8h-4.5zM309.2 342.9h3.8v.8h-3.8zM379.5 362.5h3.3v.8h-3.3zM310.6 325.2h3.4v.8h-3.4zM349.2 329.9h4.9v.8h-4.9zM374.1 382.8h2.3v.8h-2.3zM392.7 384.9h3.4v.8h-3.4zM392.1 386.6h4.8v.8h-4.8zM322.2 322.6h1.7v.8h-1.7zM387.4 316.6h3.3v.8h-3.3zM300.1 370.3h4.5v.8h-4.5zM390.0 327.2h2.2v.8h-2.2zM368.5 349.8h1.9v.8h-1.9zM359.8 337.7h4.0v.8h-4.0zM370.8 336.1h2.2v.8h-2.2zM302.1 382.6h1.5v.8h-1.5zM359.9 361.8h4.8v.8h-4.8zM363.9 387.8h4.9v.8h-4.9zM362.3 346.9h1.8v.8h-1.8zM332.4 310.8h3.5v.8h-3.5zM336.6 382.2h4.6v.8h-4.6zM352.2 316.7h3.3v.8h-3.3zM377.6 378.2h2.4v.8h-2.4zM300.3 364.6h2.6v.8h-2.6zM302.8 328.9h3.2v.8h-3.2zM316.6 367.7h3.9v.8h-3.9zM351.8 339.4h2.8v.8h-2.8zM347.7 331.4h4.0v.8h-4.0zM324.3 342.7h3.3v.8h-3.3zM342.3 313.1h4.3v.8h-4.3zM325.9 328.6h4.3v.8h-4.3zM384.1 357.3h4.5v.8h-4.5zM303.6 312.0h4.7v.8h-4.7zM370.0 328.6h4.9v.8h-4.9zM374.0 376.9h2.8v.8h-2.8zM379.0 309.6h2.9v.8h-2.9zM394.8 388.2h1.9v.8h-1.9zM325.2 329.1h4.5v.8h-4.5zM346.8 387.1h4.3v.8h-4.3zM313.2 341.9h2.2v.8h-2.2zM315.5 328.2h3.5v.8h-3.5zM396.5 373.9h2.8v.8h-2.8zM338.2 340.0h2.5v.8h-2.5zM368.2 338.7h2.9v.8h-2.9zM325.2 324.0h4.9v.8h-4.9zM300.6 387.4h3.9v.8h-3.9zM358.3 362.7h4.1v.8h-4.1zM322.5 310.2h4.9v.8h-4.9zM356.2 369.6h4.6v.8h-4.6zM321.9 309.6h4.6v.8h-4.6zM367.5 344.1h1.9v.8h-1.9zM377.4 306.6h4.2v.8h-4.2zM392.6 336.2h2.6v.8h-2.6zM379.0 313.0h2.4v.8h-2.4zM383.7 329.0h3.7v.8h-3.7zM357.6 363.1h2.3v.8h-2.3zM329.6 336.5h4.8v.8h-4.8zM312.4 362.0h4.2v.8h-4.2zM396.1 316.7h1.9v.8h-1.9zM355.4 372.6h3.7v.8h-3.7zM369.2 342.3h4.6v.8h-4.6zM348.4 359.0h1.6v.8h-1.6zM362.3 314.9h2.1v.8h-2.1zM392.3 325.3h4.7v.8h-4.7zM388.1 317.1h3.7v.8h-3.7zM301.8 312.2h3.9v.8h-3.9zM299.0 361.4h4.7v.8h-4.7zM322.3 385.0h3.8v.8h-3.8zM301.0 327.4h2.5v.8h-2.5zM320.3 342.2h1.9v.8h-1.9zM362.5 367.3h2.9v.8h-2.9zM307.0 357.7h2.7v.8h-2.7zM326.8 366.5h4.0v.8h-4.0zM306.9 367.2h4.7v.8h-4.7zM360.3 330.8h2.4v.8h-2.4zM337.5 342.8h3.5v.8h-3.5zM389.8 314.7h3.5v.8h-3.5zM361.2 354.1h3.8v.8h-3.8zM389.9 343.7h1.5v.8h-1.5zM351.4 341.1h1.8v.8h-1.8zM380.7 339.3h1.5v.8h-1.5zM358.1 348.9h2.5v.8h-2.5zM364.7 332.3h4.7v.8h-4.7zM321.3 341.0h3.3v.8h-3.3zM338.0 353.8h3.7v.8h-3.7zM379.3 335.1h4.2v.8h-4.2zM336.4 341.6h1.6v.8h-1.6zM340.3 366.3h4.4v.8h-4.4zM349.7 381.8h3.6v.8h-3.6zM346.8 344.7h3.8v.8h-3.8zM331.5 322.9h4.3v.8h-4.3zM312.9 374.8h3.8v.8h-3.8zM387.4 367.0h2.4v.8h-2.4zM361.7 350.7h3.8v.8h-3.8zM370.2 343.9h3.3v.8h-3.3zM326.4 328.9h1.6v.8h-1.6zM340.8 367.3h4.4v.8h-4.4zM364.5 333.3h1.7v.8h-1.7zM380.3 384.5h3.8v.8h-3.8zM380.9 307.5h4.5v.8h-4.5zM358.5 337.2h4.0v.8h-4.0zM301.1 383.9h1.6v.8h-1.6zM378.3 311.3h4.9v.8h-4.9zM393.2 346.5h4.2v.8h-4.2zM339.5 322.6h3.9v.8h-3.9zM346.4 361.3h3.2v.8h-3.2zM390.9 338.0h2.3v.8h-2.3zM378.2 364.3h3.3v.8h-3.3zM302.2 324.4h2.3v.8h-2.3zM395.0 384.1h2.2v.8h-2.2zM337.0 327.9h2.0v.8h-2.0zM386.3 323.6h4.2v.8h-4.2zM345.1 346.6h4.4v.8h-4.4zM340.3 320.1h2.7v.8h-2.7zM387.8 320.1h2.2v.8h-2.2zM320.4 314.5h4.0v.8h-4.0zM314.0 335.6h2.4v.8h-2.4zM335.5 326.2h4.9v.8h-4.9zM329.7 385.0h3.0v.8h-3.0zM377.2 364.0h1.5v.8h-1.5zM321.1 311.8h4.7v.8h-4.7zM349.4 375.3h2.4v.8h-2.4zM383.4 312.5h3.3v.8h-3.3zM367.5 369.1h2.8v.8h-2.8zM329.5 367.7h4.8v.8h-4.8zM330.9 306.6h2.2v.8h-2.2zM353.7 334.1h2.9v.8h-2.9zM315.5 326.7h3.6v.8h-3.6zM343.1 324.8h1.5v.8h-1.5zM340.2 354.2h2.4v.8h-2.4zM370.1 360.0h2.0v.8h-2.0zM339.8 333.8h3.5v.8h-3.5zM395.8 332.8h1.6v.8h-1.6zM353.2 381.5h1.8v.8h-1.8zM300.2 339.1h4.6v.8h-4.6zM367.2 332.9h4.7v.8h-4.7zM338.5 308.0h2.7v.8h-2.7zM304.6 309.2h2.6v.8h-2.6zM341.9 341.0h4.8v.8h-4.8zM349.6 366.6h1.6v.8h-1.6zM388.6 330.8h4.0v.8h-4.0zM310.5 351.3h2.0v.8h-2.0zM381.6 339.4h4.9v.8h-4.9zM380.9 325.6h2.4v.8h-2.4zM375.2 331.3h2.3v.8h-2.3zM300.9 376.1h3.9v.8h-3.9zM323.7 388.2h2.2v.8h-2.2zM324.4 336.0h2.1v.8h-2.1zM299.9 324.3h4.6v.8h-4.6zM317.1 343.5h4.3v.8h-4.3zM304.2 351.4h4.3v.8h-4.3zM308.2 375.6h3.8v.8h-3.8zM335.1 382.5h3.7v.8h-3.7zM388.7 374.9h2.5v.8h-2.5zM313.7 308.5h1.9v.8h-1.9zM307.0 369.7h2.2v.8h-2.2zM363.5 306.6h2.0v.8h-2.0zM308.1 319.2h3.2v.8h-3.2zM347.0 322.6h4.8v.8h-4.8zM381.6 316.4h3.7v.8h-3.7zM335.7 364.6h2.2v.8h-2.2zM327.6 319.1h3.5v.8h-3.5zM340.1 338.2h4.5v.8h-4.5zM388.2 313.2h1.8v.8h-1.8zM357.4 332.2h2.0v.8h-2.0zM360.5 368.2h2.7v.8h-2.7zM377.1 316.5h4.5v.8h-4.5zM358.9 352.8h4.0v.8h-4.0zM355.2 335.8h2.3v.8h-2.3zM357.6 355.9h4.4v.8h-4.4zM328.1 345.9h2.2v.8h-2.2zM350.8 365.5h2.5v.8h-2.5zM316.1 373.8h2.6v.8h-2.6zM332.9 354.9h4.4v.8h-4.4zM382.8 359.1h4.5v.8h-4.5zM307.1 330.7h4.3v.8h-4.3zM334.5 330.5h5.0v.8h-5.0zM333.9 329.5h1.7v.8h-1.7zM345.6 320.6h4.9v.8h-4.9zM387.1 346.0h3.2v.8h-3.2zM321.9 383.3h1.5v.8h-1.5zM299.7 314.0h2.4v.8h-2.4zM320.7 375.7h2.2v.8h-2.2zM366.0 358.2h4.0v.8h-4.0zM299.6 382.1h3.2v.8h-3.2zM307.4 369.1h3.8v.8h-3.8zM333.2 366.4h3.1v.8h-3.1zM351.1 343.4h4.3v.8h-4.3zM380.8 334.9h4.7v.8h-4.7zM380.8 363.6h3.9v.8h-3.9zM341.8 354.0h4.3v.8h-4.3zM372.3 341.9h1.6v.8h-1.6zM352.7 331.8h2.7v.8h-2.7zM333.8 343.7h3.3v.8h-3.3zM378.9 367.2h2.9v.8h-2.9zM387.4 328.2h3.7v.8h-3.7zM368.7 340.0h4.0v.8h-4.0zM390.4 365.2h3.0v.8h-3.0zM309.7 364.6h3.6v.8h-3.6zM351.8 308.5h1.6v.8h-1.6zM309.8 310.3h5.0v.8h-5.0zM341.3 379.8h2.9v.8h-2.9zM382.6 307.9h2.2v.8h-2.2zM372.3 352.1h2.5v.8h-2.5zM307.0 378.0h3.4v.8h-3.4zM352.8 349.1h4.4v.8h-4.4zM313.3 328.9h2.7v.8h-2.7zM350.1 321.2h2.6v.8h-2.6zM307.0 368.3h1.5v.8h-1.5zM309.3 315.5h4.5v.8h-4.5zM313.0 336.8h3.5v.8h-3.5zM367.2 342.5h3.2v.8h-3.2zM308.5 309.8h4.9v.8h-4.9zM350.1 367.9h2.0v.8h-2.0zM361.9 369.1h3.4v.8h-3.4zM392.6 387.4h2.0v.8h-2.0zM323.3 342.2h2.0v.8h-2.0zM349.4 327.2h1.9v.8h-1.9zM315.8 308.0h2.5v.8h-2.5zM339.6 357.2h1.7v.8h-1.7zM383.2 371.5h4.0v.8h-4.0zM343.2 313.6h2.1v.8h-2.1zM330.7 358.7h5.0v.8h-5.0zM320.3 377.3h4.7v.8h-4.7zM378.3 329.1h3.9v.8h-3.9zM375.9 373.3h4.3v.8h-4.3zM396.3 370.7h3.0v.8h-3.0zM324.5 314.6h2.8v.8h-2.8zM379.1 315.4h4.7v.8h-4.7zM378.2 315.7h4.3v.8h-4.3zM362.8 325.9h3.2v.8h-3.2zM356.2 335.1h3.2v.8h-3.2zM305.6 333.3h4.2v.8h-4.2zM367.5 382.9h3.0v.8h-3.0zM354.1 333.2h4.7v.8h-4.7zM374.0 358.2h2.5v.8h-2.5zM366.2 378.6h3.2v.8h-3.2zM304.7 334.4h2.7v.8h-2.7zM300.2 316.6h2.6v.8h-2.6zM367.6 387.9h4.9v.8h-4.9zM352.2 381.5h3.6v.8h-3.6zM322.6 356.5h2.9v.8h-2.9zM390.3 332.1h1.6v.8h-1.6zM308.9 359.0h3.5v.8h-3.5zM345.5 374.6h4.1v.8h-4.1zM370.1 329.0h3.8v.8h-3.8zM371.0 311.6h1.6v.8h-1.6zM343.6 359.8h2.4v.8h-2.4zM326.4 326.1h3.5v.8h-3.5zM389.3 309.3h3.1v.8h-3.1zM329.0 344.6h1.7v.8h-1.7zM373.9 363.5h3.5v.8h-3.5zM303.2 313.4h2.5v.8h-2.5zM304.3 326.4h3.6v.8h-3.6zM392.1 310.7h2.0v.8h-2.0zM341.7 367.4h2.0v.8h-2.0zM341.5 313.8h4.9v.8h-4.9zM344.2 347.0h2.0v.8h-2.0zM321.3 351.2h2.2v.8h-2.2zM315.8 307.5h2.0v.8h-2.0zM356.3 336.7h2.5v.8h-2.5zM335.5 311.9h2.5v.8h-2.5zM374.9 350.3h4.4v.8h-4.4zM318.0 386.8h4.9v.8h-4.9zM313.0 332.0h4.6v.8h-4.6zM320.5 352.1h4.0v.8h-4.0zM305.2 346.1h4.6v.8h-4.6zM358.5 379.8h4.4v.8h-4.4zM346.2 314.1h4.3v.8h-4.3zM389.9 367.4h4.3v.8h-4.3zM371.0 339.1h2.5v.8h-2.5zM313.7 354.2h4.1v.8h-4.1zM386.8 357.7h4.2v.8h-4.2zM334.9 319.5h3.1v.8h-3.1zM338.4 330.8h3.6v.8h-3.6zM349.9 320.8h4.7v.8h-4.7zM372.7 358.8h1.7v.8h-1.7zM358.1 386.8h1.9v.8h-1.9zM395.8 314.3h3.3v.8h-3.3zM315.6 379.4h2.9v.8h-2.9zM386.9 342.3h1.8v.8h-1.8zM353.3 316.3h2.7v.8h-2.7zM329.6 316.4h2.6v.8h-2.6zM377.6 333.6h4.9v.8h-4.9zM394.2 307.6h3.8v.8h-3.8zM373.8 323.1h2.2v.8h-2.2zM320.0 371.3h1.8v.8h-1.8zM357.9 358.1h1.6v.8h-1.6zM366.4 364.1h3.0v.8h-3.0zM339.7 363.7h2.8v.8h-2.8zM344.2 388.5h4.3v.8h-4.3zM344.9 348.0h1.5v.8h-1.5zM336.4 320.7h2.1v.8h-2.1zM342.7 378.0h4.7v.8h-4.7zM322.3 315.5h1.6v.8h-1.6zM346.8 376.6h4.9v.8h-4.9zM376.5 387.6h3.9v.8h-3.9zM339.0 327.3h3.4v.8h-3.4zM393.7 331.9h2.1v.8h-2.1zM395.2 359.8h4.1v.8h-4.1zM357.2 384.2h1.5v.8h-1.5zM344.3 379.4h3.5v.8h-3.5zM338.0 378.1h2.5v.8h-2.5zM379.5 367.8h4.2v.8h-4.2zM377.1 315.0h2.4v.8h-2.4zM331.8 385.3h4.5v.8h-4.5zM365.6 309.6h2.9v.8h-2.9zM326.4 360.8h4.6v.8h-4.6zM328.8 348.0h2.5v.8h-2.5zM300.5 354.0h1.7v.8h-1.7zM394.9 333.1h4.0v.8h-4.0zM359.6 365.4h2.9v.8h-2.9zM300.8 326.4h3.5v.8h-3.5zM363.8 328.1h4.1v.8h-4.1zM356.1 364.0h4.7v.8h-4.7zM344.5 385.8h1.6v.8h-1.6zM328.4 311.1h3.8v.8h-3.8zM303.9 341.6h1.6v.8h-1.6zM383.7 356.3h4.1v.8h-4.1zM340.7 318.9h2.4v.8h-2.4zM362.6 373.8h3.5v.8h-3.5zM332.8 338.5h4.3v.8h-4.3zM390.2 359.7h1.8v.8h-1.8zM334.9 348.2h2.6v.8h-2.6zM342.3 333.6h1.7v.8h-1.7zM333.4 381.6h1.8v.8h-1.8zM374.5 321.3h3.8v.8h-3.8zM309.4 342.6h2.8v.8h-2.8zM360.2 312.9h3.8v.8h-3.8zM366.6 325.6h1.7v.8h-1.7zM391.3 344.7h2.6v.8h-2.6zM375.9 322.1h4.9v.8h-4.9zM371.0 308.6h1.5v.8h-1.5zM339.7 314.3h3.1v.8h-3.1zM381.3 342.4h3.5v.8h-3.5zM298.3 338.5h4.5v.8h-4.5zM363.5 313.5h2.7v.8h-2.7zM332.9 313.8h3.6v.8h-3.6zM383.8 372.6h4.8v.8h-4.8zM301.5 365.3h3.5v.8h-3.5zM328.5 307.2h1.6v.8h-1.6zM318.8 348.8h2.6v.8h-2.6zM308.7 372.0h3.9v.8h-3.9zM324.1 305.2h3.6v.8h-3.6zM366.6 370.4h4.3v.8h-4.3zM338.2 382.9h2.0v.8h-2.0zM363.2 318.8h4.6v.8h-4.6zM313.3 381.3h4.2v.8h-4.2zM311.4 362.5h4.2v.8h-4.2zM371.5 354.2h1.6v.8h-1.6zM383.1 326.4h2.2v.8h-2.2zM369.5 335.2h1.9v.8h-1.9zM310.9 382.2h2.0v.8h-2.0zM319.1 365.6h3.8v.8h-3.8zM305.0 358.7h3.2v.8h-3.2zM341.0 358.9h2.2v.8h-2.2zM322.0 351.9h3.3v.8h-3.3zM362.5 311.8h2.2v.8h-2.2zM379.3 357.4h3.2v.8h-3.2zM388.6 344.2h2.4v.8h-2.4zM339.0 318.9h3.1v.8h-3.1zM375.8 315.0h2.7v.8h-2.7zM341.1 328.2h2.2v.8h-2.2zM362.7 323.8h1.8v.8h-1.8zM393.2 364.9h4.6v.8h-4.6zM303.1 329.6h3.5v.8h-3.5zM375.7 308.2h4.3v.8h-4.3zM354.5 387.5h3.2v.8h-3.2zM300.0 335.2h4.2v.8h-4.2zM341.4 349.6h3.4v.8h-3.4zM350.1 312.9h2.2v.8h-2.2zM384.3 357.6h2.8v.8h-2.8zM309.4 374.5h1.8v.8h-1.8zM316.6 360.3h2.6v.8h-2.6zM325.6 329.7h2.5v.8h-2.5zM394.3 373.3h5.0v.8h-5.0zM340.6 310.2h3.0v.8h-3.0zM337.5 352.8h3.7v.8h-3.7zM384.3 344.1h1.7v.8h-1.7zM358.8 376.7h2.0v.8h-2.0zM351.7 367.1h2.1v.8h-2.1zM344.0 344.6h2.7v.8h-2.7zM311.1 322.6h3.4v.8h-3.4zM313.2 312.0h4.9v.8h-4.9zM368.3 322.3h4.5v.8h-4.5zM380.3 380.8h4.7v.8h-4.7zM349.8 323.8h3.2v.8h-3.2zM337.3 355.7h2.7v.8h-2.7zM368.7 355.0h2.2v.8h-2.2zM320.6 313.8h1.7v.8h-1.7zM359.9 384.9h1.9v.8h-1.9zM346.8 354.5h2.4v.8h-2.4zM393.7 311.8h4.5v.8h-4.5zM366.9 386.7h3.0v.8h-3.0zM386.2 317.9h3.1v.8h-3.1zM383.7 334.6h3.1v.8h-3.1zM354.7 358.0h4.5v.8h-4.5zM346.9 339.6h2.6v.8h-2.6zM301.5 376.9h1.7v.8h-1.7zM355.7 308.1h4.0v.8h-4.0zM329.3 325.2h2.5v.8h-2.5zM337.3 377.0h4.5v.8h-4.5zM319.1 326.8h4.4v.8h-4.4zM361.2 311.3h3.1v.8h-3.1zM299.9 327.5h2.1v.8h-2.1zM320.6 313.7h2.9v.8h-2.9zM316.7 382.8h3.4v.8h-3.4zM373.8 317.1h2.0v.8h-2.0zM342.7 355.6h3.7v.8h-3.7zM300.1 310.8h3.2v.8h-3.2zM356.3 348.5h4.1v.8h-4.1zM339.5 313.9h4.3v.8h-4.3zM351.5 312.7h3.3v.8h-3.3zM352.9 316.1h2.8v.8h-2.8zM387.8 358.3h4.4v.8h-4.4zM363.6 361.0h4.4v.8h-4.4zM374.4 348.4h3.5v.8h-3.5zM356.3 315.4h2.4v.8h-2.4zM304.4 317.5h3.4v.8h-3.4zM313.2 327.8h2.8v.8h-2.8zM309.1 362.6h4.8v.8h-4.8zM339.0 332.1h1.9v.8h-1.9zM333.4 380.0h4.5v.8h-4.5zM381.2 366.6h1.6v.8h-1.6zM340.3 333.4h2.5v.8h-2.5zM387.1 364.0h4.2v.8h-4.2zM312.0 350.0h4.5v.8h-4.5zM338.6 353.2h1.6v.8h-1.6zM360.0 342.0h3.5v.8h-3.5zM364.8 355.7h3.0v.8h-3.0zM374.2 307.0h1.6v.8h-1.6zM314.8 318.8h2.9v.8h-2.9zM340.3 319.6h4.7v.8h-4.7zM362.3 319.3h4.6v.8h-4.6zM356.3 378.6h2.3v.8h-2.3zM365.9 332.5h4.0v.8h-4.0zM391.9 386.8h3.5v.8h-3.5zM310.2 370.5h4.8v.8h-4.8zM339.6 332.6h3.1v.8h-3.1zM319.1 333.0h2.7v.8h-2.7zM352.0 348.0h3.6v.8h-3.6zM350.7 374.7h1.6v.8h-1.6zM390.5 309.2h4.3v.8h-4.3zM363.5 370.6h3.5v.8h-3.5zM318.3 341.2h4.4v.8h-4.4zM338.3 315.5h2.8v.8h-2.8zM354.5 309.9h2.3v.8h-2.3zM341.6 311.1h2.6v.8h-2.6zM300.9 320.5h4.2v.8h-4.2zM302.8 349.3h2.3v.8h-2.3zM363.1 323.9h3.7v.8h-3.7zM375.6 345.2h2.4v.8h-2.4zM302.9 366.7h3.8v.8h-3.8zM323.3 311.4h1.6v.8h-1.6zM387.4 364.0h2.8v.8h-2.8z" fill="#fdfafa" opacity="0.45"/>
<path d="M362.8 316.0h4.6v.7h-4.6zM334.6 304.2h2.0v.7h-2.0zM372.4 303.8h3.4v.7h-3.4zM358.8 307.4h3.3v.7h-3.3zM364.9 303.8h2.0v.7h-2.0zM313.1 309.3h3.3v.7h-3.3zM322.5 362.5h1.9v.7h-1.9zM314.4 377.8h3.4v.7h-3.4zM388.2 355.3h2.5v.7h-2.5zM359.6 372.2h3.8v.7h-3.8zM310.3 304.2h3.4v.7h-3.4zM331.5 324.7h1.4v.7h-1.4zM310.2 304.0h3.3v.7h-3.3zM392.4 342.0h4.3v.7h-4.3zM348.1 328.3h3.0v.7h-3.0zM305.2 305.5h3.8v.7h-3.8zM394.0 352.4h2.1v.7h-2.1zM359.1 304.0h2.4v.7h-2.4zM304.4 366.6h1.6v.7h-1.6zM332.5 378.3h2.4v.7h-2.4zM315.1 316.9h2.8v.7h-2.8zM314.0 342.8h1.6v.7h-1.6zM303.7 310.9h2.1v.7h-2.1zM386.8 311.9h4.6v.7h-4.6zM338.9 318.7h4.2v.7h-4.2zM344.1 306.7h4.5v.7h-4.5zM383.9 337.6h4.9v.7h-4.9zM342.0 349.4h1.2v.7h-1.2zM306.1 331.6h3.9v.7h-3.9zM305.0 319.2h1.6v.7h-1.6zM312.4 322.1h3.4v.7h-3.4zM384.3 304.4h3.8v.7h-3.8zM324.8 353.0h2.9v.7h-2.9zM341.2 304.0h5.0v.7h-5.0zM345.4 318.3h2.2v.7h-2.2zM346.1 304.9h2.8v.7h-2.8zM328.6 306.9h3.9v.7h-3.9zM300.0 324.0h1.1v.7h-1.1zM352.4 312.6h4.5v.7h-4.5zM370.4 315.3h1.5v.7h-1.5zM350.9 306.8h2.9v.7h-2.9zM393.8 321.5h2.9v.7h-2.9zM303.2 307.3h1.5v.7h-1.5zM320.9 326.2h3.0v.7h-3.0zM353.2 304.4h1.5v.7h-1.5zM381.3 309.1h1.0v.7h-1.0zM343.4 310.0h2.1v.7h-2.1zM363.7 343.9h4.1v.7h-4.1zM381.8 335.3h4.1v.7h-4.1zM380.1 303.8h2.4v.7h-2.4zM365.2 368.1h3.8v.7h-3.8zM346.3 303.9h4.1v.7h-4.1zM326.6 316.0h2.4v.7h-2.4zM378.8 327.6h4.6v.7h-4.6zM376.3 347.4h3.1v.7h-3.1zM350.0 304.7h1.5v.7h-1.5zM395.0 305.2h2.4v.7h-2.4zM395.2 303.8h2.9v.7h-2.9zM394.9 371.3h1.2v.7h-1.2zM317.7 365.0h3.3v.7h-3.3zM303.6 315.9h1.4v.7h-1.4zM360.2 305.4h4.6v.7h-4.6zM385.6 360.4h2.9v.7h-2.9zM362.5 310.4h1.6v.7h-1.6zM386.4 346.6h4.3v.7h-4.3zM346.7 351.7h1.4v.7h-1.4zM356.0 306.3h2.5v.7h-2.5zM394.8 313.1h2.2v.7h-2.2zM305.0 346.6h2.8v.7h-2.8zM379.8 353.8h1.5v.7h-1.5zM385.1 304.0h2.1v.7h-2.1zM365.4 303.8h3.0v.7h-3.0zM395.0 306.9h1.1v.7h-1.1zM378.2 348.4h1.7v.7h-1.7zM312.7 314.0h3.3v.7h-3.3zM342.3 304.5h1.2v.7h-1.2zM305.0 325.3h4.4v.7h-4.4zM299.5 312.6h3.0v.7h-3.0zM351.8 305.0h3.5v.7h-3.5zM320.7 304.4h1.2v.7h-1.2zM324.8 305.9h2.9v.7h-2.9zM395.1 338.3h2.3v.7h-2.3zM354.0 321.8h4.5v.7h-4.5zM393.4 304.0h1.1v.7h-1.1zM390.0 340.7h1.9v.7h-1.9zM327.1 317.7h4.1v.7h-4.1zM334.6 348.0h3.6v.7h-3.6zM317.6 313.1h2.7v.7h-2.7zM354.6 304.0h2.4v.7h-2.4zM300.9 303.8h2.1v.7h-2.1zM349.5 340.1h1.5v.7h-1.5zM330.3 311.4h4.4v.7h-4.4zM366.7 350.3h2.8v.7h-2.8zM322.8 304.5h2.2v.7h-2.2zM305.3 364.4h3.0v.7h-3.0zM307.9 305.4h2.6v.7h-2.6zM332.8 303.8h4.9v.7h-4.9zM339.6 377.8h3.5v.7h-3.5zM377.8 355.6h2.9v.7h-2.9zM340.1 304.7h1.5v.7h-1.5zM359.5 306.5h2.3v.7h-2.3zM329.7 359.3h4.6v.7h-4.6zM334.2 317.3h1.9v.7h-1.9zM368.0 327.2h1.1v.7h-1.1zM387.2 310.5h1.7v.7h-1.7zM324.4 367.2h3.5v.7h-3.5zM327.0 323.3h4.2v.7h-4.2zM343.6 335.0h1.7v.7h-1.7zM393.9 367.9h1.3v.7h-1.3zM327.2 363.5h2.2v.7h-2.2zM391.0 308.7h1.4v.7h-1.4zM384.7 308.8h4.7v.7h-4.7zM371.2 337.3h4.5v.7h-4.5zM327.9 309.1h3.6v.7h-3.6zM313.0 305.0h1.3v.7h-1.3zM330.5 307.1h4.8v.7h-4.8zM315.2 326.4h2.2v.7h-2.2zM353.3 307.7h3.1v.7h-3.1zM306.4 316.2h3.9v.7h-3.9zM388.7 316.4h3.7v.7h-3.7zM371.5 304.9h4.1v.7h-4.1zM374.1 331.4h3.1v.7h-3.1zM384.9 382.2h4.2v.7h-4.2zM385.3 309.8h1.3v.7h-1.3zM380.1 340.1h4.3v.7h-4.3zM317.7 359.9h2.2v.7h-2.2zM358.2 304.3h2.9v.7h-2.9zM347.3 312.1h4.6v.7h-4.6zM314.2 331.2h4.4v.7h-4.4zM386.5 305.8h1.8v.7h-1.8zM300.0 323.2h1.2v.7h-1.2zM306.7 365.7h1.3v.7h-1.3zM389.3 308.9h1.2v.7h-1.2zM322.8 349.0h3.3v.7h-3.3zM303.8 316.5h3.1v.7h-3.1zM333.6 304.2h1.4v.7h-1.4zM386.9 347.8h3.8v.7h-3.8zM375.9 325.5h3.7v.7h-3.7zM380.2 340.0h2.0v.7h-2.0zM374.9 341.5h2.1v.7h-2.1zM342.7 317.1h4.5v.7h-4.5zM367.6 348.9h2.2v.7h-2.2zM393.3 359.9h3.5v.7h-3.5zM374.1 358.8h3.4v.7h-3.4zM340.7 320.3h1.4v.7h-1.4zM318.6 322.6h3.6v.7h-3.6zM394.9 315.9h4.4v.7h-4.4zM369.1 330.7h4.7v.7h-4.7zM377.7 307.2h4.7v.7h-4.7zM325.9 304.8h2.5v.7h-2.5zM342.6 368.2h2.2v.7h-2.2zM371.8 355.6h1.6v.7h-1.6zM383.6 311.1h2.2v.7h-2.2zM313.8 338.9h1.0v.7h-1.0zM376.6 351.0h1.3v.7h-1.3zM318.3 342.2h2.6v.7h-2.6zM307.3 368.5h4.8v.7h-4.8zM335.4 304.2h1.2v.7h-1.2zM367.6 368.4h1.0v.7h-1.0zM346.6 309.3h2.3v.7h-2.3zM309.5 357.2h3.0v.7h-3.0zM372.0 384.1h2.2v.7h-2.2zM395.1 338.9h4.2v.7h-4.2zM374.5 315.6h2.9v.7h-2.9zM368.4 306.7h2.5v.7h-2.5zM387.5 304.4h2.9v.7h-2.9zM335.5 305.1h4.4v.7h-4.4zM318.9 339.5h2.4v.7h-2.4zM323.5 311.7h1.5v.7h-1.5zM338.9 306.6h2.2v.7h-2.2zM387.2 311.7h1.7v.7h-1.7zM361.9 330.0h4.1v.7h-4.1zM391.2 313.9h3.7v.7h-3.7zM386.9 335.2h3.5v.7h-3.5zM349.6 321.5h3.5v.7h-3.5zM303.8 349.2h5.0v.7h-5.0zM304.0 311.5h3.9v.7h-3.9zM359.4 318.8h4.8v.7h-4.8zM384.8 381.3h4.4v.7h-4.4zM386.6 305.6h2.4v.7h-2.4zM397.2 341.2h1.0v.7h-1.0zM315.1 336.3h2.5v.7h-2.5zM358.0 331.0h3.0v.7h-3.0zM391.3 304.3h3.1v.7h-3.1zM319.0 324.2h2.1v.7h-2.1zM322.6 347.6h1.9v.7h-1.9zM315.9 314.4h1.9v.7h-1.9zM299.8 333.7h1.1v.7h-1.1zM344.1 309.6h1.6v.7h-1.6zM335.7 303.8h1.1v.7h-1.1zM319.5 309.4h4.2v.7h-4.2zM336.5 310.9h4.7v.7h-4.7zM375.1 306.3h3.0v.7h-3.0zM326.2 333.5h4.0v.7h-4.0zM322.6 328.3h1.0v.7h-1.0zM304.3 313.1h4.0v.7h-4.0zM332.4 305.2h4.2v.7h-4.2zM382.4 304.3h3.7v.7h-3.7zM385.9 387.6h4.8v.7h-4.8zM356.8 304.5h3.3v.7h-3.3zM299.9 344.5h4.8v.7h-4.8zM348.4 311.4h4.9v.7h-4.9zM335.4 375.1h1.6v.7h-1.6zM354.1 318.5h1.2v.7h-1.2zM312.3 306.6h3.3v.7h-3.3zM312.6 305.0h2.5v.7h-2.5zM350.2 324.7h1.6v.7h-1.6zM372.6 363.1h4.1v.7h-4.1zM333.4 305.7h2.6v.7h-2.6zM298.6 308.2h4.5v.7h-4.5zM341.1 306.1h2.4v.7h-2.4zM328.9 312.4h3.8v.7h-3.8zM334.9 373.6h1.0v.7h-1.0zM300.5 311.0h2.2v.7h-2.2zM380.1 305.0h4.7v.7h-4.7zM326.4 334.2h2.2v.7h-2.2zM378.5 304.9h3.3v.7h-3.3zM327.6 334.8h1.5v.7h-1.5zM344.0 303.9h4.1v.7h-4.1zM337.9 353.0h1.4v.7h-1.4zM325.0 304.1h4.5v.7h-4.5zM317.3 309.6h2.4v.7h-2.4zM380.9 319.7h2.4v.7h-2.4zM369.5 310.7h1.7v.7h-1.7zM332.3 304.5h3.1v.7h-3.1zM338.6 367.6h5.0v.7h-5.0zM363.2 309.1h1.9v.7h-1.9zM364.2 349.7h1.5v.7h-1.5zM346.8 335.0h1.9v.7h-1.9zM354.3 319.7h1.2v.7h-1.2zM395.3 320.8h2.5v.7h-2.5zM379.2 379.0h4.1v.7h-4.1zM339.4 316.5h3.2v.7h-3.2zM371.7 331.0h3.6v.7h-3.6zM353.8 359.2h3.2v.7h-3.2zM381.0 313.8h4.9v.7h-4.9zM391.9 310.5h2.3v.7h-2.3zM326.6 356.5h3.7v.7h-3.7zM391.8 304.5h2.7v.7h-2.7zM337.7 315.8h2.3v.7h-2.3zM385.0 304.0h3.4v.7h-3.4zM392.4 352.8h4.7v.7h-4.7zM333.7 359.0h1.6v.7h-1.6zM390.4 359.9h3.1v.7h-3.1zM337.6 312.3h1.3v.7h-1.3zM364.3 304.1h3.3v.7h-3.3zM320.3 314.2h4.3v.7h-4.3zM348.7 307.6h2.3v.7h-2.3zM363.0 305.7h4.8v.7h-4.8zM299.3 316.3h2.0v.7h-2.0zM373.9 304.5h1.3v.7h-1.3zM388.2 349.0h2.5v.7h-2.5zM336.9 305.1h4.8v.7h-4.8zM322.2 322.4h4.9v.7h-4.9zM354.4 314.9h1.0v.7h-1.0zM310.9 309.1h4.5v.7h-4.5zM303.9 337.7h1.3v.7h-1.3zM298.8 305.9h1.3v.7h-1.3zM330.2 327.6h1.1v.7h-1.1zM384.0 386.9h3.7v.7h-3.7zM383.0 306.6h1.9v.7h-1.9zM363.1 317.0h4.4v.7h-4.4zM367.9 307.2h3.9v.7h-3.9zM316.8 386.0h2.0v.7h-2.0zM370.6 306.9h1.9v.7h-1.9zM308.6 314.0h2.9v.7h-2.9zM385.5 349.6h4.5v.7h-4.5zM330.3 342.0h4.3v.7h-4.3zM307.7 375.6h4.9v.7h-4.9zM314.3 336.4h2.1v.7h-2.1zM328.2 303.8h3.6v.7h-3.6zM361.2 336.3h1.7v.7h-1.7zM360.6 331.9h2.2v.7h-2.2zM393.7 310.5h1.2v.7h-1.2zM394.5 305.2h1.0v.7h-1.0zM337.8 303.9h2.1v.7h-2.1zM346.7 334.3h2.6v.7h-2.6zM299.8 303.8h2.9v.7h-2.9zM313.5 315.4h3.3v.7h-3.3zM364.7 382.8h3.1v.7h-3.1zM398.1 304.6h1.1v.7h-1.1zM360.6 343.1h4.2v.7h-4.2zM299.8 306.3h2.7v.7h-2.7zM387.6 326.2h3.1v.7h-3.1zM307.2 306.9h3.4v.7h-3.4zM341.4 368.5h1.2v.7h-1.2zM310.2 386.7h3.1v.7h-3.1zM324.2 325.7h3.2v.7h-3.2zM302.5 305.8h3.5v.7h-3.5zM390.9 307.7h1.9v.7h-1.9zM395.0 304.2h4.3v.7h-4.3zM340.9 319.4h3.8v.7h-3.8zM328.6 376.8h2.3v.7h-2.3zM302.4 319.0h3.6v.7h-3.6zM366.6 311.6h1.5v.7h-1.5zM348.1 310.3h2.8v.7h-2.8zM310.6 364.9h2.0v.7h-2.0zM394.5 337.5h3.5v.7h-3.5zM346.9 303.8h2.3v.7h-2.3zM330.3 360.9h4.4v.7h-4.4zM361.2 316.2h4.7v.7h-4.7zM298.3 316.2h4.0v.7h-4.0zM336.9 312.7h4.0v.7h-4.0zM316.0 315.2h3.5v.7h-3.5zM354.6 347.6h5.0v.7h-5.0zM335.5 320.3h3.6v.7h-3.6zM388.1 304.3h1.3v.7h-1.3zM387.8 355.0h1.3v.7h-1.3zM389.0 310.2h3.1v.7h-3.1zM349.8 308.4h2.6v.7h-2.6zM308.7 303.9h3.6v.7h-3.6zM394.8 345.1h3.5v.7h-3.5zM343.9 307.2h4.6v.7h-4.6zM303.2 320.3h3.6v.7h-3.6zM333.1 307.3h4.0v.7h-4.0zM299.4 344.8h1.2v.7h-1.2zM309.6 303.9h1.9v.7h-1.9zM374.4 305.0h4.5v.7h-4.5zM328.8 303.8h3.3v.7h-3.3zM343.9 321.4h2.0v.7h-2.0zM321.3 347.7h3.8v.7h-3.8zM319.0 349.1h3.8v.7h-3.8zM309.8 373.4h2.7v.7h-2.7zM385.5 333.5h4.6v.7h-4.6zM306.5 365.8h3.5v.7h-3.5zM336.0 371.5h3.9v.7h-3.9zM361.3 303.8h3.8v.7h-3.8zM335.2 311.5h3.8v.7h-3.8zM367.6 355.9h1.8v.7h-1.8zM383.9 313.9h1.2v.7h-1.2zM385.9 305.0h3.3v.7h-3.3zM351.3 303.9h2.2v.7h-2.2zM301.8 321.8h1.2v.7h-1.2zM320.6 373.3h2.6v.7h-2.6zM342.8 303.9h4.7v.7h-4.7zM357.3 307.5h3.3v.7h-3.3zM340.8 336.8h2.6v.7h-2.6zM333.2 307.6h4.1v.7h-4.1zM376.6 338.1h4.7v.7h-4.7zM338.7 354.7h3.4v.7h-3.4zM330.8 303.9h3.9v.7h-3.9zM308.9 315.7h2.8v.7h-2.8zM307.0 371.4h2.5v.7h-2.5zM391.3 370.6h1.3v.7h-1.3zM333.3 326.0h2.9v.7h-2.9zM379.2 309.2h1.7v.7h-1.7zM384.0 307.9h1.7v.7h-1.7zM299.0 303.8h2.5v.7h-2.5zM376.7 304.5h2.0v.7h-2.0zM331.0 375.3h4.6v.7h-4.6zM377.3 306.5h3.5v.7h-3.5zM313.8 351.4h3.1v.7h-3.1zM301.6 307.2h2.9v.7h-2.9zM331.3 307.6h4.9v.7h-4.9zM356.4 382.6h2.3v.7h-2.3zM377.7 305.9h4.1v.7h-4.1zM391.6 308.3h1.1v.7h-1.1zM374.2 343.7h4.8v.7h-4.8zM315.1 382.5h1.7v.7h-1.7zM355.8 303.8h3.3v.7h-3.3zM384.6 310.7h1.3v.7h-1.3zM337.0 326.5h4.3v.7h-4.3zM326.7 342.3h4.8v.7h-4.8zM358.2 313.2h4.3v.7h-4.3zM337.0 310.1h3.0v.7h-3.0zM336.3 309.5h4.1v.7h-4.1zM374.7 339.6h2.5v.7h-2.5zM381.3 345.7h2.5v.7h-2.5zM331.5 320.7h3.5v.7h-3.5zM397.6 304.2h1.7v.7h-1.7zM395.4 305.9h3.9v.7h-3.9zM325.5 316.2h1.2v.7h-1.2zM358.7 337.9h1.6v.7h-1.6zM332.1 321.3h1.2v.7h-1.2zM321.6 305.9h1.4v.7h-1.4zM320.5 304.0h1.6v.7h-1.6zM327.1 323.5h1.9v.7h-1.9zM362.8 308.1h1.4v.7h-1.4zM352.7 304.3h1.7v.7h-1.7zM396.3 329.3h2.3v.7h-2.3zM360.9 322.5h4.2v.7h-4.2zM312.8 369.9h4.4v.7h-4.4zM355.1 314.2h4.9v.7h-4.9zM357.3 305.8h4.5v.7h-4.5zM389.4 304.3h1.2v.7h-1.2zM327.6 304.9h2.5v.7h-2.5zM391.9 383.6h1.8v.7h-1.8zM312.1 322.8h2.1v.7h-2.1zM396.4 354.8h2.9v.7h-2.9zM362.1 303.8h1.9v.7h-1.9zM347.2 322.0h3.6v.7h-3.6zM388.6 307.6h3.2v.7h-3.2zM323.8 303.8h2.6v.7h-2.6zM313.4 380.6h2.4v.7h-2.4zM311.2 305.8h3.5v.7h-3.5zM310.2 303.8h1.6v.7h-1.6zM334.6 308.2h1.5v.7h-1.5zM308.4 320.4h4.0v.7h-4.0zM309.6 307.1h2.6v.7h-2.6zM306.7 364.3h3.5v.7h-3.5zM359.3 307.0h1.0v.7h-1.0zM355.4 317.5h4.1v.7h-4.1zM372.4 304.1h3.9v.7h-3.9zM383.7 304.1h4.0v.7h-4.0zM364.4 342.7h4.0v.7h-4.0zM395.1 303.8h4.2v.7h-4.2zM396.3 319.5h3.0v.7h-3.0zM311.6 383.6h4.8v.7h-4.8zM396.8 304.0h1.5v.7h-1.5zM304.5 306.4h3.4v.7h-3.4zM354.4 303.8h4.5v.7h-4.5zM392.5 303.8h1.3v.7h-1.3zM325.8 310.8h4.0v.7h-4.0zM336.2 310.4h2.8v.7h-2.8zM395.3 310.2h4.0v.7h-4.0zM345.6 369.7h1.9v.7h-1.9zM391.3 313.1h3.5v.7h-3.5zM346.4 305.4h4.0v.7h-4.0zM372.9 334.0h1.7v.7h-1.7zM346.8 304.6h2.2v.7h-2.2zM391.4 338.6h4.6v.7h-4.6zM347.6 341.9h1.7v.7h-1.7zM330.7 351.2h4.0v.7h-4.0zM318.2 354.9h2.0v.7h-2.0zM386.3 363.7h2.0v.7h-2.0zM333.8 304.9h4.7v.7h-4.7zM327.9 304.0h1.6v.7h-1.6zM394.2 316.8h2.1v.7h-2.1zM381.2 382.5h1.1v.7h-1.1zM351.5 377.0h4.6v.7h-4.6zM354.8 321.4h2.5v.7h-2.5zM341.3 317.1h1.7v.7h-1.7zM326.0 308.4h3.7v.7h-3.7zM354.4 336.0h4.3v.7h-4.3zM309.4 335.1h1.9v.7h-1.9zM389.4 313.8h1.2v.7h-1.2zM339.3 316.7h4.4v.7h-4.4zM314.2 307.0h2.6v.7h-2.6zM350.9 354.4h1.9v.7h-1.9zM324.8 308.2h1.7v.7h-1.7zM361.4 313.3h2.6v.7h-2.6zM316.9 365.7h1.0v.7h-1.0zM358.8 311.1h2.2v.7h-2.2zM385.1 309.5h1.3v.7h-1.3zM394.2 354.6h2.5v.7h-2.5zM370.0 305.9h1.9v.7h-1.9zM383.4 331.1h4.6v.7h-4.6zM326.3 321.1h1.8v.7h-1.8zM348.8 312.9h1.7v.7h-1.7zM329.5 306.9h3.5v.7h-3.5z" fill="#80262e" opacity="0.3"/>
<rect x="297.2" y="303.8" width="1.1" height="86.2" fill="#444"/>
<rect x="347.9" y="303.8" width="1.1" height="86.2" fill="#333"/>
<rect x="399.3" y="303.8" width="1.1" height="86.2" fill="#444"/>
<rect x="45" y="433" width="107" height="151" fill="#f8f8f8"/>
<rect x="207" y="436" width="118" height="151" fill="#f8f8f8"/>
<rect x="378.4" y="437.3" width="121.60000000000002" height="149.7" fill="#f8f8f8"/>
<text x="49.00" y="429.20" font-size="5.54" font-style="italic" textLength="14.50" lengthAdjust="spacingAndGlyphs" stroke="#222" stroke-width="0.18">Chek1</text>
<text x="48.80" y="438.00" font-size="5.35" textLength="23.50" lengthAdjust="spacingAndGlyphs" stroke="#222" stroke-width="0.18">36,532 kb</text>
<text x="90.30" y="438.00" font-size="5.35" textLength="23.70" lengthAdjust="spacingAndGlyphs" stroke="#222" stroke-width="0.18">36,534 kb</text>
<text x="132.00" y="438.00" font-size="5.35" textLength="23.50" lengthAdjust="spacingAndGlyphs" stroke="#222" stroke-width="0.18">36,536 kb</text>
<rect x="45.00" y="446.60" width="107.00" height="1.30" fill="#333"/>
<rect x="59.80" y="442.40" width="1.00" height="4.50" fill="#333"/>
<rect x="80.50" y="442.40" width="1.00" height="4.50" fill="#333"/>
<rect x="101.50" y="442.40" width="1.00" height="4.50" fill="#333"/>
<rect x="122.20" y="442.40" width="1.00" height="4.50" fill="#333"/>
<rect x="143.50" y="442.40" width="1.00" height="4.50" fill="#333"/>
<rect x="45.00" y="451.40" width="107.00" height="1.80" fill="#d2d2d2"/>
<rect x="45.80" y="458.10" width="60.50" height="1.00" fill="#26428a"/>
<rect x="47.20" y="455.30" width="4.40" height="6.40" fill="#24407f"/>
<rect x="58.30" y="457.70" width="1.40" height="1.80" fill="#24407f"/>
<rect x="71.90" y="457.70" width="1.40" height="1.80" fill="#24407f"/>
<rect x="85.20" y="457.70" width="1.40" height="1.80" fill="#24407f"/>
<rect x="97.30" y="457.70" width="1.40" height="1.80" fill="#24407f"/>
<rect x="88.60" y="455.30" width="0.90" height="6.40" fill="#24407f"/>
<rect x="104.70" y="456.60" width="1.70" height="3.60" fill="#24407f"/>
<text x="22.70" y="458.20" font-size="5.54" textLength="12.90" lengthAdjust="spacingAndGlyphs" stroke="#222" stroke-width="0.18">Chr 9</text>
<text x="22.70" y="465.90" font-size="5.54" textLength="12.90" lengthAdjust="spacingAndGlyphs" stroke="#222" stroke-width="0.18">ChIP:</text>
<text x="132.40" y="466.20" font-size="5.35" textLength="10.40" lengthAdjust="spacingAndGlyphs" stroke="#222" stroke-width="0.18">1 kb</text>
<rect x="127.30" y="469.40" width="20.70" height="1.80" fill="#000"/>
<rect x="45.00" y="470.30" width="82.30" height="1.40" fill="#d6d6d6"/>
<rect x="45.00" y="488.00" width="107.00" height="1" fill="#e6a0a8"/>
<path d="M45.0,488.5L45.0,488.5 45.5,488.2 46.0,488.3 46.5,488.4 47.0,488.4 47.5,488.4 48.0,488.3 48.5,488.3 49.0,488.5 49.5,488.5 50.0,488.2 50.5,488.4 51.0,488.3 51.5,488.5 52.0,488.4 52.5,488.3 53.0,488.4 53.5,488.2 54.0,488.1 54.5,488.0 55.0,487.6 55.5,487.1 56.0,487.2 56.5,487.7 57.0,488.2 57.5,488.3 58.0,488.5 58.5,488.4 59.0,488.4 59.5,488.4 60.0,488.4 60.5,488.4 61.0,488.4 61.5,488.4 62.0,488.4 62.5,488.5 63.0,488.2 63.5,488.3 64.0,488.3 64.5,488.4 65.0,488.2 65.5,488.2 66.0,488.5 66.5,488.4 67.0,488.3 67.5,488.3 68.0,488.2 68.5,488.4 69.0,488.3 69.5,488.3 70.0,488.4 70.5,488.2 71.0,487.8 71.5,487.1 72.0,486.2 72.5,485.7 73.0,486.4 73.5,487.2 74.0,487.8 74.5,488.3 75.0,488.4 75.5,488.2 76.0,487.8 76.5,487.4 77.0,487.4 77.5,487.8 78.0,488.1 78.5,488.2 79.0,488.3 79.5,488.4 80.0,488.4 80.5,488.5 81.0,488.5 81.5,488.3 82.0,488.2 82.5,488.3 83.0,488.4 83.5,488.4 84.0,488.3 84.5,488.2 85.0,488.3 85.5,488.3 86.0,488.2 86.5,488.4 87.0,488.3 87.5,488.2 88.0,488.3 88.5,488.4 89.0,488.4 89.5,488.3 90.0,488.2 90.5,488.5 91.0,488.3 91.5,488.3 92.0,488.2 92.5,488.3 93.0,488.3 93.5,488.3 94.0,488.3 94.5,488.4 95.0,488.5 95.5,488.2 96.0,488.3 96.5,488.4 97.0,488.3 97.5,488.4 98.0,488.4 98.5,488.4 99.0,488.3 99.5,488.3 100.0,488.3 100.5,488.3 101.0,488.3 101.5,487.9 102.0,487.4 102.5,486.6 103.0,485.8 103.5,485.2 104.0,485.0 104.5,485.2 105.0,486.0 105.5,486.6 106.0,487.3 106.5,488.0 107.0,488.3 107.5,488.4 108.0,488.2 108.5,488.1 109.0,487.6 109.5,487.1 110.0,487.5 110.5,488.2 111.0,488.4 111.5,488.3 112.0,488.4 112.5,488.4 113.0,488.3 113.5,488.4 114.0,488.4 114.5,488.4 115.0,488.5 115.5,488.2 116.0,487.7 116.5,486.2 117.0,483.4 117.5,481.3 118.0,480.8 118.5,480.7 119.0,480.5 119.5,480.5 120.0,480.8 120.5,481.0 121.0,481.8 121.5,483.8 122.0,486.6 122.5,487.8 123.0,488.2 123.5,488.3 124.0,488.4 124.5,488.2 125.0,488.3 125.5,488.3 126.0,488.3 126.5,487.7 127.0,486.6 127.5,484.5 128.0,482.7 128.5,480.6 129.0,478.6 129.5,476.6 130.0,475.2 130.5,475.4 131.0,477.0 131.5,479.0 132.0,481.9 132.5,484.7 133.0,486.8 133.5,487.9 134.0,488.3 134.5,488.5 135.0,488.2 135.5,488.5 136.0,488.3 136.5,488.2 137.0,488.3 137.5,488.4 138.0,488.2 138.5,488.2 139.0,488.3 139.5,488.3 140.0,488.4 140.5,488.4 141.0,488.4 141.5,488.3 142.0,488.4 142.5,488.4 143.0,488.5 143.5,488.3 144.0,488.4 144.5,488.4 145.0,488.4 145.5,488.2 146.0,488.2 146.5,488.5 147.0,488.4 147.5,488.4 148.0,488.2 148.5,488.3 149.0,488.4 149.5,488.4 150.0,488.3 150.5,488.2 151.0,488.2 151.5,488.4 152.0,488.2 152.0,488.5Z" fill="#b5001f"/>
<rect x="45.00" y="506.20" width="107.00" height="1" fill="#a8d49e"/>
<path d="M45.0,506.7L45.0,506.4 45.5,506.4 46.0,506.7 46.5,506.7 47.0,506.4 47.5,506.5 48.0,506.5 48.5,506.6 49.0,506.5 49.5,506.5 50.0,506.5 50.5,506.7 51.0,506.6 51.5,506.6 52.0,506.5 52.5,506.4 53.0,506.4 53.5,506.5 54.0,506.6 54.5,506.6 55.0,506.7 55.5,506.7 56.0,506.6 56.5,506.6 57.0,506.6 57.5,506.4 58.0,506.5 58.5,506.5 59.0,506.6 59.5,506.7 60.0,506.6 60.5,506.7 61.0,506.5 61.5,506.4 62.0,506.5 62.5,506.6 63.0,506.4 63.5,506.5 64.0,506.5 64.5,506.4 65.0,506.5 65.5,506.5 66.0,506.6 66.5,506.3 67.0,505.9 67.5,505.4 68.0,504.3 68.5,504.0 69.0,504.0 69.5,504.0 70.0,504.0 70.5,504.2 71.0,505.1 71.5,505.8 72.0,506.3 72.5,505.7 73.0,504.2 73.5,503.0 74.0,503.6 74.5,505.3 75.0,506.2 75.5,506.5 76.0,506.6 76.5,506.6 77.0,506.5 77.5,506.7 78.0,506.4 78.5,506.6 79.0,506.4 79.5,506.6 80.0,506.4 80.5,506.5 81.0,506.5 81.5,506.5 82.0,506.4 82.5,506.3 83.0,506.2 83.5,506.1 84.0,505.8 84.5,505.6 85.0,505.8 85.5,506.1 86.0,506.1 86.5,506.3 87.0,506.3 87.5,506.6 88.0,506.5 88.5,506.7 89.0,506.5 89.5,506.6 90.0,506.6 90.5,506.4 91.0,506.7 91.5,506.5 92.0,506.4 92.5,506.6 93.0,506.6 93.5,506.4 94.0,506.6 94.5,506.5 95.0,506.7 95.5,506.6 96.0,506.6 96.5,506.5 97.0,506.7 97.5,506.4 98.0,506.7 98.5,506.4 99.0,506.2 99.5,505.2 100.0,504.5 100.5,505.2 101.0,506.1 101.5,506.4 102.0,506.6 102.5,506.7 103.0,506.4 103.5,506.7 104.0,506.7 104.5,506.6 105.0,506.5 105.5,506.4 106.0,506.0 106.5,504.8 107.0,504.1 107.5,504.7 108.0,505.8 108.5,506.4 109.0,506.4 109.5,506.5 110.0,506.4 110.5,506.4 111.0,506.4 111.5,506.2 112.0,505.8 112.5,505.6 113.0,505.7 113.5,505.9 114.0,506.1 114.5,506.5 115.0,506.4 115.5,506.2 116.0,505.1 116.5,503.4 117.0,502.0 117.5,501.8 118.0,501.5 118.5,501.6 119.0,501.7 119.5,501.1 120.0,500.0 120.5,500.5 121.0,503.8 121.5,506.0 122.0,506.6 122.5,506.5 123.0,506.5 123.5,506.4 124.0,506.4 124.5,506.4 125.0,506.6 125.5,506.5 126.0,506.2 126.5,505.1 127.0,503.3 127.5,502.0 128.0,501.6 128.5,502.2 129.0,503.3 129.5,505.1 130.0,506.3 130.5,506.6 131.0,506.6 131.5,506.7 132.0,506.5 132.5,506.6 133.0,506.5 133.5,506.0 134.0,505.2 134.5,504.8 135.0,505.1 135.5,505.9 136.0,506.4 136.5,506.5 137.0,506.6 137.5,506.4 138.0,506.4 138.5,506.5 139.0,506.6 139.5,506.5 140.0,506.5 140.5,506.7 141.0,506.6 141.5,506.5 142.0,506.6 142.5,506.7 143.0,506.5 143.5,506.6 144.0,506.5 144.5,506.2 145.0,506.1 145.5,505.8 146.0,505.3 146.5,505.3 147.0,505.5 147.5,505.7 148.0,506.2 148.5,506.4 149.0,506.4 149.5,506.5 150.0,506.7 150.5,506.6 151.0,506.6 151.5,506.6 152.0,506.6 152.0,506.7Z" fill="#3d9a2e"/>
<rect x="45.00" y="524.20" width="107.00" height="1" fill="#e6a0a8"/>
<path d="M45.0,524.7L45.0,524.6 45.5,524.5 46.0,524.6 46.5,524.5 47.0,524.5 47.5,524.7 48.0,524.7 48.5,524.4 49.0,524.6 49.5,524.6 50.0,524.4 50.5,524.6 51.0,524.4 51.5,524.6 52.0,524.5 52.5,524.7 53.0,524.5 53.5,524.4 54.0,524.5 54.5,524.5 55.0,524.5 55.5,524.7 56.0,524.5 56.5,524.5 57.0,524.6 57.5,524.7 58.0,524.4 58.5,524.6 59.0,524.5 59.5,524.4 60.0,524.5 60.5,524.4 61.0,524.6 61.5,524.5 62.0,524.6 62.5,524.4 63.0,524.4 63.5,524.7 64.0,524.7 64.5,524.6 65.0,524.4 65.5,524.6 66.0,524.5 66.5,524.6 67.0,524.5 67.5,524.6 68.0,524.6 68.5,524.5 69.0,524.5 69.5,524.4 70.0,524.4 70.5,524.1 71.0,523.7 71.5,522.9 72.0,522.0 72.5,521.1 73.0,520.0 73.5,519.6 74.0,520.0 74.5,521.0 75.0,522.0 75.5,523.2 76.0,523.7 76.5,524.2 77.0,524.5 77.5,524.6 78.0,524.4 78.5,524.4 79.0,524.7 79.5,524.5 80.0,524.6 80.5,524.7 81.0,524.6 81.5,524.5 82.0,524.4 82.5,524.7 83.0,524.5 83.5,524.7 84.0,524.5 84.5,524.6 85.0,524.4 85.5,524.4 86.0,524.5 86.5,524.4 87.0,524.6 87.5,524.7 88.0,524.5 88.5,524.7 89.0,524.6 89.5,524.6 90.0,524.5 90.5,524.7 91.0,524.7 91.5,524.4 92.0,524.6 92.5,524.4 93.0,524.4 93.5,524.6 94.0,524.6 94.5,524.5 95.0,524.5 95.5,524.5 96.0,524.5 96.5,524.5 97.0,524.4 97.5,524.5 98.0,524.6 98.5,524.5 99.0,524.6 99.5,524.6 100.0,524.4 100.5,524.5 101.0,524.5 101.5,524.6 102.0,524.2 102.5,523.1 103.0,521.6 103.5,520.2 104.0,519.8 104.5,519.9 105.0,519.8 105.5,519.9 106.0,520.4 106.5,521.8 107.0,523.4 107.5,524.2 108.0,524.6 108.5,524.7 109.0,524.5 109.5,524.4 110.0,524.6 110.5,524.6 111.0,524.5 111.5,524.6 112.0,524.6 112.5,524.6 113.0,524.6 113.5,524.5 114.0,524.6 114.5,524.5 115.0,524.2 115.5,523.7 116.0,521.2 116.5,517.0 117.0,514.3 117.5,513.3 118.0,512.9 118.5,513.0 119.0,513.1 119.5,513.3 120.0,514.2 120.5,517.2 121.0,521.3 121.5,523.6 122.0,524.2 122.5,524.5 123.0,524.4 123.5,524.6 124.0,524.6 124.5,524.5 125.0,524.4 125.5,524.5 126.0,524.4 126.5,523.7 127.0,521.1 127.5,516.9 128.0,513.8 128.5,512.8 129.0,512.7 129.5,512.6 130.0,512.5 130.5,512.6 131.0,512.7 131.5,513.6 132.0,516.1 132.5,520.4 133.0,523.2 133.5,524.3 134.0,524.5 134.5,524.6 135.0,524.6 135.5,524.6 136.0,524.4 136.5,524.7 137.0,524.7 137.5,524.4 138.0,524.4 138.5,524.4 139.0,524.6 139.5,524.4 140.0,524.4 140.5,524.6 141.0,524.5 141.5,524.4 142.0,524.5 142.5,524.5 143.0,524.6 143.5,524.6 144.0,524.6 144.5,524.7 145.0,524.5 145.5,524.6 146.0,524.5 146.5,524.7 147.0,524.4 147.5,524.3 148.0,523.7 148.5,523.2 149.0,523.5 149.5,524.1 150.0,524.6 150.5,524.5 151.0,524.6 151.5,524.6 152.0,524.5 152.0,524.7Z" fill="#b5001f"/>
<rect x="45.00" y="542.50" width="107.00" height="1" fill="#a8d49e"/>
<path d="M45.0,543.0L45.0,542.9 45.5,543.0 46.0,542.9 46.5,543.0 47.0,543.0 47.5,542.9 48.0,542.8 48.5,542.8 49.0,542.6 49.5,542.4 50.0,542.2 50.5,542.4 51.0,542.8 51.5,542.9 52.0,542.9 52.5,542.8 53.0,542.8 53.5,542.8 54.0,542.8 54.5,543.0 55.0,542.9 55.5,542.8 56.0,542.8 56.5,542.8 57.0,542.8 57.5,543.0 58.0,542.8 58.5,542.8 59.0,542.9 59.5,543.0 60.0,542.9 60.5,543.0 61.0,542.8 61.5,542.8 62.0,542.9 62.5,542.9 63.0,542.8 63.5,542.9 64.0,542.8 64.5,542.8 65.0,542.9 65.5,542.9 66.0,542.9 66.5,542.9 67.0,543.0 67.5,542.9 68.0,542.8 68.5,543.0 69.0,543.0 69.5,542.8 70.0,542.9 70.5,542.9 71.0,542.9 71.5,542.9 72.0,542.8 72.5,543.0 73.0,542.9 73.5,542.9 74.0,542.8 74.5,542.9 75.0,542.9 75.5,542.8 76.0,542.9 76.5,542.9 77.0,542.8 77.5,543.0 78.0,543.0 78.5,542.9 79.0,542.8 79.5,542.8 80.0,542.9 80.5,542.9 81.0,543.0 81.5,542.9 82.0,543.0 82.5,542.8 83.0,542.8 83.5,542.8 84.0,542.8 84.5,542.8 85.0,543.0 85.5,542.9 86.0,542.8 86.5,542.8 87.0,542.9 87.5,542.8 88.0,542.8 88.5,542.8 89.0,542.9 89.5,543.0 90.0,542.9 90.5,543.0 91.0,542.9 91.5,542.7 92.0,542.6 92.5,542.0 93.0,541.0 93.5,540.4 94.0,540.1 94.5,540.1 95.0,540.2 95.5,540.4 96.0,540.8 96.5,541.9 97.0,542.6 97.5,542.9 98.0,543.0 98.5,543.0 99.0,542.8 99.5,543.0 100.0,543.0 100.5,542.9 101.0,542.9 101.5,542.7 102.0,542.9 102.5,542.8 103.0,542.4 103.5,541.3 104.0,538.4 104.5,535.7 105.0,534.6 105.5,534.2 106.0,534.6 106.5,535.7 107.0,538.5 107.5,541.2 108.0,542.4 108.5,542.8 109.0,542.9 109.5,542.8 110.0,542.5 110.5,541.3 111.0,539.2 111.5,537.6 112.0,538.5 112.5,540.5 113.0,541.9 113.5,542.7 114.0,542.7 114.5,542.9 115.0,542.8 115.5,542.8 116.0,542.8 116.5,542.8 117.0,542.9 117.5,543.0 118.0,542.9 118.5,542.8 119.0,542.8 119.5,542.8 120.0,542.9 120.5,542.8 121.0,542.8 121.5,542.8 122.0,542.8 122.5,542.9 123.0,542.8 123.5,542.8 124.0,542.9 124.5,542.8 125.0,542.8 125.5,543.0 126.0,542.7 126.5,542.7 127.0,542.6 127.5,542.3 128.0,541.5 128.5,541.5 129.0,541.5 129.5,542.1 130.0,542.7 130.5,542.9 131.0,542.8 131.5,542.9 132.0,542.8 132.5,542.8 133.0,542.9 133.5,543.0 134.0,542.7 134.5,542.7 135.0,542.3 135.5,542.3 136.0,541.9 136.5,541.8 137.0,541.9 137.5,542.2 138.0,542.3 138.5,542.7 139.0,542.7 139.5,542.9 140.0,542.8 140.5,542.8 141.0,542.9 141.5,542.9 142.0,543.0 142.5,543.0 143.0,542.9 143.5,542.9 144.0,542.8 144.5,542.8 145.0,543.0 145.5,542.9 146.0,542.8 146.5,542.9 147.0,543.0 147.5,542.8 148.0,542.8 148.5,543.0 149.0,542.9 149.5,542.9 150.0,542.8 150.5,542.9 151.0,542.9 151.5,542.9 152.0,542.8 152.0,543.0Z" fill="#3d9a2e"/>
<rect x="45.00" y="560.50" width="107.00" height="1" fill="#8090c8"/>
<path d="M45.0,561.0L45.0,560.9 45.5,560.9 46.0,560.8 46.5,560.8 47.0,560.9 47.5,560.8 48.0,561.0 48.5,560.9 49.0,560.8 49.5,560.9 50.0,560.8 50.5,561.0 51.0,560.9 51.5,561.0 52.0,560.9 52.5,560.9 53.0,561.0 53.5,561.0 54.0,560.9 54.5,560.8 55.0,560.8 55.5,561.0 56.0,560.8 56.5,561.0 57.0,560.9 57.5,561.0 58.0,561.0 58.5,560.8 59.0,561.0 59.5,561.0 60.0,560.8 60.5,560.8 61.0,560.9 61.5,560.8 62.0,560.9 62.5,560.9 63.0,561.0 63.5,560.8 64.0,560.9 64.5,560.8 65.0,560.8 65.5,560.9 66.0,560.9 66.5,561.0 67.0,561.0 67.5,561.0 68.0,560.9 68.5,560.9 69.0,561.0 69.5,560.9 70.0,560.9 70.5,560.9 71.0,560.8 71.5,560.9 72.0,560.9 72.5,560.9 73.0,560.9 73.5,561.0 74.0,560.8 74.5,561.0 75.0,560.9 75.5,560.8 76.0,561.0 76.5,560.8 77.0,560.9 77.5,560.9 78.0,561.0 78.5,561.0 79.0,561.0 79.5,560.8 80.0,561.0 80.5,560.8 81.0,560.8 81.5,560.8 82.0,560.9 82.5,560.9 83.0,560.9 83.5,560.8 84.0,561.0 84.5,560.9 85.0,560.8 85.5,560.8 86.0,561.0 86.5,560.8 87.0,561.0 87.5,560.9 88.0,560.9 88.5,560.8 89.0,560.9 89.5,560.8 90.0,560.9 90.5,560.9 91.0,560.9 91.5,561.0 92.0,561.0 92.5,561.0 93.0,560.9 93.5,560.8 94.0,560.9 94.5,560.8 95.0,559.9 95.5,558.4 96.0,556.8 96.5,556.2 97.0,555.9 97.5,555.8 98.0,555.9 98.5,555.8 99.0,555.7 99.5,555.2 100.0,554.9 100.5,553.9 101.0,552.7 101.5,551.5 102.0,550.5 102.5,550.8 103.0,551.7 103.5,552.4 104.0,553.4 104.5,554.6 105.0,556.1 105.5,557.2 106.0,558.4 106.5,559.0 107.0,559.3 107.5,559.5 108.0,559.5 108.5,559.6 109.0,559.5 109.5,559.5 110.0,559.5 110.5,559.5 111.0,559.5 111.5,559.6 112.0,559.6 112.5,559.5 113.0,559.5 113.5,559.6 114.0,559.6 114.5,559.6 115.0,559.7 115.5,559.8 116.0,559.9 116.5,560.1 117.0,560.4 117.5,560.5 118.0,560.6 118.5,560.7 119.0,560.7 119.5,560.8 120.0,560.9 120.5,560.8 121.0,560.9 121.5,560.9 122.0,560.8 122.5,560.9 123.0,560.9 123.5,560.8 124.0,560.9 124.5,560.9 125.0,561.0 125.5,560.9 126.0,560.9 126.5,560.9 127.0,560.9 127.5,560.8 128.0,560.9 128.5,560.8 129.0,560.9 129.5,560.9 130.0,560.9 130.5,560.8 131.0,560.9 131.5,560.8 132.0,560.8 132.5,560.9 133.0,560.8 133.5,560.8 134.0,560.9 134.5,560.9 135.0,561.0 135.5,560.8 136.0,560.8 136.5,560.9 137.0,560.9 137.5,560.9 138.0,560.9 138.5,561.0 139.0,560.8 139.5,560.9 140.0,560.9 140.5,560.9 141.0,560.9 141.5,560.8 142.0,560.9 142.5,560.9 143.0,561.0 143.5,561.0 144.0,560.9 144.5,560.9 145.0,561.0 145.5,560.9 146.0,560.9 146.5,561.0 147.0,560.9 147.5,561.0 148.0,561.0 148.5,561.0 149.0,560.9 149.5,561.0 150.0,561.0 150.5,561.0 151.0,560.9 151.5,560.9 152.0,560.9 152.0,561.0Z" fill="#1a2f8c"/>
<rect x="45.00" y="578.90" width="107.00" height="1" fill="#8090c8"/>
<path d="M45.0,579.4L45.0,579.2 45.5,579.2 46.0,579.3 46.5,579.3 47.0,579.4 47.5,579.2 48.0,579.3 48.5,579.2 49.0,579.3 49.5,579.2 50.0,579.3 50.5,579.2 51.0,579.2 51.5,579.3 52.0,579.2 52.5,579.2 53.0,579.3 53.5,579.2 54.0,579.1 54.5,579.2 55.0,578.9 55.5,578.7 56.0,578.4 56.5,578.3 57.0,578.4 57.5,578.4 58.0,578.7 58.5,579.1 59.0,579.3 59.5,579.3 60.0,579.2 60.5,579.3 61.0,579.1 61.5,579.2 62.0,579.3 62.5,579.2 63.0,579.3 63.5,579.1 64.0,579.1 64.5,579.2 65.0,579.2 65.5,579.2 66.0,579.2 66.5,579.1 67.0,579.4 67.5,579.3 68.0,579.2 68.5,579.3 69.0,579.2 69.5,579.4 70.0,579.1 70.5,579.2 71.0,579.4 71.5,579.2 72.0,579.3 72.5,579.3 73.0,579.3 73.5,579.4 74.0,579.3 74.5,579.1 75.0,579.2 75.5,579.4 76.0,579.2 76.5,579.4 77.0,579.3 77.5,579.1 78.0,579.2 78.5,579.3 79.0,579.3 79.5,579.3 80.0,579.4 80.5,579.1 81.0,579.4 81.5,579.3 82.0,579.2 82.5,579.3 83.0,579.1 83.5,579.3 84.0,579.1 84.5,579.1 85.0,579.2 85.5,579.1 86.0,579.3 86.5,579.1 87.0,579.1 87.5,578.8 88.0,578.2 88.5,577.4 89.0,577.2 89.5,577.2 90.0,577.0 90.5,577.1 91.0,577.1 91.5,577.0 92.0,577.1 92.5,577.2 93.0,577.2 93.5,577.0 94.0,577.1 94.5,577.1 95.0,577.0 95.5,576.8 96.0,576.6 96.5,575.0 97.0,571.2 97.5,567.6 98.0,566.2 98.5,565.7 99.0,565.6 99.5,565.6 100.0,565.5 100.5,565.4 101.0,565.0 101.5,564.7 102.0,563.8 102.5,562.8 103.0,562.1 103.5,562.3 104.0,563.7 104.5,566.8 105.0,571.7 105.5,576.2 106.0,578.2 106.5,578.8 107.0,579.2 107.5,579.3 108.0,579.1 108.5,579.1 109.0,578.9 109.5,578.5 110.0,578.5 110.5,578.1 111.0,578.0 111.5,577.7 112.0,577.6 112.5,577.9 113.0,578.0 113.5,578.0 114.0,578.3 114.5,578.6 115.0,578.7 115.5,578.8 116.0,579.0 116.5,579.1 117.0,579.3 117.5,579.3 118.0,579.3 118.5,579.2 119.0,579.2 119.5,579.4 120.0,579.2 120.5,579.4 121.0,579.4 121.5,579.2 122.0,579.3 122.5,579.1 123.0,579.2 123.5,579.2 124.0,579.4 124.5,579.2 125.0,579.4 125.5,579.2 126.0,579.1 126.5,579.1 127.0,579.1 127.5,579.3 128.0,579.2 128.5,579.2 129.0,579.4 129.5,579.1 130.0,579.1 130.5,579.3 131.0,579.2 131.5,579.3 132.0,579.3 132.5,579.2 133.0,579.4 133.5,579.2 134.0,579.1 134.5,579.3 135.0,579.1 135.5,579.4 136.0,579.1 136.5,579.3 137.0,579.1 137.5,579.3 138.0,579.1 138.5,579.4 139.0,579.4 139.5,579.2 140.0,579.2 140.5,579.2 141.0,579.4 141.5,579.3 142.0,579.3 142.5,579.4 143.0,579.1 143.5,579.2 144.0,579.1 144.5,579.2 145.0,579.3 145.5,579.4 146.0,579.2 146.5,579.4 147.0,579.2 147.5,579.2 148.0,579.0 148.5,578.7 149.0,578.0 149.5,577.3 150.0,577.5 150.5,578.0 151.0,578.8 151.5,579.2 152.0,579.3 152.0,579.4Z" fill="#1a2f8c"/>
<text x="45.80" y="476.20" font-size="5.35" textLength="5.95" lengthAdjust="spacingAndGlyphs" stroke="#222" stroke-width="0.18">35</text>
<text x="45.80" y="495.00" font-size="5.35" textLength="5.95" lengthAdjust="spacingAndGlyphs" stroke="#222" stroke-width="0.18">25</text>
<text x="45.80" y="512.20" font-size="5.35" textLength="5.95" lengthAdjust="spacingAndGlyphs" stroke="#222" stroke-width="0.18">35</text>
<text x="45.80" y="530.80" font-size="5.35" textLength="5.95" lengthAdjust="spacingAndGlyphs" stroke="#222" stroke-width="0.18">25</text>
<text x="45.80" y="548.40" font-size="5.35" textLength="5.95" lengthAdjust="spacingAndGlyphs" stroke="#222" stroke-width="0.18">80</text>
<text x="45.80" y="566.20" font-size="5.35" textLength="5.95" lengthAdjust="spacingAndGlyphs" stroke="#222" stroke-width="0.18">80</text>
<rect x="18.30" y="473.50" width="1.10" height="32.30" fill="#222"/>
<rect x="18.30" y="508.00" width="1.10" height="31.70" fill="#222"/>
<rect x="18.30" y="543.80" width="1.10" height="16.20" fill="#222"/>
<rect x="18.30" y="563.40" width="1.10" height="15.80" fill="#222"/>
<text x="7.00" y="491.60" font-size="5.54" textLength="8.40" lengthAdjust="spacingAndGlyphs" stroke="#222" stroke-width="0.18">null</text>
<text x="11.10" y="525.70" font-size="5.54" textLength="4.30" lengthAdjust="spacingAndGlyphs" stroke="#222" stroke-width="0.18">hi</text>
<text x="7.00" y="553.90" font-size="5.54" textLength="8.40" lengthAdjust="spacingAndGlyphs" stroke="#222" stroke-width="0.18">null</text>
<text x="11.50" y="572.70" font-size="5.54" textLength="3.90" lengthAdjust="spacingAndGlyphs" stroke="#222" stroke-width="0.18">hi</text>
<text x="24.30" y="479.70" font-size="5.54" textLength="15.40" lengthAdjust="spacingAndGlyphs" stroke="#222" stroke-width="0.18">Hoxa9</text>
<text x="23.00" y="486.20" font-size="5.54" textLength="17.00" lengthAdjust="spacingAndGlyphs" stroke="#222" stroke-width="0.18">(FLAG)</text>
<text x="23.00" y="500.60" font-size="5.54" textLength="18.50" lengthAdjust="spacingAndGlyphs" stroke="#222" stroke-width="0.18">C/EBPα</text>
<text x="24.30" y="515.70" font-size="5.54" textLength="15.40" lengthAdjust="spacingAndGlyphs" stroke="#222" stroke-width="0.18">Hoxa9</text>
<text x="23.00" y="522.20" font-size="5.54" textLength="17.00" lengthAdjust="spacingAndGlyphs" stroke="#222" stroke-width="0.18">(FLAG)</text>
<text x="23.00" y="536.60" font-size="5.54" textLength="18.50" lengthAdjust="spacingAndGlyphs" stroke="#222" stroke-width="0.18">C/EBPα</text>
<text x="24.30" y="554.10" font-size="5.54" textLength="21.10" lengthAdjust="spacingAndGlyphs" stroke="#222" stroke-width="0.18">H3K27ac</text>
<text x="24.30" y="574.50" font-size="5.54" textLength="21.10" lengthAdjust="spacingAndGlyphs" stroke="#222" stroke-width="0.18">H3K27ac</text>
<text x="211.00" y="433.60" font-size="5.54" font-style="italic" textLength="10.50" lengthAdjust="spacingAndGlyphs" stroke="#222" stroke-width="0.18">Selp</text>
<text x="197.70" y="442.00" font-size="5.35" textLength="26.00" lengthAdjust="spacingAndGlyphs" stroke="#222" stroke-width="0.18">166,060 kb</text>
<rect x="207.60" y="450.40" width="116.70" height="1.30" fill="#333"/>
<rect x="209.70" y="446.60" width="1.00" height="4.40" fill="#333"/>
<rect x="275.50" y="446.60" width="1.00" height="4.40" fill="#333"/>
<rect x="207.60" y="455.20" width="117.00" height="1.80" fill="#d2d2d2"/>
<rect x="207.60" y="461.40" width="117.20" height="1.00" fill="#26428a"/>
<rect x="209.20" y="461.10" width="1.20" height="1.60" fill="#24407f"/>
<rect x="221.20" y="461.10" width="1.20" height="1.60" fill="#24407f"/>
<rect x="234.70" y="461.10" width="1.20" height="1.60" fill="#24407f"/>
<rect x="247.70" y="461.10" width="1.20" height="1.60" fill="#24407f"/>
<rect x="270.50" y="461.10" width="1.20" height="1.60" fill="#24407f"/>
<rect x="284.70" y="461.10" width="1.20" height="1.60" fill="#24407f"/>
<rect x="298.20" y="461.10" width="1.20" height="1.60" fill="#24407f"/>
<rect x="312.90" y="461.10" width="1.20" height="1.60" fill="#24407f"/>
<rect x="240.30" y="459.60" width="1.50" height="5.20" fill="#24407f"/>
<rect x="263.40" y="459.60" width="1.70" height="5.20" fill="#24407f"/>
<rect x="305.40" y="459.60" width="1.70" height="5.20" fill="#24407f"/>
<text x="183.90" y="462.20" font-size="5.54" textLength="15.50" lengthAdjust="spacingAndGlyphs" stroke="#222" stroke-width="0.18">Chr 11</text>
<text x="183.90" y="469.10" font-size="5.54" textLength="12.40" lengthAdjust="spacingAndGlyphs" stroke="#222" stroke-width="0.18">ChIP:</text>
<text x="260.80" y="472.60" font-size="5.35" textLength="10.70" lengthAdjust="spacingAndGlyphs" stroke="#222" stroke-width="0.18">Selp</text>
<text x="290.20" y="472.80" font-size="5.35" textLength="9.50" lengthAdjust="spacingAndGlyphs" stroke="#222" stroke-width="0.18">5 kb</text>
<rect x="257.30" y="474.60" width="66.10" height="1.80" fill="#000"/>
<rect x="207.40" y="474.00" width="49.90" height="1.50" fill="#d6d6d6"/>
<rect x="207.60" y="492.00" width="117.40" height="1" fill="#e6a0a8"/>
<path d="M207.6,492.5L207.6,492.4 208.1,492.4 208.6,492.3 209.1,492.4 209.6,492.4 210.1,492.4 210.6,492.5 211.1,492.4 211.6,492.3 212.1,492.3 212.6,492.5 213.1,492.4 213.6,492.5 214.1,492.3 214.6,492.3 215.1,492.5 215.6,492.3 216.1,492.3 216.6,492.3 217.1,492.3 217.6,492.5 218.1,492.5 218.6,492.4 219.1,492.5 219.6,492.5 220.1,492.4 220.6,492.5 221.1,492.4 221.6,492.4 222.1,492.3 222.7,492.4 223.2,492.3 223.7,492.4 224.2,492.3 224.7,492.4 225.2,492.4 225.7,492.3 226.2,492.3 226.7,492.3 227.2,492.3 227.7,492.4 228.2,492.4 228.7,492.4 229.2,492.2 229.7,491.4 230.2,490.3 230.7,488.9 231.2,488.4 231.7,488.8 232.2,490.1 232.7,491.5 233.2,492.1 233.7,492.2 234.2,492.4 234.7,492.3 235.2,492.4 235.7,492.5 236.2,492.3 236.7,492.3 237.2,492.4 237.7,492.5 238.2,492.4 238.7,492.3 239.2,492.3 239.7,492.5 240.2,492.4 240.7,492.5 241.2,492.5 241.7,492.3 242.2,492.5 242.7,492.4 243.2,492.4 243.7,492.5 244.2,492.3 244.7,492.5 245.2,492.3 245.7,492.5 246.2,492.4 246.7,492.4 247.2,492.4 247.7,492.3 248.2,492.3 248.7,492.4 249.2,492.3 249.7,492.4 250.2,492.4 250.7,492.3 251.2,492.3 251.8,492.5 252.3,492.3 252.8,492.4 253.3,492.4 253.8,492.3 254.3,492.4 254.8,492.4 255.3,492.5 255.8,492.5 256.3,492.4 256.8,492.4 257.3,492.3 257.8,492.4 258.3,492.4 258.8,492.3 259.3,492.4 259.8,492.4 260.3,492.3 260.8,492.5 261.3,492.5 261.8,492.3 262.3,492.3 262.8,492.4 263.3,492.5 263.8,492.3 264.3,492.3 264.8,492.5 265.3,492.3 265.8,492.3 266.3,492.3 266.8,492.4 267.3,492.5 267.8,492.5 268.3,492.3 268.8,492.4 269.3,492.3 269.8,492.4 270.3,492.3 270.8,492.4 271.3,492.4 271.8,492.5 272.3,492.3 272.8,492.5 273.3,492.4 273.8,492.4 274.3,492.3 274.8,492.3 275.3,492.4 275.8,492.3 276.3,492.4 276.8,492.5 277.3,492.4 277.8,492.4 278.3,492.5 278.8,492.4 279.3,492.4 279.8,492.1 280.3,491.6 280.8,490.4 281.4,489.1 281.9,488.1 282.4,486.7 282.9,484.5 283.4,481.9 283.9,479.4 284.4,477.9 284.9,478.0 285.4,479.5 285.9,482.6 286.4,486.2 286.9,489.5 287.4,491.0 287.9,491.8 288.4,492.0 288.9,492.1 289.4,491.7 289.9,491.6 290.4,491.2 290.9,491.0 291.4,491.0 291.9,491.3 292.4,491.7 292.9,491.9 293.4,492.1 293.9,492.3 294.4,492.3 294.9,492.3 295.4,492.3 295.9,492.4 296.4,492.3 296.9,492.3 297.4,492.4 297.9,492.3 298.4,492.4 298.9,492.4 299.4,492.3 299.9,492.5 300.4,492.3 300.9,492.3 301.4,492.3 301.9,492.3 302.4,492.4 302.9,492.3 303.4,492.4 303.9,492.4 304.4,492.3 304.9,492.5 305.4,492.3 305.9,492.5 306.4,492.3 306.9,492.4 307.4,492.4 307.9,492.3 308.4,492.4 308.9,492.3 309.4,492.1 309.9,492.0 310.5,491.9 311.0,491.7 311.5,491.8 312.0,492.2 312.5,492.4 313.0,492.3 313.5,492.3 314.0,492.4 314.5,492.3 315.0,492.4 315.5,492.3 316.0,492.4 316.5,492.3 317.0,492.0 317.5,491.8 318.0,491.7 318.5,491.9 319.0,492.1 319.5,492.3 320.0,492.4 320.5,492.4 321.0,492.3 321.5,492.3 322.0,492.3 322.5,492.3 323.0,492.4 323.5,492.5 324.0,492.4 324.5,492.4 325.0,492.4 325.0,492.5Z" fill="#b5001f"/>
<rect x="207.60" y="510.10" width="117.40" height="1" fill="#a8d49e"/>
<path d="M207.6,510.6L207.6,510.5 208.1,510.4 208.6,510.4 209.1,510.6 209.6,510.6 210.1,510.5 210.6,510.5 211.1,510.4 211.6,510.4 212.1,510.4 212.6,510.5 213.1,510.4 213.6,510.6 214.1,510.5 214.6,510.6 215.1,510.4 215.6,510.6 216.1,510.4 216.6,510.6 217.1,510.4 217.6,510.5 218.1,510.5 218.6,510.4 219.1,510.6 219.6,510.6 220.1,510.4 220.6,510.5 221.1,510.6 221.6,510.3 222.1,510.3 222.7,510.4 223.2,509.9 223.7,509.5 224.2,509.2 224.7,509.3 225.2,509.9 225.7,510.2 226.2,510.5 226.7,510.5 227.2,510.4 227.7,510.5 228.2,510.5 228.7,510.2 229.2,509.8 229.7,509.3 230.2,509.3 230.7,509.6 231.2,510.0 231.7,510.3 232.2,510.4 232.7,510.5 233.2,510.5 233.7,510.4 234.2,510.4 234.7,510.6 235.2,510.5 235.7,510.5 236.2,510.5 236.7,510.4 237.2,510.5 237.7,510.6 238.2,510.4 238.7,510.5 239.2,510.5 239.7,510.5 240.2,510.5 240.7,510.5 241.2,510.4 241.7,510.6 242.2,510.5 242.7,510.6 243.2,510.4 243.7,510.6 244.2,510.5 244.7,510.5 245.2,510.4 245.7,510.6 246.2,510.5 246.7,510.5 247.2,510.5 247.7,510.5 248.2,510.4 248.7,510.5 249.2,510.4 249.7,510.6 250.2,510.4 250.7,510.5 251.2,510.6 251.8,510.4 252.3,510.4 252.8,510.6 253.3,510.5 253.8,510.4 254.3,510.5 254.8,510.5 255.3,510.6 255.8,510.6 256.3,510.4 256.8,510.4 257.3,510.4 257.8,510.5 258.3,510.6 258.8,510.5 259.3,510.4 259.8,510.4 260.3,510.4 260.8,510.5 261.3,510.5 261.8,510.5 262.3,510.4 262.8,510.5 263.3,510.4 263.8,510.4 264.3,510.6 264.8,510.5 265.3,510.4 265.8,510.5 266.3,510.4 266.8,510.5 267.3,510.4 267.8,510.4 268.3,510.3 268.8,509.9 269.3,509.5 269.8,509.1 270.3,509.4 270.8,510.0 271.3,510.2 271.8,510.4 272.3,510.5 272.8,510.5 273.3,510.4 273.8,510.5 274.3,510.4 274.8,510.4 275.3,510.4 275.8,510.4 276.3,510.5 276.8,510.5 277.3,510.4 277.8,510.4 278.3,510.5 278.8,510.5 279.3,510.5 279.8,510.2 280.3,509.7 280.8,508.3 281.4,506.4 281.9,505.6 282.4,505.5 282.9,505.3 283.4,504.9 283.9,502.8 284.4,498.6 284.9,496.8 285.4,500.6 285.9,506.0 286.4,509.2 286.9,510.1 287.4,510.4 287.9,510.5 288.4,510.4 288.9,510.6 289.4,510.5 289.9,510.3 290.4,510.2 290.9,509.6 291.4,508.4 291.9,507.1 292.4,506.4 292.9,507.1 293.4,508.4 293.9,509.5 294.4,510.1 294.9,510.3 295.4,510.4 295.9,510.4 296.4,510.5 296.9,510.6 297.4,510.5 297.9,510.5 298.4,510.6 298.9,510.4 299.4,510.5 299.9,510.5 300.4,510.5 300.9,510.4 301.4,510.6 301.9,510.5 302.4,510.5 302.9,510.5 303.4,510.5 303.9,510.5 304.4,510.4 304.9,510.5 305.4,510.4 305.9,510.6 306.4,510.5 306.9,510.4 307.4,510.4 307.9,510.5 308.4,510.5 308.9,510.4 309.4,510.4 309.9,510.5 310.5,510.5 311.0,510.4 311.5,510.5 312.0,510.4 312.5,510.4 313.0,510.4 313.5,510.5 314.0,510.4 314.5,510.5 315.0,510.4 315.5,510.5 316.0,510.5 316.5,510.5 317.0,510.5 317.5,510.6 318.0,510.5 318.5,510.5 319.0,510.5 319.5,510.6 320.0,510.4 320.5,510.5 321.0,510.4 321.5,510.5 322.0,510.5 322.5,510.4 323.0,510.4 323.5,510.5 324.0,510.6 324.5,510.4 325.0,510.4 325.0,510.6Z" fill="#3d9a2e"/>
<rect x="207.60" y="528.40" width="117.40" height="1" fill="#e6a0a8"/>
<path d="M207.6,528.9L207.6,528.8 208.1,528.7 208.6,528.7 209.1,528.5 209.6,528.5 210.1,528.0 210.6,527.7 211.1,527.6 211.6,527.7 212.1,528.3 212.6,528.5 213.1,528.8 213.6,528.8 214.1,528.8 214.6,528.7 215.1,528.7 215.6,528.9 216.1,528.8 216.6,528.9 217.1,528.7 217.6,528.7 218.1,528.7 218.6,528.7 219.1,528.7 219.6,528.7 220.1,528.7 220.6,528.8 221.1,528.7 221.6,528.8 222.1,528.7 222.7,528.8 223.2,528.8 223.7,528.8 224.2,528.8 224.7,528.8 225.2,528.9 225.7,528.7 226.2,528.7 226.7,528.7 227.2,528.7 227.7,528.8 228.2,528.7 228.7,528.8 229.2,528.4 229.7,527.7 230.2,525.8 230.7,523.2 231.2,521.8 231.7,523.0 232.2,525.5 232.7,527.5 233.2,528.5 233.7,528.8 234.2,528.8 234.7,528.8 235.2,528.8 235.7,528.9 236.2,528.8 236.7,528.9 237.2,528.7 237.7,528.7 238.2,528.8 238.7,528.7 239.2,528.7 239.7,528.9 240.2,528.9 240.7,528.7 241.2,528.7 241.7,528.7 242.2,528.9 242.7,528.8 243.2,528.7 243.7,528.7 244.2,528.7 244.7,528.8 245.2,528.7 245.7,528.8 246.2,528.7 246.7,528.9 247.2,528.7 247.7,528.7 248.2,528.7 248.7,528.8 249.2,528.7 249.7,528.8 250.2,528.8 250.7,528.8 251.2,528.7 251.8,528.8 252.3,528.8 252.8,528.9 253.3,528.7 253.8,528.9 254.3,528.8 254.8,528.9 255.3,528.7 255.8,528.8 256.3,528.8 256.8,528.9 257.3,528.8 257.8,528.8 258.3,528.9 258.8,528.9 259.3,528.7 259.8,528.9 260.3,528.8 260.8,528.8 261.3,528.8 261.8,528.9 262.3,528.8 262.8,528.8 263.3,528.7 263.8,528.9 264.3,528.8 264.8,528.7 265.3,528.5 265.8,528.1 266.3,527.0 266.8,525.1 267.3,523.4 267.8,522.9 268.3,524.0 268.8,525.9 269.3,527.5 269.8,528.5 270.3,528.6 270.8,528.7 271.3,528.8 271.8,528.8 272.3,528.8 272.8,528.8 273.3,528.8 273.8,528.8 274.3,528.8 274.8,528.9 275.3,528.8 275.8,528.9 276.3,528.7 276.8,528.8 277.3,528.9 277.8,528.7 278.3,528.9 278.8,528.8 279.3,528.8 279.8,528.8 280.3,528.7 280.8,528.4 281.4,527.5 281.9,525.0 282.4,522.2 282.9,519.0 283.4,515.7 283.9,512.3 284.4,510.1 284.9,510.2 285.4,512.5 285.9,515.8 286.4,519.3 286.9,522.2 287.4,525.1 287.9,527.6 288.4,528.4 288.9,528.8 289.4,528.7 289.9,528.8 290.4,528.7 290.9,528.8 291.4,528.9 291.9,528.9 292.4,528.8 292.9,528.7 293.4,528.9 293.9,528.8 294.4,528.8 294.9,528.8 295.4,528.7 295.9,528.8 296.4,528.7 296.9,528.7 297.4,528.7 297.9,528.8 298.4,528.7 298.9,528.8 299.4,528.8 299.9,528.7 300.4,528.7 300.9,528.7 301.4,528.9 301.9,528.9 302.4,528.8 302.9,528.7 303.4,528.8 303.9,528.8 304.4,528.7 304.9,528.8 305.4,528.9 305.9,528.8 306.4,528.7 306.9,528.4 307.4,528.4 307.9,528.1 308.4,528.1 308.9,528.3 309.4,528.5 309.9,528.7 310.5,528.7 311.0,528.7 311.5,528.7 312.0,528.8 312.5,528.7 313.0,528.9 313.5,528.8 314.0,528.6 314.5,528.5 315.0,528.4 315.5,528.0 316.0,528.0 316.5,528.2 317.0,528.4 317.5,528.6 318.0,528.7 318.5,528.6 319.0,528.8 319.5,528.7 320.0,528.7 320.5,528.8 321.0,528.7 321.5,528.7 322.0,528.8 322.5,528.8 323.0,528.8 323.5,528.7 324.0,528.8 324.5,528.9 325.0,528.8 325.0,528.9Z" fill="#b5001f"/>
<rect x="207.60" y="546.50" width="117.40" height="1" fill="#a8d49e"/>
<path d="M207.6,547.0L207.6,547.0 208.1,546.9 208.6,546.9 209.1,546.8 209.6,546.9 210.1,546.9 210.6,546.9 211.1,546.9 211.6,546.9 212.1,546.9 212.6,546.9 213.1,546.8 213.6,547.0 214.1,547.0 214.6,546.8 215.1,546.9 215.6,546.9 216.1,546.8 216.6,546.9 217.1,547.0 217.6,546.9 218.1,546.9 218.6,547.0 219.1,546.9 219.6,547.0 220.1,546.9 220.6,547.0 221.1,547.0 221.6,546.8 222.1,546.7 222.7,546.4 223.2,546.4 223.7,546.6 224.2,546.7 224.7,546.9 225.2,547.0 225.7,546.9 226.2,546.9 226.7,547.0 227.2,547.0 227.7,546.8 228.2,546.9 228.7,547.0 229.2,546.9 229.7,547.0 230.2,546.8 230.7,546.9 231.2,547.0 231.7,546.8 232.2,546.9 232.7,546.7 233.2,546.5 233.7,546.4 234.2,546.8 234.7,546.8 235.2,547.0 235.7,546.9 236.2,546.9 236.7,546.9 237.2,546.9 237.7,546.9 238.2,546.9 238.7,546.9 239.2,547.0 239.7,546.9 240.2,547.0 240.7,546.8 241.2,546.8 241.7,546.9 242.2,546.8 242.7,546.4 243.2,546.4 243.7,546.8 244.2,546.8 244.7,546.8 245.2,546.9 245.7,546.9 246.2,546.9 246.7,546.8 247.2,546.9 247.7,546.9 248.2,547.0 248.7,546.9 249.2,546.9 249.7,546.9 250.2,546.9 250.7,547.0 251.2,546.9 251.8,546.8 252.3,546.9 252.8,546.9 253.3,546.8 253.8,546.9 254.3,546.9 254.8,547.0 255.3,547.0 255.8,547.0 256.3,547.0 256.8,546.8 257.3,546.9 257.8,546.7 258.3,546.4 258.8,546.4 259.3,546.8 259.8,546.8 260.3,546.9 260.8,546.9 261.3,546.9 261.8,546.8 262.3,546.8 262.8,546.9 263.3,546.8 263.8,546.9 264.3,546.9 264.8,546.7 265.3,546.5 265.8,545.5 266.3,543.5 266.8,541.2 267.3,540.5 267.8,542.1 268.3,544.4 268.8,546.1 269.3,546.7 269.8,546.9 270.3,547.0 270.8,547.0 271.3,546.9 271.8,547.0 272.3,546.9 272.8,546.9 273.3,546.9 273.8,546.9 274.3,546.8 274.8,546.9 275.3,546.9 275.8,546.9 276.3,547.0 276.8,547.0 277.3,547.0 277.8,546.9 278.3,547.0 278.8,546.9 279.3,546.9 279.8,546.8 280.3,546.6 280.8,545.6 281.4,542.6 281.9,538.1 282.4,535.0 282.9,537.0 283.4,540.6 283.9,541.6 284.4,539.1 284.9,533.6 285.4,529.3 285.9,531.5 286.4,538.3 286.9,544.0 287.4,546.3 287.9,546.9 288.4,546.8 288.9,546.9 289.4,546.8 289.9,546.8 290.4,546.8 290.9,546.5 291.4,545.9 291.9,544.3 292.4,543.2 292.9,543.7 293.4,545.2 293.9,546.4 294.4,546.9 294.9,546.9 295.4,546.8 295.9,546.9 296.4,546.9 296.9,546.9 297.4,546.8 297.9,547.0 298.4,546.9 298.9,546.9 299.4,547.0 299.9,546.8 300.4,547.0 300.9,546.8 301.4,546.8 301.9,546.8 302.4,546.8 302.9,546.9 303.4,546.9 303.9,546.9 304.4,546.8 304.9,547.0 305.4,547.0 305.9,546.8 306.4,546.8 306.9,546.9 307.4,546.8 307.9,546.9 308.4,546.8 308.9,546.9 309.4,546.8 309.9,547.0 310.5,546.9 311.0,546.9 311.5,546.8 312.0,546.9 312.5,546.9 313.0,546.8 313.5,546.9 314.0,547.0 314.5,547.0 315.0,546.8 315.5,546.9 316.0,546.9 316.5,546.9 317.0,547.0 317.5,547.0 318.0,547.0 318.5,546.9 319.0,546.8 319.5,547.0 320.0,547.0 320.5,546.8 321.0,546.9 321.5,547.0 322.0,546.9 322.5,546.9 323.0,546.9 323.5,546.8 324.0,546.9 324.5,547.0 325.0,546.9 325.0,547.0Z" fill="#3d9a2e"/>
<rect x="207.60" y="564.70" width="117.40" height="1" fill="#8090c8"/>
<path d="M207.6,565.2L207.6,565.0 208.1,565.2 208.6,565.1 209.1,565.2 209.6,565.0 210.1,565.2 210.6,565.0 211.1,565.1 211.6,565.0 212.1,565.0 212.6,565.2 213.1,565.1 213.6,565.1 214.1,565.1 214.6,565.1 215.1,565.2 215.6,565.0 216.1,565.0 216.6,565.0 217.1,565.2 217.6,565.0 218.1,565.1 218.6,565.2 219.1,565.1 219.6,565.1 220.1,565.2 220.6,565.1 221.1,565.1 221.6,565.1 222.1,565.0 222.7,565.1 223.2,565.1 223.7,565.0 224.2,565.0 224.7,565.1 225.2,565.0 225.7,565.2 226.2,565.2 226.7,565.2 227.2,565.0 227.7,565.1 228.2,565.1 228.7,565.1 229.2,565.1 229.7,565.0 230.2,565.2 230.7,565.2 231.2,565.2 231.7,565.1 232.2,565.0 232.7,565.1 233.2,565.1 233.7,565.1 234.2,565.2 234.7,565.0 235.2,565.1 235.7,565.2 236.2,565.1 236.7,565.0 237.2,565.1 237.7,565.0 238.2,565.1 238.7,565.1 239.2,565.2 239.7,565.0 240.2,565.0 240.7,565.1 241.2,565.2 241.7,565.1 242.2,565.1 242.7,565.0 243.2,565.0 243.7,565.1 244.2,565.1 244.7,565.2 245.2,565.0 245.7,565.0 246.2,565.2 246.7,565.1 247.2,565.1 247.7,565.0 248.2,565.2 248.7,565.2 249.2,565.0 249.7,565.1 250.2,565.1 250.7,565.0 251.2,565.1 251.8,565.1 252.3,565.1 252.8,565.2 253.3,565.2 253.8,565.1 254.3,565.1 254.8,565.1 255.3,565.1 255.8,565.1 256.3,565.1 256.8,565.1 257.3,565.1 257.8,565.0 258.3,565.0 258.8,565.0 259.3,565.0 259.8,565.2 260.3,565.1 260.8,565.1 261.3,565.0 261.8,564.6 262.3,564.2 262.8,563.9 263.3,563.6 263.8,563.7 264.3,563.6 264.8,563.7 265.3,563.7 265.8,563.7 266.3,563.7 266.8,563.7 267.3,563.7 267.8,563.8 268.3,563.8 268.8,563.6 269.3,563.7 269.8,563.8 270.3,563.6 270.8,563.7 271.3,563.7 271.8,563.6 272.3,563.8 272.8,563.8 273.3,563.9 273.8,564.2 274.3,564.7 274.8,564.9 275.3,564.9 275.8,564.9 276.3,564.6 276.8,564.4 277.3,563.8 277.8,563.3 278.3,562.6 278.8,561.9 279.3,561.5 279.8,561.3 280.3,561.3 280.8,561.6 281.4,562.2 281.9,562.8 282.4,563.4 282.9,563.9 283.4,564.3 283.9,564.4 284.4,564.5 284.9,564.5 285.4,564.1 285.9,563.6 286.4,562.9 286.9,561.6 287.4,560.0 287.9,558.4 288.4,556.9 288.9,555.8 289.4,555.4 289.9,555.7 290.4,556.6 290.9,558.2 291.4,559.5 291.9,560.8 292.4,561.8 292.9,562.5 293.4,562.8 293.9,563.2 294.4,563.2 294.9,563.3 295.4,563.4 295.9,563.4 296.4,563.4 296.9,563.6 297.4,563.7 297.9,563.7 298.4,563.9 298.9,564.0 299.4,564.2 299.9,564.3 300.4,564.6 300.9,564.7 301.4,564.8 301.9,564.9 302.4,565.0 302.9,565.0 303.4,565.0 303.9,565.1 304.4,565.1 304.9,565.0 305.4,565.0 305.9,565.1 306.4,565.0 306.9,565.2 307.4,565.1 307.9,565.0 308.4,565.2 308.9,565.1 309.4,565.0 309.9,565.1 310.5,565.1 311.0,565.2 311.5,565.1 312.0,565.1 312.5,565.0 313.0,565.1 313.5,565.0 314.0,565.1 314.5,565.1 315.0,565.0 315.5,565.2 316.0,565.0 316.5,565.1 317.0,565.1 317.5,565.0 318.0,565.1 318.5,565.1 319.0,565.2 319.5,565.2 320.0,565.0 320.5,565.1 321.0,565.1 321.5,565.1 322.0,565.1 322.5,565.1 323.0,565.0 323.5,565.1 324.0,565.2 324.5,565.0 325.0,565.0 325.0,565.2Z" fill="#1a2f8c"/>
<rect x="207.60" y="582.80" width="117.40" height="1" fill="#8090c8"/>
<path d="M207.6,583.3L207.6,583.2 208.1,583.2 208.6,583.2 209.1,583.2 209.6,583.2 210.1,583.1 210.6,583.2 211.1,583.1 211.6,583.3 212.1,583.2 212.6,583.2 213.1,583.3 213.6,583.1 214.1,583.2 214.6,583.1 215.1,583.1 215.6,583.2 216.1,583.1 216.6,583.1 217.1,583.1 217.6,583.3 218.1,583.1 218.6,582.8 219.1,582.5 219.6,582.5 220.1,582.9 220.6,583.1 221.1,583.1 221.6,583.2 222.1,583.2 222.7,583.1 223.2,583.1 223.7,583.2 224.2,583.3 224.7,583.1 225.2,583.1 225.7,583.1 226.2,583.2 226.7,583.2 227.2,583.3 227.7,583.2 228.2,583.2 228.7,583.3 229.2,583.1 229.7,583.1 230.2,583.3 230.7,583.1 231.2,583.2 231.7,583.1 232.2,583.2 232.7,583.1 233.2,583.2 233.7,583.1 234.2,583.2 234.7,583.3 235.2,583.3 235.7,583.2 236.2,583.2 236.7,583.2 237.2,583.2 237.7,583.1 238.2,583.2 238.7,583.2 239.2,583.2 239.7,583.1 240.2,583.1 240.7,583.1 241.2,583.1 241.7,583.2 242.2,583.3 242.7,583.3 243.2,583.3 243.7,583.3 244.2,583.1 244.7,583.1 245.2,583.3 245.7,583.1 246.2,583.1 246.7,583.1 247.2,583.3 247.7,583.1 248.2,583.2 248.7,583.3 249.2,583.3 249.7,583.2 250.2,583.1 250.7,583.3 251.2,583.3 251.8,583.2 252.3,583.3 252.8,583.2 253.3,583.1 253.8,583.2 254.3,583.3 254.8,583.3 255.3,583.3 255.8,583.1 256.3,583.1 256.8,583.2 257.3,583.3 257.8,583.2 258.3,583.2 258.8,583.3 259.3,583.3 259.8,583.2 260.3,583.1 260.8,583.2 261.3,583.1 261.8,583.1 262.3,583.2 262.8,583.2 263.3,583.3 263.8,583.1 264.3,583.1 264.8,583.0 265.3,583.1 265.8,582.6 266.3,582.0 266.8,581.6 267.3,581.5 267.8,581.5 268.3,581.5 268.8,581.3 269.3,581.4 269.8,581.4 270.3,581.4 270.8,581.4 271.3,581.4 271.8,581.4 272.3,581.4 272.8,581.5 273.3,581.3 273.8,581.3 274.3,581.3 274.8,581.5 275.3,581.6 275.8,582.0 276.3,582.6 276.8,582.9 277.3,582.6 277.8,581.9 278.3,580.4 278.8,578.8 279.3,577.2 279.8,576.3 280.3,576.5 280.8,577.7 281.4,579.4 281.9,581.1 282.4,582.2 282.9,582.6 283.4,582.6 283.9,581.4 284.4,580.3 284.9,579.3 285.4,579.1 285.9,578.5 286.4,577.9 286.9,576.9 287.4,575.1 287.9,572.7 288.4,570.1 288.9,567.6 289.4,565.7 289.9,564.9 290.4,565.5 290.9,567.6 291.4,570.5 291.9,574.2 292.4,578.0 292.9,580.5 293.4,581.8 293.9,582.6 294.4,582.8 294.9,583.0 295.4,583.0 295.9,583.3 296.4,583.3 296.9,583.1 297.4,583.1 297.9,583.1 298.4,583.1 298.9,583.1 299.4,583.3 299.9,583.3 300.4,583.1 300.9,583.1 301.4,583.3 301.9,583.1 302.4,583.2 302.9,583.2 303.4,583.2 303.9,583.3 304.4,583.3 304.9,583.3 305.4,583.3 305.9,583.3 306.4,583.1 306.9,583.1 307.4,583.1 307.9,583.2 308.4,583.1 308.9,583.3 309.4,583.1 309.9,583.2 310.5,583.3 311.0,583.2 311.5,583.3 312.0,583.1 312.5,583.2 313.0,583.3 313.5,583.3 314.0,583.3 314.5,583.1 315.0,583.2 315.5,583.1 316.0,583.2 316.5,583.2 317.0,583.1 317.5,583.1 318.0,583.3 318.5,583.0 319.0,583.0 319.5,582.8 320.0,582.7 320.5,582.3 321.0,582.2 321.5,582.1 322.0,582.0 322.5,582.0 323.0,582.0 323.5,582.4 324.0,582.5 324.5,582.9 325.0,582.9 325.0,583.3Z" fill="#1a2f8c"/>
<text x="209.00" y="479.50" font-size="5.35" textLength="5.95" lengthAdjust="spacingAndGlyphs" stroke="#222" stroke-width="0.18">80</text>
<text x="209.00" y="498.00" font-size="5.35" textLength="5.95" lengthAdjust="spacingAndGlyphs" stroke="#222" stroke-width="0.18">70</text>
<text x="209.00" y="515.80" font-size="5.35" textLength="5.95" lengthAdjust="spacingAndGlyphs" stroke="#222" stroke-width="0.18">80</text>
<text x="209.00" y="534.40" font-size="5.35" textLength="5.95" lengthAdjust="spacingAndGlyphs" stroke="#222" stroke-width="0.18">70</text>
<text x="209.00" y="552.60" font-size="5.35" textLength="8.92" lengthAdjust="spacingAndGlyphs" stroke="#222" stroke-width="0.18">200</text>
<text x="209.00" y="570.80" font-size="5.35" textLength="8.92" lengthAdjust="spacingAndGlyphs" stroke="#222" stroke-width="0.18">200</text>
<rect x="181.10" y="477.30" width="1.10" height="32.50" fill="#222"/>
<rect x="181.10" y="511.50" width="1.10" height="31.70" fill="#222"/>
<rect x="181.10" y="547.50" width="1.10" height="15.90" fill="#222"/>
<rect x="181.10" y="567.00" width="1.10" height="16.00" fill="#222"/>
<text x="169.80" y="495.30" font-size="5.54" textLength="8.70" lengthAdjust="spacingAndGlyphs" stroke="#222" stroke-width="0.18">null</text>
<text x="174.10" y="529.60" font-size="5.54" textLength="4.40" lengthAdjust="spacingAndGlyphs" stroke="#222" stroke-width="0.18">hi</text>
<text x="170.00" y="558.20" font-size="5.54" textLength="8.20" lengthAdjust="spacingAndGlyphs" stroke="#222" stroke-width="0.18">null</text>
<text x="173.80" y="576.90" font-size="5.54" textLength="3.50" lengthAdjust="spacingAndGlyphs" stroke="#222" stroke-width="0.18">hi</text>
<text x="187.70" y="483.80" font-size="5.54" textLength="15.20" lengthAdjust="spacingAndGlyphs" stroke="#222" stroke-width="0.18">Hoxa9</text>
<text x="186.00" y="490.20" font-size="5.54" textLength="17.00" lengthAdjust="spacingAndGlyphs" stroke="#222" stroke-width="0.18">(FLAG)</text>
<text x="186.00" y="504.50" font-size="5.54" textLength="18.60" lengthAdjust="spacingAndGlyphs" stroke="#222" stroke-width="0.18">C/EBPα</text>
<text x="187.70" y="520.10" font-size="5.54" textLength="15.20" lengthAdjust="spacingAndGlyphs" stroke="#222" stroke-width="0.18">Hoxa9</text>
<text x="186.00" y="526.50" font-size="5.54" textLength="17.00" lengthAdjust="spacingAndGlyphs" stroke="#222" stroke-width="0.18">(FLAG)</text>
<text x="186.00" y="540.80" font-size="5.54" textLength="18.60" lengthAdjust="spacingAndGlyphs" stroke="#222" stroke-width="0.18">C/EBPα</text>
<text x="187.30" y="558.20" font-size="5.54" textLength="21.50" lengthAdjust="spacingAndGlyphs" stroke="#222" stroke-width="0.18">H3K27ac</text>
<text x="187.30" y="578.50" font-size="5.54" textLength="21.50" lengthAdjust="spacingAndGlyphs" stroke="#222" stroke-width="0.18">H3K27ac</text>
<text x="384.60" y="433.80" font-size="5.54" font-style="italic" textLength="10.80" lengthAdjust="spacingAndGlyphs" stroke="#222" stroke-width="0.18">Ly6e</text>
<text x="408.90" y="442.10" font-size="5.35" textLength="24.10" lengthAdjust="spacingAndGlyphs" stroke="#222" stroke-width="0.18">74,790 kb</text>
<text x="471.90" y="442.10" font-size="5.35" textLength="23.40" lengthAdjust="spacingAndGlyphs" stroke="#222" stroke-width="0.18">74,800 kb</text>
<rect x="379.40" y="450.90" width="119.80" height="1.30" fill="#333"/>
<rect x="389.30" y="446.80" width="1.00" height="4.60" fill="#333"/>
<rect x="420.10" y="446.80" width="1.00" height="4.60" fill="#333"/>
<rect x="452.00" y="446.80" width="1.00" height="4.60" fill="#333"/>
<rect x="483.20" y="446.80" width="1.00" height="4.60" fill="#333"/>
<rect x="379.40" y="455.50" width="119.80" height="1.80" fill="#d2d2d2"/>
<rect x="392.40" y="461.10" width="3.80" height="3.00" fill="#24407f"/>
<rect x="396.00" y="462.10" width="13.40" height="1.00" fill="#26428a"/>
<rect x="399.50" y="461.80" width="1.20" height="1.60" fill="#24407f"/>
<rect x="401.70" y="461.80" width="1.20" height="1.60" fill="#24407f"/>
<rect x="409.20" y="459.40" width="1.30" height="6.40" fill="#3a5596"/>
<rect x="412.20" y="459.40" width="2.60" height="6.40" fill="#2e4a8c"/>
<rect x="410.50" y="462.20" width="1.70" height="0.80" fill="#2b4a90"/>
<rect x="414.80" y="461.10" width="7.80" height="3.00" fill="#24407f"/>
<text x="353.00" y="462.90" font-size="5.54" textLength="16.00" lengthAdjust="spacingAndGlyphs" stroke="#222" stroke-width="0.18">Chr 15</text>
<text x="353.00" y="469.30" font-size="5.54" textLength="13.00" lengthAdjust="spacingAndGlyphs" stroke="#222" stroke-width="0.18">ChIP:</text>
<text x="402.00" y="472.80" font-size="5.35" textLength="10.70" lengthAdjust="spacingAndGlyphs" stroke="#222" stroke-width="0.18">Ly6e</text>
<text x="471.90" y="472.80" font-size="5.35" textLength="9.50" lengthAdjust="spacingAndGlyphs" stroke="#222" stroke-width="0.18">5 kb</text>
<rect x="462.90" y="474.10" width="31.50" height="1.80" fill="#000"/>
<rect x="379.40" y="474.20" width="83.50" height="1.40" fill="#d6d6d6"/>
<rect x="494.40" y="474.20" width="4.80" height="1.40" fill="#d6d6d6"/>
<rect x="379.40" y="492.75" width="119.80" height="1" fill="#e6a0a8"/>
<path d="M379.4,493.2L379.4,493.1 379.9,492.8 380.4,492.8 380.9,492.9 381.4,493.1 381.9,492.7 382.4,492.7 382.9,492.9 383.4,492.9 383.9,493.1 384.4,493.2 384.9,493.0 385.4,492.8 385.9,493.2 386.4,492.7 386.9,493.1 387.4,493.1 387.9,493.2 388.4,492.6 388.9,492.7 389.4,492.6 389.9,492.8 390.4,493.2 390.9,493.0 391.4,492.9 391.9,493.2 392.4,492.6 392.9,493.0 393.4,493.1 393.9,492.7 394.4,493.1 394.9,492.4 395.4,492.2 395.9,491.3 396.4,491.3 396.9,492.0 397.4,492.9 397.9,493.2 398.4,492.6 398.9,493.1 399.5,492.7 400.0,493.1 400.5,492.5 401.0,492.2 401.5,491.5 402.0,490.9 402.5,491.5 403.0,492.2 403.5,493.1 404.0,492.9 404.5,492.7 405.0,493.1 405.5,492.6 406.0,492.6 406.5,493.0 407.0,493.0 407.5,492.9 408.0,493.0 408.5,492.6 409.0,493.0 409.5,493.2 410.0,493.2 410.5,492.7 411.0,492.6 411.5,492.9 412.0,492.9 412.5,492.9 413.0,492.7 413.5,493.1 414.0,492.8 414.5,492.9 415.0,492.8 415.5,493.1 416.0,493.1 416.5,493.0 417.0,492.6 417.5,493.0 418.0,492.8 418.5,492.8 419.0,492.8 419.5,492.7 420.0,492.1 420.5,492.2 421.0,492.6 421.5,492.6 422.0,492.7 422.5,492.6 423.0,492.6 423.5,493.0 424.0,492.6 424.5,492.6 425.0,492.8 425.5,492.6 426.0,492.9 426.5,493.0 427.0,493.1 427.5,492.6 428.0,493.1 428.5,493.2 429.0,492.7 429.5,492.7 430.0,492.9 430.5,492.7 431.0,493.2 431.5,493.1 432.0,493.0 432.5,493.0 433.0,493.1 433.5,493.2 434.0,493.0 434.5,492.6 435.0,492.6 435.5,492.7 436.0,492.9 436.5,493.1 437.0,492.6 437.5,492.9 438.0,492.7 438.5,493.2 439.0,493.1 439.6,492.7 440.1,492.7 440.6,492.6 441.1,492.8 441.6,492.9 442.1,492.7 442.6,492.0 443.1,491.4 443.6,490.4 444.1,490.7 444.6,491.4 445.1,492.8 445.6,492.7 446.1,492.6 446.6,493.2 447.1,492.8 447.6,492.8 448.1,492.7 448.6,492.8 449.1,493.1 449.6,493.0 450.1,492.6 450.6,492.6 451.1,493.2 451.6,493.2 452.1,493.2 452.6,493.2 453.1,492.9 453.6,493.2 454.1,492.6 454.6,492.8 455.1,493.2 455.6,492.9 456.1,493.0 456.6,492.9 457.1,493.1 457.6,493.1 458.1,493.0 458.6,492.8 459.1,492.4 459.6,492.3 460.1,492.6 460.6,492.3 461.1,492.3 461.6,492.5 462.1,492.6 462.6,493.2 463.1,492.9 463.6,493.2 464.1,492.7 464.6,493.1 465.1,492.8 465.6,493.1 466.1,492.8 466.6,493.0 467.1,493.2 467.6,493.0 468.1,493.0 468.6,492.6 469.1,493.0 469.6,492.9 470.1,492.9 470.6,492.6 471.1,493.2 471.6,492.7 472.1,492.7 472.6,492.3 473.1,491.7 473.6,491.8 474.1,491.2 474.6,491.3 475.1,491.5 475.6,492.2 476.1,492.1 476.6,492.2 477.1,492.9 477.6,493.0 478.1,492.5 478.6,493.2 479.1,493.2 479.7,493.2 480.2,492.7 480.7,492.7 481.2,492.9 481.7,492.8 482.2,493.2 482.7,492.8 483.2,492.9 483.7,492.9 484.2,493.0 484.7,493.0 485.2,493.1 485.7,493.2 486.2,492.9 486.7,493.1 487.2,492.8 487.7,492.7 488.2,492.7 488.7,492.9 489.2,493.1 489.7,493.0 490.2,492.9 490.7,492.8 491.2,492.6 491.7,493.2 492.2,492.9 492.7,492.9 493.2,492.7 493.7,492.6 494.2,492.7 494.7,492.8 495.2,492.7 495.7,492.8 496.2,492.6 496.7,492.8 497.2,492.8 497.7,493.1 498.2,492.6 498.7,493.0 499.2,492.8 499.2,493.2Z" fill="#b5001f"/>
<rect x="379.40" y="510.75" width="119.80" height="1" fill="#a8d49e"/>
<path d="M379.4,511.2L379.4,510.9 379.9,511.2 380.4,511.2 380.9,510.9 381.4,511.2 381.9,511.2 382.4,511.0 382.9,511.1 383.4,510.9 383.9,511.2 384.4,510.9 384.9,511.0 385.4,510.4 385.9,509.6 386.4,510.1 386.9,510.7 387.4,511.0 387.9,511.2 388.4,510.9 388.9,511.0 389.4,511.1 389.9,511.2 390.4,511.0 390.9,511.0 391.4,510.9 391.9,511.0 392.4,510.9 392.9,511.1 393.4,511.0 393.9,511.0 394.4,511.2 394.9,510.9 395.4,511.1 395.9,511.0 396.4,510.9 396.9,511.0 397.4,511.2 397.9,511.0 398.4,511.0 398.9,511.2 399.5,511.2 400.0,511.1 400.5,511.2 401.0,510.9 401.5,511.1 402.0,511.1 402.5,511.1 403.0,511.0 403.5,510.9 404.0,511.1 404.5,511.1 405.0,511.0 405.5,511.1 406.0,511.0 406.5,511.1 407.0,511.1 407.5,511.0 408.0,511.1 408.5,511.2 409.0,510.9 409.5,511.1 410.0,511.1 410.5,511.1 411.0,510.9 411.5,510.9 412.0,511.1 412.5,511.1 413.0,511.2 413.5,510.9 414.0,511.1 414.5,510.6 415.0,510.4 415.5,510.7 416.0,511.0 416.5,511.2 417.0,511.2 417.5,511.1 418.0,511.0 418.5,511.0 419.0,511.2 419.5,511.0 420.0,511.2 420.5,511.0 421.0,510.7 421.5,510.3 422.0,510.2 422.5,510.0 423.0,510.1 423.5,510.1 424.0,510.2 424.5,510.3 425.0,510.8 425.5,511.0 426.0,511.0 426.5,511.0 427.0,511.1 427.5,511.0 428.0,511.0 428.5,511.0 429.0,510.8 429.5,510.7 430.0,510.3 430.5,510.6 431.0,511.0 431.5,511.2 432.0,511.0 432.5,511.1 433.0,511.2 433.5,511.2 434.0,510.9 434.5,511.1 435.0,511.2 435.5,511.2 436.0,511.2 436.5,510.9 437.0,511.2 437.5,511.2 438.0,511.2 438.5,511.1 439.0,511.2 439.6,511.1 440.1,510.9 440.6,510.4 441.1,510.2 441.6,510.8 442.1,510.9 442.6,510.2 443.1,509.9 443.6,509.8 444.1,510.4 444.6,511.0 445.1,511.0 445.6,511.0 446.1,511.1 446.6,511.2 447.1,511.2 447.6,511.2 448.1,511.2 448.6,511.0 449.1,511.2 449.6,510.9 450.1,511.0 450.6,511.2 451.1,511.1 451.6,511.0 452.1,511.2 452.6,511.1 453.1,511.2 453.6,511.0 454.1,511.2 454.6,511.0 455.1,510.9 455.6,511.0 456.1,511.2 456.6,511.1 457.1,511.2 457.6,511.1 458.1,510.9 458.6,511.0 459.1,511.1 459.6,510.6 460.1,510.3 460.6,510.9 461.1,510.9 461.6,510.9 462.1,511.1 462.6,511.1 463.1,511.0 463.6,511.1 464.1,511.2 464.6,511.2 465.1,511.2 465.6,511.0 466.1,511.1 466.6,511.0 467.1,511.0 467.6,510.9 468.1,511.2 468.6,511.1 469.1,510.9 469.6,511.0 470.1,511.1 470.6,511.0 471.1,511.2 471.6,511.2 472.1,511.2 472.6,511.1 473.1,511.2 473.6,511.1 474.1,510.9 474.6,511.2 475.1,511.1 475.6,510.9 476.1,511.0 476.6,511.1 477.1,511.0 477.6,511.2 478.1,510.9 478.6,511.0 479.1,511.0 479.7,511.0 480.2,511.2 480.7,511.2 481.2,511.2 481.7,511.1 482.2,510.9 482.7,510.9 483.2,511.1 483.7,511.0 484.2,511.0 484.7,511.1 485.2,510.9 485.7,510.9 486.2,511.0 486.7,510.9 487.2,511.0 487.7,511.0 488.2,511.1 488.7,511.2 489.2,511.2 489.7,511.2 490.2,510.9 490.7,511.1 491.2,511.2 491.7,511.1 492.2,511.2 492.7,511.1 493.2,511.1 493.7,511.2 494.2,511.1 494.7,511.1 495.2,511.1 495.7,511.0 496.2,511.1 496.7,511.1 497.2,510.9 497.7,510.9 498.2,511.1 498.7,511.2 499.2,510.9 499.2,511.2Z" fill="#3d9a2e"/>
<rect x="442.85" y="500.05" width="0.90" height="11.20" fill="#3d9a2e"/>
<rect x="421.10" y="508.75" width="0.80" height="2.50" fill="#3d9a2e"/>
<rect x="422.80" y="508.25" width="0.80" height="3.00" fill="#3d9a2e"/>
<rect x="424.60" y="508.65" width="0.80" height="2.60" fill="#3d9a2e"/>
<rect x="379.40" y="528.50" width="119.80" height="1" fill="#e6a0a8"/>
<path d="M379.4,529.0L379.4,528.2 379.9,528.1 380.4,528.2 380.9,528.9 381.4,528.5 381.9,528.6 382.4,528.5 382.9,528.9 383.4,528.8 383.9,528.6 384.4,528.8 384.9,528.6 385.4,529.0 385.9,528.9 386.4,528.4 386.9,528.6 387.4,528.5 387.9,528.3 388.4,528.7 388.9,528.9 389.4,528.3 389.9,528.5 390.4,528.4 390.9,528.1 391.4,527.2 391.9,527.2 392.4,527.2 392.9,528.2 393.4,528.4 393.9,528.4 394.4,528.7 394.9,528.9 395.4,528.6 395.9,528.4 396.4,528.5 396.9,528.6 397.4,528.4 397.9,528.7 398.4,528.3 398.9,527.1 399.5,525.8 400.0,526.9 400.5,527.6 401.0,526.7 401.5,524.2 402.0,522.3 402.5,523.2 403.0,525.7 403.5,528.0 404.0,528.5 404.5,528.7 405.0,528.7 405.5,528.3 406.0,528.5 406.5,528.8 407.0,528.9 407.5,528.3 408.0,528.4 408.5,528.3 409.0,528.8 409.5,528.5 410.0,528.2 410.5,528.5 411.0,528.1 411.5,528.8 412.0,528.1 412.5,528.9 413.0,528.6 413.5,529.0 414.0,528.3 414.5,528.4 415.0,528.1 415.5,528.3 416.0,527.9 416.5,527.3 417.0,526.1 417.5,527.1 418.0,528.4 418.5,528.1 419.0,528.7 419.5,528.8 420.0,528.9 420.5,528.6 421.0,528.8 421.5,528.2 422.0,528.1 422.5,528.8 423.0,528.9 423.5,528.5 424.0,528.8 424.5,528.5 425.0,528.3 425.5,528.8 426.0,528.6 426.5,528.2 427.0,528.6 427.5,528.7 428.0,528.2 428.5,528.3 429.0,528.2 429.5,528.4 430.0,528.6 430.5,528.4 431.0,528.3 431.5,528.4 432.0,528.8 432.5,528.7 433.0,528.6 433.5,528.3 434.0,528.5 434.5,528.5 435.0,528.3 435.5,528.9 436.0,528.4 436.5,528.7 437.0,528.5 437.5,528.2 438.0,528.8 438.5,528.1 439.0,528.9 439.6,528.4 440.1,527.8 440.6,526.1 441.1,524.5 441.6,526.4 442.1,528.2 442.6,528.3 443.1,528.8 443.6,527.7 444.1,526.4 444.6,527.1 445.1,527.3 445.6,528.6 446.1,528.4 446.6,528.8 447.1,528.6 447.6,528.6 448.1,528.9 448.6,528.4 449.1,528.6 449.6,528.4 450.1,528.5 450.6,528.5 451.1,528.5 451.6,528.7 452.1,528.2 452.6,528.9 453.1,528.2 453.6,528.2 454.1,528.6 454.6,528.3 455.1,528.4 455.6,528.5 456.1,528.7 456.6,528.7 457.1,528.7 457.6,528.7 458.1,527.8 458.6,527.6 459.1,527.2 459.6,527.9 460.1,528.1 460.6,528.6 461.1,528.5 461.6,528.8 462.1,528.7 462.6,528.9 463.1,528.8 463.6,528.8 464.1,528.2 464.6,528.5 465.1,528.9 465.6,528.6 466.1,528.9 466.6,528.5 467.1,528.6 467.6,528.2 468.1,528.8 468.6,528.2 469.1,528.8 469.6,528.1 470.1,528.4 470.6,529.0 471.1,528.3 471.6,528.8 472.1,528.7 472.6,528.9 473.1,528.2 473.6,528.9 474.1,528.3 474.6,528.4 475.1,527.0 475.6,525.6 476.1,525.2 476.6,526.0 477.1,527.8 477.6,528.8 478.1,528.1 478.6,528.2 479.1,528.8 479.7,529.0 480.2,528.5 480.7,528.9 481.2,528.3 481.7,528.6 482.2,528.4 482.7,528.5 483.2,528.3 483.7,528.3 484.2,528.5 484.7,528.5 485.2,528.7 485.7,528.9 486.2,528.9 486.7,528.2 487.2,528.5 487.7,527.6 488.2,527.6 488.7,528.0 489.2,528.4 489.7,528.2 490.2,528.6 490.7,528.7 491.2,528.4 491.7,528.3 492.2,528.2 492.7,528.7 493.2,528.2 493.7,528.1 494.2,528.1 494.7,528.9 495.2,528.7 495.7,528.3 496.2,528.3 496.7,529.0 497.2,528.6 497.7,528.3 498.2,528.3 498.7,528.5 499.2,528.8 499.2,529.0Z" fill="#b5001f"/>
<rect x="443.85" y="514.80" width="0.90" height="14.20" fill="#b5001f"/>
<rect x="379.40" y="546.75" width="119.80" height="1" fill="#a8d49e"/>
<path d="M379.4,547.2L379.4,547.1 379.9,547.0 380.4,547.2 380.9,547.0 381.4,547.2 381.9,547.1 382.4,547.2 382.9,547.1 383.4,547.2 383.9,547.1 384.4,547.1 384.9,547.1 385.4,547.1 385.9,547.0 386.4,547.0 386.9,547.2 387.4,547.1 387.9,547.0 388.4,547.1 388.9,547.1 389.4,547.2 389.9,547.0 390.4,547.2 390.9,547.1 391.4,547.0 391.9,547.2 392.4,547.2 392.9,547.2 393.4,547.1 393.9,547.2 394.4,547.0 394.9,547.0 395.4,547.2 395.9,547.0 396.4,547.2 396.9,547.2 397.4,547.1 397.9,547.0 398.4,547.0 398.9,546.9 399.5,546.4 400.0,546.0 400.5,546.3 401.0,546.8 401.5,547.2 402.0,547.1 402.5,547.2 403.0,547.2 403.5,547.1 404.0,547.1 404.5,547.0 405.0,547.2 405.5,547.1 406.0,547.0 406.5,546.9 407.0,546.4 407.5,546.0 408.0,546.3 408.5,547.0 409.0,547.1 409.5,547.1 410.0,547.2 410.5,547.1 411.0,547.1 411.5,547.1 412.0,547.0 412.5,547.2 413.0,547.2 413.5,547.1 414.0,547.1 414.5,547.0 415.0,547.2 415.5,547.2 416.0,547.2 416.5,547.1 417.0,547.2 417.5,547.1 418.0,547.1 418.5,547.2 419.0,547.0 419.5,547.1 420.0,547.0 420.5,547.1 421.0,547.1 421.5,547.1 422.0,547.2 422.5,547.2 423.0,547.2 423.5,547.2 424.0,547.2 424.5,547.0 425.0,547.1 425.5,547.1 426.0,547.2 426.5,547.2 427.0,547.1 427.5,547.1 428.0,547.1 428.5,547.1 429.0,546.8 429.5,546.4 430.0,546.0 430.5,546.4 431.0,547.0 431.5,547.1 432.0,547.2 432.5,547.2 433.0,547.1 433.5,547.2 434.0,547.1 434.5,547.0 435.0,547.1 435.5,547.0 436.0,547.2 436.5,547.1 437.0,546.9 437.5,546.5 438.0,546.0 438.5,546.1 439.0,545.8 439.6,546.0 440.1,546.1 440.6,546.6 441.1,546.8 441.6,547.0 442.1,547.2 442.6,547.2 443.1,547.2 443.6,547.1 444.1,547.2 444.6,547.1 445.1,547.1 445.6,547.1 446.1,547.2 446.6,547.1 447.1,547.1 447.6,547.1 448.1,547.1 448.6,547.0 449.1,547.0 449.6,547.0 450.1,547.2 450.6,547.2 451.1,547.2 451.6,547.2 452.1,547.0 452.6,547.2 453.1,547.0 453.6,547.2 454.1,547.1 454.6,547.2 455.1,547.2 455.6,547.1 456.1,547.1 456.6,547.0 457.1,547.2 457.6,547.2 458.1,547.2 458.6,547.2 459.1,547.0 459.6,547.1 460.1,547.1 460.6,547.2 461.1,547.1 461.6,547.1 462.1,547.2 462.6,547.2 463.1,547.2 463.6,547.0 464.1,547.1 464.6,547.2 465.1,547.2 465.6,547.2 466.1,547.1 466.6,547.1 467.1,547.2 467.6,547.2 468.1,547.2 468.6,547.0 469.1,547.1 469.6,547.0 470.1,547.2 470.6,547.1 471.1,547.1 471.6,547.0 472.1,547.2 472.6,547.2 473.1,547.0 473.6,547.0 474.1,547.1 474.6,547.2 475.1,547.2 475.6,547.1 476.1,547.0 476.6,547.2 477.1,547.1 477.6,547.1 478.1,547.2 478.6,547.2 479.1,547.0 479.7,546.5 480.2,546.1 480.7,546.0 481.2,546.2 481.7,546.7 482.2,547.0 482.7,547.1 483.2,547.2 483.7,547.1 484.2,547.1 484.7,547.2 485.2,547.2 485.7,547.2 486.2,547.0 486.7,547.0 487.2,547.1 487.7,547.1 488.2,547.1 488.7,547.2 489.2,547.1 489.7,547.1 490.2,547.0 490.7,547.2 491.2,547.0 491.7,547.2 492.2,547.1 492.7,547.0 493.2,547.2 493.7,547.1 494.2,547.2 494.7,547.1 495.2,547.1 495.7,547.0 496.2,547.1 496.7,547.0 497.2,547.1 497.7,547.0 498.2,547.2 498.7,547.2 499.2,547.1 499.2,547.2Z" fill="#3d9a2e"/>
<rect x="379.40" y="565.00" width="119.80" height="1" fill="#8090c8"/>
<path d="M379.4,565.5L379.4,565.4 379.9,565.3 380.4,565.3 380.9,565.5 381.4,565.3 381.9,565.4 382.4,565.5 382.9,565.3 383.4,565.4 383.9,565.4 384.4,565.4 384.9,565.4 385.4,565.5 385.9,565.4 386.4,565.3 386.9,565.4 387.4,565.3 387.9,565.4 388.4,565.3 388.9,565.5 389.4,565.4 389.9,565.4 390.4,565.5 390.9,565.3 391.4,565.4 391.9,565.4 392.4,565.3 392.9,565.2 393.4,565.1 393.9,564.7 394.4,564.1 394.9,563.4 395.4,562.4 395.9,561.5 396.4,561.0 396.9,560.5 397.4,560.9 397.9,561.4 398.4,562.1 398.9,563.2 399.5,563.9 400.0,564.5 400.5,564.9 401.0,565.2 401.5,565.3 402.0,565.4 402.5,565.5 403.0,565.3 403.5,565.4 404.0,565.5 404.5,565.4 405.0,565.3 405.5,565.4 406.0,565.4 406.5,565.4 407.0,565.5 407.5,565.4 408.0,565.4 408.5,565.5 409.0,565.5 409.5,565.5 410.0,565.4 410.5,565.3 411.0,565.3 411.5,565.5 412.0,565.5 412.5,565.3 413.0,565.4 413.5,565.5 414.0,565.4 414.5,565.4 415.0,565.4 415.5,565.4 416.0,565.4 416.5,565.4 417.0,565.4 417.5,565.4 418.0,565.4 418.5,565.4 419.0,565.3 419.5,565.5 420.0,565.3 420.5,565.4 421.0,565.3 421.5,565.4 422.0,565.4 422.5,565.4 423.0,565.5 423.5,565.5 424.0,565.4 424.5,565.4 425.0,565.5 425.5,565.3 426.0,565.4 426.5,565.5 427.0,565.4 427.5,565.5 428.0,565.3 428.5,565.4 429.0,565.3 429.5,565.4 430.0,565.5 430.5,565.4 431.0,565.3 431.5,565.3 432.0,565.4 432.5,565.4 433.0,565.3 433.5,565.3 434.0,565.1 434.5,565.0 435.0,564.9 435.5,564.7 436.0,564.4 436.5,564.2 437.0,564.1 437.5,564.0 438.0,563.6 438.5,563.7 439.0,563.7 439.6,563.6 440.1,563.8 440.6,563.9 441.1,564.1 441.6,564.4 442.1,564.5 442.6,564.7 443.1,564.7 443.6,564.9 444.1,564.9 444.6,564.7 445.1,564.7 445.6,564.5 446.1,564.4 446.6,564.3 447.1,564.2 447.6,564.0 448.1,564.1 448.6,564.3 449.1,564.5 449.6,564.7 450.1,564.8 450.6,565.0 451.1,565.1 451.6,565.3 452.1,565.3 452.6,565.3 453.1,565.3 453.6,565.4 454.1,565.5 454.6,565.5 455.1,565.5 455.6,565.5 456.1,565.4 456.6,565.4 457.1,565.5 457.6,565.3 458.1,565.4 458.6,565.4 459.1,565.3 459.6,565.4 460.1,565.3 460.6,565.3 461.1,565.3 461.6,565.5 462.1,565.3 462.6,565.3 463.1,565.5 463.6,565.3 464.1,565.3 464.6,565.5 465.1,565.3 465.6,565.3 466.1,565.3 466.6,565.4 467.1,565.1 467.6,565.3 468.1,565.2 468.6,564.9 469.1,564.9 469.6,564.9 470.1,564.7 470.6,564.5 471.1,564.4 471.6,564.0 472.1,563.0 472.6,560.5 473.1,557.0 473.6,555.1 474.1,554.4 474.6,554.6 475.1,555.4 475.6,558.0 476.1,561.5 476.6,563.5 477.1,564.1 477.6,564.4 478.1,564.5 478.6,564.6 479.1,564.7 479.7,564.9 480.2,565.1 480.7,565.0 481.2,565.2 481.7,565.3 482.2,565.3 482.7,565.3 483.2,565.2 483.7,565.4 484.2,565.3 484.7,565.4 485.2,565.5 485.7,565.4 486.2,565.3 486.7,565.5 487.2,565.4 487.7,565.5 488.2,565.4 488.7,565.4 489.2,565.4 489.7,565.4 490.2,565.4 490.7,565.3 491.2,565.3 491.7,565.4 492.2,565.5 492.7,565.3 493.2,565.4 493.7,565.4 494.2,565.5 494.7,565.5 495.2,565.5 495.7,565.4 496.2,565.4 496.7,565.3 497.2,565.5 497.7,565.4 498.2,565.5 498.7,565.4 499.2,565.3 499.2,565.5Z" fill="#1a2f8c"/>
<rect x="379.40" y="583.00" width="119.80" height="1" fill="#8090c8"/>
<path d="M379.4,583.5L379.4,583.3 379.9,583.4 380.4,583.4 380.9,583.3 381.4,583.5 381.9,583.3 382.4,583.3 382.9,583.5 383.4,583.3 383.9,583.3 384.4,583.3 384.9,583.2 385.4,583.2 385.9,583.4 386.4,583.2 386.9,583.3 387.4,583.2 387.9,583.5 388.4,583.2 388.9,583.4 389.4,583.2 389.9,582.3 390.4,580.1 390.9,577.7 391.4,576.7 391.9,576.1 392.4,575.7 392.9,574.2 393.4,572.4 393.9,570.4 394.4,569.4 394.9,569.9 395.4,571.0 395.9,571.1 396.4,570.1 396.9,569.2 397.4,570.0 397.9,571.3 398.4,571.2 398.9,570.5 399.5,570.5 400.0,572.3 400.5,573.9 401.0,575.1 401.5,575.5 402.0,576.3 402.5,578.4 403.0,580.7 403.5,581.5 404.0,581.7 404.5,582.0 405.0,581.9 405.5,582.1 406.0,582.1 406.5,582.1 407.0,582.6 407.5,582.6 408.0,582.8 408.5,582.8 409.0,582.8 409.5,583.0 410.0,583.1 410.5,583.3 411.0,583.4 411.5,583.3 412.0,583.4 412.5,583.2 413.0,582.6 413.5,582.4 414.0,582.1 414.5,582.1 415.0,582.1 415.5,582.0 416.0,582.1 416.5,582.2 417.0,582.2 417.5,582.2 418.0,582.3 418.5,582.3 419.0,582.1 419.5,582.1 420.0,582.0 420.5,582.1 421.0,582.1 421.5,582.2 422.0,582.2 422.5,582.3 423.0,582.9 423.5,583.3 424.0,583.3 424.5,583.4 425.0,583.4 425.5,583.5 426.0,583.4 426.5,583.5 427.0,583.3 427.5,583.5 428.0,583.5 428.5,583.3 429.0,583.4 429.5,583.5 430.0,583.2 430.5,583.4 431.0,583.2 431.5,583.3 432.0,583.3 432.5,583.4 433.0,583.4 433.5,582.9 434.0,582.6 434.5,582.1 435.0,581.9 435.5,582.0 436.0,582.5 436.5,583.1 437.0,583.2 437.5,583.3 438.0,583.2 438.5,582.2 439.0,579.5 439.6,575.5 440.1,574.0 440.6,576.5 441.1,580.4 441.6,582.7 442.1,583.3 442.6,583.4 443.1,583.4 443.6,583.3 444.1,583.5 444.6,583.1 445.1,583.0 445.6,582.8 446.1,581.9 446.6,580.6 447.1,579.4 447.6,578.1 448.1,578.0 448.6,578.4 449.1,579.6 449.6,581.0 450.1,582.0 450.6,582.7 451.1,583.0 451.6,583.4 452.1,583.3 452.6,583.5 453.1,583.3 453.6,583.4 454.1,583.4 454.6,583.5 455.1,583.5 455.6,583.4 456.1,583.4 456.6,583.3 457.1,583.3 457.6,583.3 458.1,583.4 458.6,583.4 459.1,583.3 459.6,583.4 460.1,583.3 460.6,583.2 461.1,583.3 461.6,583.3 462.1,583.3 462.6,583.0 463.1,582.3 463.6,582.2 464.1,582.3 464.6,582.6 465.1,583.1 465.6,583.2 466.1,583.4 466.6,583.4 467.1,583.4 467.6,583.3 468.1,583.3 468.6,583.5 469.1,583.3 469.6,583.3 470.1,583.4 470.6,583.5 471.1,583.5 471.6,583.2 472.1,583.3 472.6,583.1 473.1,582.5 473.6,581.1 474.1,579.5 474.6,577.9 475.1,576.5 475.6,576.3 476.1,577.4 476.6,578.9 477.1,580.6 477.6,581.9 478.1,582.7 478.6,583.1 479.1,583.4 479.7,583.4 480.2,583.2 480.7,583.3 481.2,583.4 481.7,583.4 482.2,583.2 482.7,583.4 483.2,583.5 483.7,583.3 484.2,583.3 484.7,583.4 485.2,583.4 485.7,583.4 486.2,583.2 486.7,583.3 487.2,583.0 487.7,582.6 488.2,582.2 488.7,581.9 489.2,581.7 489.7,581.6 490.2,582.0 490.7,582.2 491.2,582.8 491.7,583.1 492.2,583.3 492.7,583.2 493.2,583.4 493.7,583.4 494.2,583.4 494.7,583.5 495.2,583.5 495.7,583.4 496.2,583.3 496.7,583.3 497.2,583.4 497.7,583.5 498.2,583.4 498.7,583.3 499.2,583.4 499.2,583.5Z" fill="#1a2f8c"/>
<text x="379.50" y="480.75" font-size="5.35" textLength="5.95" lengthAdjust="spacingAndGlyphs" stroke="#222" stroke-width="0.18">35</text>
<text x="379.50" y="499.00" font-size="5.35" textLength="5.95" lengthAdjust="spacingAndGlyphs" stroke="#222" stroke-width="0.18">35</text>
<text x="379.50" y="516.80" font-size="5.35" textLength="5.95" lengthAdjust="spacingAndGlyphs" stroke="#222" stroke-width="0.18">35</text>
<text x="379.50" y="535.00" font-size="5.35" textLength="5.95" lengthAdjust="spacingAndGlyphs" stroke="#222" stroke-width="0.18">35</text>
<text x="379.50" y="553.50" font-size="5.35" textLength="8.92" lengthAdjust="spacingAndGlyphs" stroke="#222" stroke-width="0.18">100</text>
<text x="379.50" y="570.50" font-size="5.35" textLength="8.92" lengthAdjust="spacingAndGlyphs" stroke="#222" stroke-width="0.18">100</text>
<rect x="351.60" y="477.80" width="1.10" height="31.70" fill="#222"/>
<rect x="351.60" y="512.60" width="1.10" height="31.60" fill="#222"/>
<rect x="351.60" y="547.90" width="1.10" height="16.40" fill="#222"/>
<rect x="351.60" y="567.30" width="1.10" height="16.40" fill="#222"/>
<text x="340.70" y="495.60" font-size="5.54" textLength="8.30" lengthAdjust="spacingAndGlyphs" stroke="#222" stroke-width="0.18">null</text>
<text x="345.40" y="529.80" font-size="5.54" textLength="3.60" lengthAdjust="spacingAndGlyphs" stroke="#222" stroke-width="0.18">hi</text>
<text x="340.70" y="558.50" font-size="5.54" textLength="8.30" lengthAdjust="spacingAndGlyphs" stroke="#222" stroke-width="0.18">null</text>
<text x="345.40" y="577.00" font-size="5.54" textLength="3.60" lengthAdjust="spacingAndGlyphs" stroke="#222" stroke-width="0.18">hi</text>
<text x="357.70" y="483.30" font-size="5.54" textLength="15.70" lengthAdjust="spacingAndGlyphs" stroke="#222" stroke-width="0.18">Hoxa9</text>
<text x="356.60" y="490.50" font-size="5.54" textLength="17.40" lengthAdjust="spacingAndGlyphs" stroke="#222" stroke-width="0.18">(FLAG)</text>
<text x="356.60" y="505.20" font-size="5.54" textLength="18.90" lengthAdjust="spacingAndGlyphs" stroke="#222" stroke-width="0.18">C/EBPα</text>
<text x="357.70" y="519.80" font-size="5.54" textLength="15.70" lengthAdjust="spacingAndGlyphs" stroke="#222" stroke-width="0.18">Hoxa9</text>
<text x="356.60" y="527.00" font-size="5.54" textLength="17.40" lengthAdjust="spacingAndGlyphs" stroke="#222" stroke-width="0.18">(FLAG)</text>
<text x="356.60" y="541.40" font-size="5.54" textLength="18.90" lengthAdjust="spacingAndGlyphs" stroke="#222" stroke-width="0.18">C/EBPα</text>
<text x="357.70" y="558.50" font-size="5.54" textLength="21.90" lengthAdjust="spacingAndGlyphs" stroke="#222" stroke-width="0.18">H3K27ac</text>
<text x="357.70" y="579.00" font-size="5.54" textLength="21.90" lengthAdjust="spacingAndGlyphs" stroke="#222" stroke-width="0.18">H3K27ac</text>
</svg><div id="bd"></div></div></body></html>
